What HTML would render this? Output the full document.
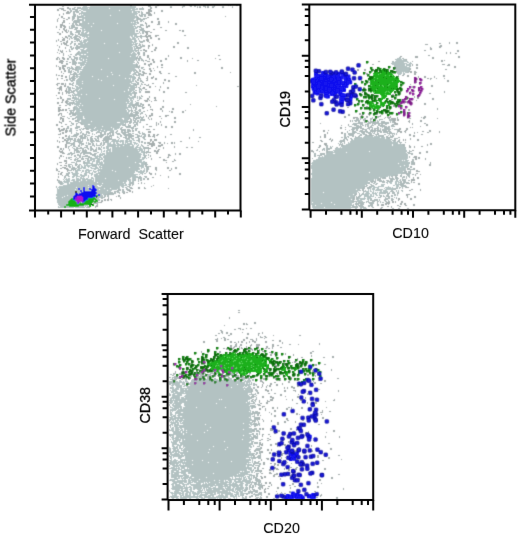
<!DOCTYPE html>
<html><head><meta charset="utf-8"><style>
html,body{margin:0;padding:0;background:#fff;overflow:hidden;}
svg{display:block;}
</style></head><body>
<svg width="520" height="537" viewBox="0 0 520 537" shape-rendering="crispEdges">
<defs><filter id="t" x="-5%" y="-5%" width="110%" height="110%"><feConvolveMatrix order="3" kernelMatrix="0.0016 0.0368 0.0016 0.0368 0.8464 0.0368 0.0016 0.0368 0.0016" edgeMode="none"/></filter></defs><defs><filter id="b" x="-5%" y="-5%" width="110%" height="110%"><feConvolveMatrix order="3" kernelMatrix="0.0196 0.1008 0.0196 0.1008 0.5184 0.1008 0.0196 0.1008 0.0196" edgeMode="none"/></filter></defs><g filter="url(#b)"><path fill="#b3c2c2" d="M83 6h4v1h-4zM90 6h46v1h-46zM82 7h54v1h-54zM81 8h7v1h-7zM89 8h20v1h-20zM110 8h25v1h-25zM136 8h2v1h-2zM81 9h50v1h-50zM132 9h6v1h-6zM83 10h36v1h-36zM120 10h15v1h-15zM81 11h2v1h-2zM86 11h46v1h-46zM133 11h5v1h-5zM81 12h51v1h-51zM133 12h4v1h-4zM81 13h57v1h-57zM81 14h1v1h-1zM83 14h54v1h-54zM81 15h29v1h-29zM111 15h24v1h-24zM136 15h1v1h-1zM81 16h3v1h-3zM85 16h52v1h-52zM81 17h56v1h-56zM82 18h53v1h-53zM136 18h1v1h-1zM81 19h3v1h-3zM85 19h49v1h-49zM136 19h1v1h-1zM81 20h3v1h-3zM85 20h52v1h-52zM82 21h54v1h-54zM82 22h49v1h-49zM132 22h1v1h-1zM134 22h3v1h-3zM81 23h7v1h-7zM89 23h4v1h-4zM94 23h23v1h-23zM118 23h18v1h-18zM81 24h56v1h-56zM81 25h52v1h-52zM134 25h1v1h-1zM81 26h10v1h-10zM92 26h44v1h-44zM82 27h52v1h-52zM135 27h2v1h-2zM81 28h56v1h-56zM82 29h2v1h-2zM85 29h50v1h-50zM82 30h19v1h-19zM102 30h33v1h-33zM136 30h1v1h-1zM82 31h2v1h-2zM86 31h49v1h-49zM136 31h1v1h-1zM81 32h3v1h-3zM85 32h3v1h-3zM89 32h46v1h-46zM81 33h6v1h-6zM89 33h48v1h-48zM81 34h56v1h-56zM81 35h52v1h-52zM134 35h3v1h-3zM82 36h6v1h-6zM89 36h41v1h-41zM131 36h2v1h-2zM134 36h3v1h-3zM84 37h1v1h-1zM86 37h44v1h-44zM132 37h3v1h-3zM136 37h1v1h-1zM83 38h1v1h-1zM87 38h44v1h-44zM132 38h4v1h-4zM84 39h52v1h-52zM81 40h1v1h-1zM83 40h49v1h-49zM134 40h3v1h-3zM81 41h1v1h-1zM83 41h4v1h-4zM88 41h45v1h-45zM134 41h3v1h-3zM80 42h6v1h-6zM87 42h49v1h-49zM80 43h3v1h-3zM84 43h20v1h-20zM105 43h12v1h-12zM118 43h14v1h-14zM133 43h1v1h-1zM135 43h2v1h-2zM80 44h56v1h-56zM80 45h53v1h-53zM135 45h1v1h-1zM80 46h52v1h-52zM133 46h3v1h-3zM80 47h53v1h-53zM134 47h1v1h-1zM83 48h2v1h-2zM87 48h46v1h-46zM134 48h2v1h-2zM80 49h4v1h-4zM86 49h47v1h-47zM134 49h2v1h-2zM81 50h55v1h-55zM79 51h1v1h-1zM81 51h53v1h-53zM135 51h1v1h-1zM79 52h8v1h-8zM88 52h31v1h-31zM120 52h12v1h-12zM133 52h2v1h-2zM79 53h52v1h-52zM132 53h4v1h-4zM79 54h2v1h-2zM83 54h1v1h-1zM86 54h50v1h-50zM79 55h57v1h-57zM80 56h7v1h-7zM88 56h42v1h-42zM131 56h5v1h-5zM79 57h57v1h-57zM79 58h2v1h-2zM82 58h26v1h-26zM109 58h27v1h-27zM397 58h4v1h-4zM79 59h4v1h-4zM84 59h2v1h-2zM87 59h49v1h-49zM396 59h6v1h-6zM403 59h1v1h-1zM80 60h3v1h-3zM84 60h51v1h-51zM396 60h10v1h-10zM82 61h4v1h-4zM87 61h47v1h-47zM395 61h13v1h-13zM78 62h57v1h-57zM393 62h11v1h-11zM407 62h2v1h-2zM78 63h7v1h-7zM86 63h47v1h-47zM392 63h15v1h-15zM409 63h2v1h-2zM80 64h56v1h-56zM392 64h13v1h-13zM406 64h5v1h-5zM80 65h4v1h-4zM85 65h51v1h-51zM394 65h11v1h-11zM406 65h4v1h-4zM78 66h2v1h-2zM81 66h1v1h-1zM84 66h52v1h-52zM394 66h13v1h-13zM409 66h1v1h-1zM78 67h4v1h-4zM83 67h53v1h-53zM393 67h17v1h-17zM77 68h4v1h-4zM83 68h52v1h-52zM394 68h15v1h-15zM77 69h24v1h-24zM102 69h33v1h-33zM394 69h15v1h-15zM77 70h2v1h-2zM82 70h53v1h-53zM396 70h13v1h-13zM77 71h2v1h-2zM80 71h52v1h-52zM133 71h2v1h-2zM396 71h12v1h-12zM77 72h2v1h-2zM80 72h31v1h-31zM112 72h19v1h-19zM134 72h1v1h-1zM397 72h5v1h-5zM403 72h1v1h-1zM405 72h2v1h-2zM79 73h52v1h-52zM133 73h2v1h-2zM397 73h5v1h-5zM403 73h2v1h-2zM77 74h35v1h-35zM113 74h17v1h-17zM132 74h3v1h-3zM398 74h3v1h-3zM77 75h1v1h-1zM80 75h39v1h-39zM120 75h12v1h-12zM133 75h1v1h-1zM76 76h16v1h-16zM93 76h14v1h-14zM108 76h27v1h-27zM76 77h2v1h-2zM79 77h56v1h-56zM78 78h47v1h-47zM126 78h3v1h-3zM130 78h1v1h-1zM132 78h3v1h-3zM77 79h21v1h-21zM99 79h32v1h-32zM132 79h3v1h-3zM76 80h25v1h-25zM102 80h29v1h-29zM132 80h2v1h-2zM76 81h6v1h-6zM83 81h51v1h-51zM76 82h56v1h-56zM76 83h6v1h-6zM83 83h47v1h-47zM131 83h4v1h-4zM76 84h55v1h-55zM133 84h2v1h-2zM75 85h1v1h-1zM78 85h35v1h-35zM114 85h21v1h-21zM75 86h3v1h-3zM79 86h56v1h-56zM76 87h53v1h-53zM130 87h5v1h-5zM76 88h5v1h-5zM82 88h52v1h-52zM75 89h4v1h-4zM80 89h48v1h-48zM129 89h5v1h-5zM75 90h3v1h-3zM79 90h49v1h-49zM129 90h5v1h-5zM74 91h1v1h-1zM76 91h48v1h-48zM125 91h7v1h-7zM133 91h1v1h-1zM77 92h54v1h-54zM132 92h2v1h-2zM74 93h1v1h-1zM77 93h57v1h-57zM74 94h7v1h-7zM82 94h4v1h-4zM87 94h45v1h-45zM74 95h55v1h-55zM130 95h2v1h-2zM75 96h1v1h-1zM78 96h52v1h-52zM132 96h2v1h-2zM74 97h3v1h-3zM78 97h1v1h-1zM80 97h54v1h-54zM74 98h5v1h-5zM80 98h19v1h-19zM100 98h28v1h-28zM129 98h5v1h-5zM74 99h40v1h-40zM115 99h14v1h-14zM130 99h2v1h-2zM133 99h1v1h-1zM74 100h1v1h-1zM76 100h1v1h-1zM78 100h51v1h-51zM130 100h3v1h-3zM75 101h55v1h-55zM131 101h2v1h-2zM74 102h1v1h-1zM76 102h50v1h-50zM127 102h2v1h-2zM130 102h3v1h-3zM74 103h6v1h-6zM81 103h52v1h-52zM74 104h53v1h-53zM129 104h3v1h-3zM76 105h3v1h-3zM80 105h2v1h-2zM83 105h44v1h-44zM128 105h4v1h-4zM75 106h2v1h-2zM78 106h49v1h-49zM128 106h3v1h-3zM75 107h3v1h-3zM79 107h53v1h-53zM75 108h53v1h-53zM75 109h5v1h-5zM81 109h45v1h-45zM127 109h2v1h-2zM76 110h51v1h-51zM128 110h3v1h-3zM76 111h4v1h-4zM82 111h45v1h-45zM128 111h2v1h-2zM76 112h53v1h-53zM76 113h53v1h-53zM76 114h54v1h-54zM77 115h52v1h-52zM77 116h6v1h-6zM84 116h45v1h-45zM77 117h6v1h-6zM84 117h45v1h-45zM77 118h6v1h-6zM85 118h37v1h-37zM124 118h5v1h-5zM78 119h45v1h-45zM124 119h4v1h-4zM78 120h2v1h-2zM81 120h47v1h-47zM81 121h10v1h-10zM92 121h35v1h-35zM81 122h36v1h-36zM120 122h7v1h-7zM82 123h42v1h-42zM83 124h5v1h-5zM90 124h34v1h-34zM84 125h37v1h-37zM122 125h1v1h-1zM85 126h17v1h-17zM103 126h17v1h-17zM86 127h9v1h-9zM96 127h15v1h-15zM112 127h8v1h-8zM88 128h6v1h-6zM95 128h18v1h-18zM114 128h5v1h-5zM91 129h10v1h-10zM102 129h11v1h-11zM114 129h3v1h-3zM90 130h7v1h-7zM98 130h6v1h-6zM105 130h9v1h-9zM97 131h3v1h-3zM101 131h6v1h-6zM110 131h3v1h-3zM364 136h9v1h-9zM374 136h8v1h-8zM358 137h4v1h-4zM363 137h17v1h-17zM381 137h4v1h-4zM354 138h31v1h-31zM386 138h2v1h-2zM126 139h4v1h-4zM132 139h2v1h-2zM352 139h1v1h-1zM354 139h37v1h-37zM112 140h7v1h-7zM120 140h4v1h-4zM125 140h3v1h-3zM129 140h3v1h-3zM133 140h2v1h-2zM136 140h1v1h-1zM351 140h40v1h-40zM392 140h1v1h-1zM108 141h1v1h-1zM111 141h13v1h-13zM125 141h7v1h-7zM350 141h42v1h-42zM393 141h3v1h-3zM107 142h2v1h-2zM110 142h1v1h-1zM113 142h2v1h-2zM116 142h2v1h-2zM120 142h1v1h-1zM122 142h2v1h-2zM125 142h3v1h-3zM130 142h2v1h-2zM133 142h3v1h-3zM348 142h1v1h-1zM350 142h48v1h-48zM107 143h4v1h-4zM113 143h2v1h-2zM116 143h3v1h-3zM122 143h2v1h-2zM125 143h1v1h-1zM127 143h5v1h-5zM134 143h4v1h-4zM348 143h50v1h-50zM107 144h9v1h-9zM117 144h16v1h-16zM134 144h1v1h-1zM136 144h1v1h-1zM138 144h1v1h-1zM346 144h46v1h-46zM393 144h9v1h-9zM107 145h16v1h-16zM124 145h6v1h-6zM132 145h2v1h-2zM137 145h2v1h-2zM344 145h48v1h-48zM393 145h10v1h-10zM106 146h10v1h-10zM117 146h2v1h-2zM120 146h14v1h-14zM136 146h2v1h-2zM140 146h1v1h-1zM341 146h63v1h-63zM103 147h2v1h-2zM106 147h3v1h-3zM112 147h22v1h-22zM135 147h6v1h-6zM340 147h1v1h-1zM342 147h63v1h-63zM103 148h2v1h-2zM106 148h3v1h-3zM110 148h1v1h-1zM112 148h25v1h-25zM139 148h3v1h-3zM336 148h70v1h-70zM101 149h1v1h-1zM107 149h4v1h-4zM112 149h31v1h-31zM335 149h71v1h-71zM101 150h1v1h-1zM104 150h1v1h-1zM106 150h5v1h-5zM112 150h26v1h-26zM139 150h4v1h-4zM333 150h74v1h-74zM101 151h1v1h-1zM103 151h2v1h-2zM106 151h2v1h-2zM109 151h2v1h-2zM112 151h28v1h-28zM141 151h3v1h-3zM330 151h3v1h-3zM334 151h35v1h-35zM370 151h37v1h-37zM98 152h1v1h-1zM101 152h1v1h-1zM106 152h33v1h-33zM141 152h3v1h-3zM328 152h18v1h-18zM347 152h59v1h-59zM100 153h1v1h-1zM102 153h3v1h-3zM106 153h35v1h-35zM143 153h1v1h-1zM326 153h7v1h-7zM335 153h72v1h-72zM99 154h6v1h-6zM106 154h36v1h-36zM143 154h1v1h-1zM326 154h82v1h-82zM95 155h1v1h-1zM97 155h1v1h-1zM99 155h4v1h-4zM104 155h37v1h-37zM143 155h1v1h-1zM324 155h84v1h-84zM94 156h7v1h-7zM103 156h24v1h-24zM128 156h13v1h-13zM322 156h1v1h-1zM324 156h84v1h-84zM95 157h3v1h-3zM99 157h3v1h-3zM103 157h38v1h-38zM142 157h2v1h-2zM318 157h90v1h-90zM91 158h9v1h-9zM101 158h2v1h-2zM104 158h36v1h-36zM142 158h3v1h-3zM318 158h90v1h-90zM90 159h5v1h-5zM97 159h6v1h-6zM104 159h40v1h-40zM316 159h91v1h-91zM88 160h4v1h-4zM93 160h2v1h-2zM96 160h4v1h-4zM103 160h39v1h-39zM313 160h89v1h-89zM403 160h1v1h-1zM405 160h4v1h-4zM87 161h3v1h-3zM92 161h3v1h-3zM96 161h4v1h-4zM101 161h1v1h-1zM103 161h39v1h-39zM143 161h2v1h-2zM313 161h95v1h-95zM86 162h4v1h-4zM92 162h1v1h-1zM96 162h7v1h-7zM104 162h31v1h-31zM136 162h9v1h-9zM312 162h97v1h-97zM85 163h8v1h-8zM96 163h2v1h-2zM99 163h4v1h-4zM104 163h35v1h-35zM141 163h4v1h-4zM311 163h87v1h-87zM399 163h10v1h-10zM84 164h1v1h-1zM86 164h2v1h-2zM91 164h49v1h-49zM141 164h4v1h-4zM312 164h97v1h-97zM84 165h13v1h-13zM98 165h1v1h-1zM100 165h44v1h-44zM311 165h93v1h-93zM405 165h4v1h-4zM81 166h2v1h-2zM84 166h2v1h-2zM87 166h3v1h-3zM92 166h5v1h-5zM99 166h2v1h-2zM102 166h42v1h-42zM311 166h89v1h-89zM401 166h7v1h-7zM81 167h5v1h-5zM88 167h1v1h-1zM90 167h2v1h-2zM95 167h3v1h-3zM99 167h30v1h-30zM130 167h9v1h-9zM141 167h3v1h-3zM311 167h96v1h-96zM78 168h4v1h-4zM83 168h3v1h-3zM91 168h8v1h-8zM100 168h1v1h-1zM102 168h38v1h-38zM141 168h1v1h-1zM144 168h1v1h-1zM311 168h95v1h-95zM77 169h3v1h-3zM86 169h3v1h-3zM94 169h2v1h-2zM98 169h42v1h-42zM144 169h1v1h-1zM312 169h94v1h-94zM76 170h5v1h-5zM82 170h2v1h-2zM85 170h7v1h-7zM93 170h1v1h-1zM97 170h15v1h-15zM113 170h25v1h-25zM140 170h2v1h-2zM143 170h2v1h-2zM312 170h93v1h-93zM75 171h3v1h-3zM82 171h2v1h-2zM85 171h2v1h-2zM88 171h2v1h-2zM93 171h4v1h-4zM98 171h1v1h-1zM100 171h15v1h-15zM116 171h19v1h-19zM136 171h8v1h-8zM312 171h91v1h-91zM75 172h3v1h-3zM81 172h1v1h-1zM85 172h5v1h-5zM92 172h1v1h-1zM94 172h2v1h-2zM98 172h37v1h-37zM138 172h5v1h-5zM312 172h57v1h-57zM370 172h33v1h-33zM72 173h7v1h-7zM84 173h3v1h-3zM89 173h4v1h-4zM96 173h38v1h-38zM140 173h2v1h-2zM311 173h91v1h-91zM72 174h6v1h-6zM80 174h2v1h-2zM84 174h3v1h-3zM91 174h2v1h-2zM94 174h4v1h-4zM99 174h39v1h-39zM139 174h1v1h-1zM311 174h87v1h-87zM73 175h5v1h-5zM80 175h7v1h-7zM88 175h1v1h-1zM91 175h1v1h-1zM94 175h42v1h-42zM312 175h81v1h-81zM69 176h1v1h-1zM72 176h3v1h-3zM76 176h4v1h-4zM81 176h4v1h-4zM88 176h1v1h-1zM94 176h44v1h-44zM312 176h76v1h-76zM72 177h2v1h-2zM76 177h1v1h-1zM80 177h2v1h-2zM83 177h1v1h-1zM88 177h1v1h-1zM91 177h2v1h-2zM95 177h36v1h-36zM132 177h5v1h-5zM312 177h67v1h-67zM380 177h3v1h-3zM66 178h1v1h-1zM68 178h2v1h-2zM76 178h3v1h-3zM80 178h5v1h-5zM86 178h2v1h-2zM91 178h3v1h-3zM95 178h10v1h-10zM106 178h24v1h-24zM132 178h4v1h-4zM311 178h67v1h-67zM65 179h5v1h-5zM72 179h3v1h-3zM76 179h5v1h-5zM82 179h10v1h-10zM93 179h1v1h-1zM95 179h36v1h-36zM132 179h3v1h-3zM311 179h63v1h-63zM64 180h1v1h-1zM66 180h4v1h-4zM71 180h4v1h-4zM76 180h5v1h-5zM82 180h4v1h-4zM87 180h7v1h-7zM95 180h23v1h-23zM119 180h8v1h-8zM128 180h3v1h-3zM132 180h2v1h-2zM311 180h61v1h-61zM397 180h1v1h-1zM399 180h1v1h-1zM63 181h7v1h-7zM73 181h6v1h-6zM80 181h14v1h-14zM95 181h32v1h-32zM129 181h2v1h-2zM132 181h1v1h-1zM311 181h57v1h-57zM392 181h1v1h-1zM395 181h4v1h-4zM62 182h1v1h-1zM64 182h5v1h-5zM70 182h27v1h-27zM98 182h25v1h-25zM124 182h2v1h-2zM129 182h2v1h-2zM311 182h58v1h-58zM387 182h1v1h-1zM389 182h3v1h-3zM395 182h2v1h-2zM398 182h2v1h-2zM62 183h2v1h-2zM67 183h2v1h-2zM70 183h32v1h-32zM103 183h23v1h-23zM129 183h1v1h-1zM311 183h57v1h-57zM387 183h1v1h-1zM390 183h2v1h-2zM395 183h2v1h-2zM398 183h1v1h-1zM62 184h1v1h-1zM67 184h57v1h-57zM125 184h2v1h-2zM128 184h1v1h-1zM311 184h55v1h-55zM381 184h4v1h-4zM395 184h4v1h-4zM63 185h25v1h-25zM89 185h8v1h-8zM99 185h2v1h-2zM102 185h25v1h-25zM311 185h54v1h-54zM381 185h3v1h-3zM393 185h2v1h-2zM396 185h3v1h-3zM59 186h39v1h-39zM101 186h19v1h-19zM121 186h3v1h-3zM311 186h53v1h-53zM372 186h3v1h-3zM378 186h6v1h-6zM388 186h1v1h-1zM396 186h3v1h-3zM58 187h18v1h-18zM77 187h11v1h-11zM89 187h31v1h-31zM122 187h2v1h-2zM311 187h52v1h-52zM371 187h1v1h-1zM373 187h6v1h-6zM385 187h6v1h-6zM392 187h1v1h-1zM396 187h1v1h-1zM57 188h1v1h-1zM59 188h45v1h-45zM105 188h5v1h-5zM111 188h9v1h-9zM311 188h51v1h-51zM370 188h1v1h-1zM372 188h3v1h-3zM377 188h2v1h-2zM384 188h1v1h-1zM386 188h9v1h-9zM57 189h18v1h-18zM76 189h23v1h-23zM100 189h17v1h-17zM311 189h45v1h-45zM357 189h3v1h-3zM368 189h1v1h-1zM370 189h1v1h-1zM372 189h3v1h-3zM376 189h7v1h-7zM385 189h8v1h-8zM57 190h50v1h-50zM108 190h4v1h-4zM311 190h48v1h-48zM368 190h1v1h-1zM370 190h1v1h-1zM373 190h1v1h-1zM375 190h7v1h-7zM383 190h4v1h-4zM57 191h54v1h-54zM311 191h47v1h-47zM366 191h3v1h-3zM370 191h2v1h-2zM373 191h1v1h-1zM380 191h2v1h-2zM383 191h5v1h-5zM57 192h53v1h-53zM311 192h12v1h-12zM324 192h33v1h-33zM366 192h3v1h-3zM372 192h2v1h-2zM375 192h1v1h-1zM377 192h1v1h-1zM379 192h7v1h-7zM57 193h51v1h-51zM311 193h45v1h-45zM365 193h5v1h-5zM372 193h5v1h-5zM379 193h5v1h-5zM56 194h46v1h-46zM103 194h2v1h-2zM311 194h42v1h-42zM354 194h1v1h-1zM363 194h6v1h-6zM370 194h2v1h-2zM373 194h1v1h-1zM375 194h2v1h-2zM379 194h1v1h-1zM56 195h11v1h-11zM68 195h35v1h-35zM311 195h43v1h-43zM361 195h1v1h-1zM364 195h5v1h-5zM370 195h2v1h-2zM373 195h1v1h-1zM376 195h2v1h-2zM57 196h7v1h-7zM65 196h32v1h-32zM98 196h4v1h-4zM311 196h38v1h-38zM350 196h4v1h-4zM360 196h1v1h-1zM364 196h10v1h-10zM56 197h6v1h-6zM63 197h38v1h-38zM311 197h42v1h-42zM359 197h1v1h-1zM364 197h1v1h-1zM367 197h4v1h-4zM56 198h43v1h-43zM311 198h42v1h-42zM358 198h8v1h-8zM367 198h4v1h-4zM57 199h43v1h-43zM311 199h40v1h-40zM352 199h1v1h-1zM357 199h2v1h-2zM360 199h5v1h-5zM367 199h1v1h-1zM57 200h35v1h-35zM93 200h4v1h-4zM98 200h1v1h-1zM311 200h42v1h-42zM357 200h5v1h-5zM57 201h35v1h-35zM93 201h5v1h-5zM311 201h41v1h-41zM357 201h5v1h-5zM57 202h39v1h-39zM311 202h1v1h-1zM313 202h18v1h-18zM332 202h20v1h-20zM58 203h11v1h-11zM70 203h22v1h-22zM311 203h10v1h-10zM322 203h30v1h-30zM58 204h10v1h-10zM69 204h19v1h-19zM90 204h1v1h-1zM311 204h23v1h-23zM335 204h17v1h-17zM59 205h29v1h-29zM312 205h3v1h-3zM316 205h36v1h-36zM58 206h1v1h-1zM60 206h5v1h-5zM66 206h11v1h-11zM78 206h6v1h-6zM312 206h39v1h-39zM59 207h15v1h-15zM75 207h7v1h-7zM312 207h12v1h-12zM325 207h26v1h-26zM313 208h38v1h-38zM228 378h4v1h-4zM236 378h4v1h-4zM241 378h7v1h-7zM192 379h7v1h-7zM200 379h4v1h-4zM205 379h8v1h-8zM214 379h4v1h-4zM219 379h3v1h-3zM223 379h9v1h-9zM233 379h3v1h-3zM237 379h8v1h-8zM248 379h2v1h-2zM179 380h2v1h-2zM185 380h2v1h-2zM191 380h4v1h-4zM196 380h31v1h-31zM228 380h9v1h-9zM238 380h6v1h-6zM245 380h1v1h-1zM247 380h3v1h-3zM172 381h3v1h-3zM176 381h2v1h-2zM179 381h3v1h-3zM183 381h1v1h-1zM185 381h3v1h-3zM191 381h51v1h-51zM244 381h7v1h-7zM172 382h13v1h-13zM186 382h3v1h-3zM190 382h55v1h-55zM246 382h4v1h-4zM171 383h9v1h-9zM182 383h3v1h-3zM186 383h59v1h-59zM246 383h2v1h-2zM249 383h1v1h-1zM172 384h8v1h-8zM182 384h3v1h-3zM186 384h51v1h-51zM238 384h13v1h-13zM171 385h3v1h-3zM175 385h7v1h-7zM184 385h4v1h-4zM190 385h60v1h-60zM172 386h1v1h-1zM176 386h6v1h-6zM183 386h2v1h-2zM186 386h58v1h-58zM245 386h2v1h-2zM248 386h3v1h-3zM171 387h3v1h-3zM176 387h6v1h-6zM187 387h44v1h-44zM232 387h11v1h-11zM244 387h1v1h-1zM247 387h4v1h-4zM171 388h3v1h-3zM175 388h4v1h-4zM180 388h71v1h-71zM172 389h7v1h-7zM180 389h4v1h-4zM185 389h2v1h-2zM188 389h56v1h-56zM245 389h6v1h-6zM172 390h5v1h-5zM180 390h71v1h-71zM171 391h7v1h-7zM180 391h20v1h-20zM201 391h50v1h-50zM171 392h3v1h-3zM175 392h9v1h-9zM185 392h66v1h-66zM173 393h75v1h-75zM172 394h3v1h-3zM177 394h5v1h-5zM186 394h62v1h-62zM249 394h2v1h-2zM172 395h10v1h-10zM185 395h64v1h-64zM172 396h8v1h-8zM184 396h66v1h-66zM171 397h9v1h-9zM181 397h3v1h-3zM185 397h66v1h-66zM171 398h9v1h-9zM181 398h70v1h-70zM171 399h1v1h-1zM173 399h1v1h-1zM175 399h44v1h-44zM220 399h1v1h-1zM222 399h28v1h-28zM171 400h15v1h-15zM187 400h61v1h-61zM171 401h2v1h-2zM174 401h4v1h-4zM179 401h69v1h-69zM249 401h1v1h-1zM171 402h2v1h-2zM174 402h72v1h-72zM247 402h3v1h-3zM171 403h1v1h-1zM173 403h9v1h-9zM184 403h32v1h-32zM217 403h34v1h-34zM172 404h2v1h-2zM175 404h6v1h-6zM184 404h66v1h-66zM172 405h9v1h-9zM184 405h65v1h-65zM250 405h2v1h-2zM173 406h9v1h-9zM185 406h67v1h-67zM171 407h2v1h-2zM174 407h8v1h-8zM183 407h13v1h-13zM197 407h28v1h-28zM226 407h24v1h-24zM251 407h1v1h-1zM172 408h7v1h-7zM180 408h2v1h-2zM183 408h67v1h-67zM251 408h1v1h-1zM171 409h6v1h-6zM178 409h72v1h-72zM171 410h5v1h-5zM177 410h74v1h-74zM172 411h1v1h-1zM176 411h73v1h-73zM250 411h1v1h-1zM171 412h1v1h-1zM175 412h6v1h-6zM183 412h68v1h-68zM171 413h1v1h-1zM175 413h77v1h-77zM171 414h2v1h-2zM175 414h1v1h-1zM178 414h74v1h-74zM171 415h1v1h-1zM173 415h3v1h-3zM177 415h74v1h-74zM171 416h5v1h-5zM178 416h2v1h-2zM182 416h69v1h-69zM171 417h2v1h-2zM174 417h75v1h-75zM250 417h1v1h-1zM171 418h80v1h-80zM171 419h5v1h-5zM177 419h2v1h-2zM180 419h3v1h-3zM184 419h68v1h-68zM172 420h2v1h-2zM175 420h77v1h-77zM171 421h1v1h-1zM173 421h1v1h-1zM175 421h3v1h-3zM179 421h3v1h-3zM183 421h67v1h-67zM171 422h8v1h-8zM180 422h1v1h-1zM182 422h70v1h-70zM171 423h5v1h-5zM177 423h2v1h-2zM180 423h63v1h-63zM244 423h8v1h-8zM171 424h2v1h-2zM174 424h5v1h-5zM183 424h22v1h-22zM206 424h43v1h-43zM250 424h2v1h-2zM172 425h1v1h-1zM174 425h76v1h-76zM251 425h1v1h-1zM174 426h4v1h-4zM179 426h72v1h-72zM172 427h2v1h-2zM175 427h35v1h-35zM211 427h38v1h-38zM171 428h3v1h-3zM175 428h4v1h-4zM180 428h2v1h-2zM184 428h68v1h-68zM171 429h3v1h-3zM175 429h5v1h-5zM181 429h2v1h-2zM184 429h59v1h-59zM244 429h8v1h-8zM171 430h3v1h-3zM175 430h4v1h-4zM180 430h3v1h-3zM184 430h2v1h-2zM187 430h20v1h-20zM208 430h44v1h-44zM172 431h9v1h-9zM182 431h70v1h-70zM173 432h8v1h-8zM182 432h4v1h-4zM187 432h17v1h-17zM205 432h47v1h-47zM173 433h10v1h-10zM184 433h65v1h-65zM171 434h12v1h-12zM184 434h7v1h-7zM192 434h60v1h-60zM171 435h3v1h-3zM176 435h67v1h-67zM244 435h7v1h-7zM172 436h2v1h-2zM176 436h76v1h-76zM171 437h3v1h-3zM175 437h75v1h-75zM251 437h1v1h-1zM172 438h7v1h-7zM180 438h72v1h-72zM172 439h2v1h-2zM175 439h6v1h-6zM182 439h2v1h-2zM185 439h57v1h-57zM243 439h9v1h-9zM173 440h8v1h-8zM182 440h15v1h-15zM198 440h54v1h-54zM171 441h1v1h-1zM173 441h5v1h-5zM179 441h1v1h-1zM182 441h42v1h-42zM225 441h25v1h-25zM251 441h1v1h-1zM171 442h6v1h-6zM179 442h70v1h-70zM251 442h1v1h-1zM172 443h5v1h-5zM180 443h72v1h-72zM172 444h7v1h-7zM180 444h72v1h-72zM172 445h2v1h-2zM177 445h5v1h-5zM183 445h68v1h-68zM172 446h3v1h-3zM176 446h2v1h-2zM179 446h2v1h-2zM183 446h30v1h-30zM214 446h38v1h-38zM173 447h5v1h-5zM179 447h2v1h-2zM183 447h1v1h-1zM185 447h42v1h-42zM228 447h21v1h-21zM250 447h2v1h-2zM172 448h6v1h-6zM179 448h4v1h-4zM184 448h65v1h-65zM173 449h3v1h-3zM177 449h2v1h-2zM181 449h1v1h-1zM183 449h26v1h-26zM210 449h15v1h-15zM226 449h25v1h-25zM173 450h6v1h-6zM181 450h69v1h-69zM172 451h8v1h-8zM183 451h4v1h-4zM188 451h63v1h-63zM171 452h3v1h-3zM175 452h2v1h-2zM178 452h30v1h-30zM209 452h39v1h-39zM249 452h2v1h-2zM171 453h1v1h-1zM174 453h5v1h-5zM180 453h72v1h-72zM171 454h9v1h-9zM181 454h2v1h-2zM184 454h68v1h-68zM171 455h81v1h-81zM171 456h1v1h-1zM173 456h11v1h-11zM185 456h64v1h-64zM251 456h1v1h-1zM171 457h1v1h-1zM173 457h1v1h-1zM178 457h4v1h-4zM185 457h68v1h-68zM171 458h1v1h-1zM178 458h3v1h-3zM185 458h61v1h-61zM249 458h1v1h-1zM251 458h2v1h-2zM171 459h1v1h-1zM174 459h2v1h-2zM180 459h71v1h-71zM252 459h1v1h-1zM171 460h1v1h-1zM173 460h5v1h-5zM180 460h12v1h-12zM193 460h9v1h-9zM203 460h48v1h-48zM252 460h1v1h-1zM171 461h6v1h-6zM178 461h5v1h-5zM184 461h1v1h-1zM186 461h45v1h-45zM232 461h17v1h-17zM252 461h1v1h-1zM171 462h37v1h-37zM209 462h8v1h-8zM218 462h33v1h-33zM252 462h1v1h-1zM171 463h8v1h-8zM180 463h1v1h-1zM182 463h65v1h-65zM248 463h1v1h-1zM171 464h4v1h-4zM176 464h2v1h-2zM179 464h2v1h-2zM183 464h1v1h-1zM185 464h7v1h-7zM193 464h59v1h-59zM172 465h74v1h-74zM247 465h6v1h-6zM173 466h6v1h-6zM180 466h66v1h-66zM247 466h2v1h-2zM252 466h1v1h-1zM171 467h4v1h-4zM176 467h1v1h-1zM178 467h2v1h-2zM181 467h4v1h-4zM187 467h65v1h-65zM171 468h9v1h-9zM181 468h4v1h-4zM187 468h1v1h-1zM189 468h63v1h-63zM172 469h5v1h-5zM178 469h4v1h-4zM184 469h63v1h-63zM248 469h4v1h-4zM171 470h8v1h-8zM181 470h66v1h-66zM250 470h3v1h-3zM171 471h3v1h-3zM176 471h3v1h-3zM181 471h59v1h-59zM242 471h1v1h-1zM244 471h6v1h-6zM251 471h2v1h-2zM171 472h15v1h-15zM188 472h62v1h-62zM251 472h2v1h-2zM171 473h2v1h-2zM174 473h5v1h-5zM181 473h5v1h-5zM188 473h25v1h-25zM214 473h25v1h-25zM240 473h8v1h-8zM171 474h8v1h-8zM183 474h4v1h-4zM191 474h46v1h-46zM238 474h14v1h-14zM171 475h18v1h-18zM191 475h54v1h-54zM249 475h3v1h-3zM171 476h12v1h-12zM184 476h5v1h-5zM190 476h43v1h-43zM234 476h10v1h-10zM245 476h1v1h-1zM247 476h3v1h-3zM251 476h1v1h-1zM171 477h6v1h-6zM178 477h2v1h-2zM181 477h1v1h-1zM183 477h9v1h-9zM194 477h12v1h-12zM207 477h23v1h-23zM232 477h1v1h-1zM235 477h1v1h-1zM239 477h1v1h-1zM241 477h1v1h-1zM243 477h3v1h-3zM248 477h2v1h-2zM251 477h1v1h-1zM174 478h6v1h-6zM181 478h7v1h-7zM189 478h42v1h-42zM232 478h1v1h-1zM235 478h7v1h-7zM243 478h2v1h-2zM246 478h1v1h-1zM248 478h4v1h-4zM171 479h7v1h-7zM182 479h1v1h-1zM184 479h2v1h-2zM188 479h2v1h-2zM191 479h8v1h-8zM200 479h42v1h-42zM243 479h4v1h-4zM249 479h2v1h-2zM171 480h4v1h-4zM177 480h10v1h-10zM188 480h26v1h-26zM215 480h4v1h-4zM220 480h4v1h-4zM225 480h1v1h-1zM228 480h4v1h-4zM234 480h2v1h-2zM238 480h3v1h-3zM242 480h9v1h-9zM172 481h15v1h-15zM188 481h3v1h-3zM192 481h5v1h-5zM198 481h26v1h-26zM225 481h3v1h-3zM229 481h3v1h-3zM234 481h17v1h-17zM173 482h10v1h-10zM184 482h3v1h-3zM188 482h5v1h-5zM194 482h10v1h-10zM205 482h1v1h-1zM207 482h2v1h-2zM210 482h9v1h-9zM220 482h12v1h-12zM233 482h1v1h-1zM235 482h8v1h-8zM245 482h5v1h-5zM172 483h5v1h-5zM179 483h5v1h-5zM187 483h4v1h-4zM196 483h5v1h-5zM203 483h1v1h-1zM205 483h2v1h-2zM208 483h19v1h-19zM229 483h2v1h-2zM232 483h5v1h-5zM240 483h4v1h-4zM246 483h3v1h-3zM171 484h3v1h-3zM175 484h5v1h-5zM182 484h7v1h-7zM190 484h11v1h-11zM202 484h13v1h-13zM216 484h22v1h-22zM239 484h4v1h-4zM245 484h3v1h-3zM172 485h2v1h-2zM175 485h6v1h-6zM183 485h2v1h-2zM186 485h1v1h-1zM191 485h32v1h-32zM224 485h4v1h-4zM229 485h14v1h-14zM245 485h3v1h-3zM172 486h13v1h-13zM186 486h1v1h-1zM189 486h2v1h-2zM193 486h16v1h-16zM210 486h3v1h-3zM215 486h1v1h-1zM218 486h13v1h-13zM232 486h7v1h-7zM240 486h3v1h-3zM246 486h1v1h-1zM172 487h11v1h-11zM184 487h8v1h-8zM193 487h9v1h-9zM203 487h8v1h-8zM213 487h3v1h-3zM218 487h5v1h-5zM225 487h1v1h-1zM227 487h4v1h-4zM233 487h2v1h-2zM236 487h8v1h-8zM245 487h2v1h-2zM171 488h17v1h-17zM190 488h2v1h-2zM193 488h9v1h-9zM203 488h2v1h-2zM206 488h1v1h-1zM208 488h16v1h-16zM225 488h6v1h-6zM232 488h2v1h-2zM235 488h9v1h-9zM245 488h2v1h-2zM172 489h8v1h-8zM181 489h2v1h-2zM185 489h3v1h-3zM189 489h3v1h-3zM193 489h2v1h-2zM197 489h4v1h-4zM202 489h1v1h-1zM204 489h1v1h-1zM206 489h6v1h-6zM213 489h12v1h-12zM226 489h8v1h-8zM235 489h8v1h-8zM244 489h2v1h-2zM175 490h8v1h-8zM184 490h4v1h-4zM190 490h2v1h-2zM198 490h5v1h-5zM204 490h1v1h-1zM206 490h14v1h-14zM222 490h12v1h-12zM235 490h1v1h-1zM237 490h4v1h-4zM242 490h3v1h-3zM174 491h5v1h-5zM181 491h8v1h-8zM190 491h4v1h-4zM197 491h5v1h-5zM205 491h1v1h-1zM207 491h21v1h-21zM229 491h1v1h-1zM232 491h3v1h-3zM236 491h2v1h-2zM239 491h4v1h-4zM244 491h1v1h-1zM171 492h2v1h-2zM174 492h7v1h-7zM182 492h2v1h-2zM186 492h5v1h-5zM192 492h4v1h-4zM197 492h19v1h-19zM217 492h14v1h-14zM234 492h5v1h-5zM240 492h3v1h-3zM171 493h13v1h-13zM185 493h3v1h-3zM189 493h2v1h-2zM192 493h8v1h-8zM201 493h1v1h-1zM205 493h8v1h-8zM214 493h2v1h-2zM217 493h3v1h-3zM221 493h12v1h-12zM236 493h3v1h-3zM240 493h4v1h-4zM172 494h1v1h-1zM174 494h3v1h-3zM179 494h2v1h-2zM182 494h2v1h-2zM185 494h3v1h-3zM189 494h2v1h-2zM193 494h6v1h-6zM200 494h8v1h-8zM210 494h6v1h-6zM219 494h1v1h-1zM221 494h2v1h-2zM225 494h8v1h-8zM234 494h5v1h-5zM240 494h3v1h-3zM172 495h5v1h-5zM180 495h4v1h-4zM185 495h6v1h-6zM193 495h2v1h-2zM197 495h1v1h-1zM199 495h8v1h-8zM208 495h6v1h-6zM218 495h6v1h-6zM225 495h3v1h-3zM230 495h4v1h-4zM235 495h2v1h-2zM238 495h1v1h-1zM240 495h2v1h-2zM172 496h7v1h-7zM180 496h2v1h-2zM183 496h19v1h-19zM204 496h7v1h-7zM212 496h2v1h-2zM216 496h12v1h-12zM230 496h7v1h-7zM238 496h2v1h-2zM175 497h3v1h-3zM180 497h18v1h-18zM199 497h4v1h-4zM204 497h24v1h-24zM233 497h2v1h-2zM236 497h1v1h-1z"/><path fill="#adbaba" d="M183 5h2v1h-2zM189 5h3v1h-3zM194 5h2v1h-2zM203 5h3v1h-3zM207 5h2v1h-2zM214 5h1v1h-1zM228 5h1v1h-1zM230 5h1v1h-1zM236 5h2v1h-2zM170 6h2v1h-2zM182 6h3v1h-3zM190 6h2v1h-2zM194 6h2v1h-2zM197 6h1v1h-1zM199 6h2v1h-2zM203 6h3v1h-3zM207 6h2v1h-2zM212 6h3v1h-3zM222 6h2v1h-2zM232 6h1v1h-1zM74 7h2v1h-2zM77 7h4v1h-4zM142 7h1v1h-1zM69 8h2v1h-2zM72 8h3v1h-3zM77 8h4v1h-4zM139 8h5v1h-5zM69 9h2v1h-2zM72 9h6v1h-6zM139 9h5v1h-5zM70 10h2v1h-2zM75 10h3v1h-3zM79 10h2v1h-2zM70 11h2v1h-2zM73 11h6v1h-6zM138 11h2v1h-2zM141 11h1v1h-1zM69 12h2v1h-2zM73 12h2v1h-2zM76 12h3v1h-3zM138 12h2v1h-2zM141 12h2v1h-2zM69 13h1v1h-1zM73 13h2v1h-2zM79 13h2v1h-2zM141 13h2v1h-2zM73 14h3v1h-3zM79 14h1v1h-1zM139 14h1v1h-1zM141 14h5v1h-5zM73 15h3v1h-3zM77 15h1v1h-1zM139 15h4v1h-4zM144 15h2v1h-2zM72 16h4v1h-4zM77 16h4v1h-4zM137 16h1v1h-1zM140 16h3v1h-3zM144 16h2v1h-2zM69 17h1v1h-1zM72 17h3v1h-3zM77 17h4v1h-4zM137 17h2v1h-2zM69 18h1v1h-1zM72 18h3v1h-3zM77 18h2v1h-2zM137 18h4v1h-4zM143 18h3v1h-3zM72 19h2v1h-2zM77 19h4v1h-4zM137 19h8v1h-8zM72 20h1v1h-1zM74 20h7v1h-7zM137 20h1v1h-1zM140 20h3v1h-3zM73 21h7v1h-7zM137 21h1v1h-1zM140 21h2v1h-2zM143 21h1v1h-1zM73 22h7v1h-7zM137 22h2v1h-2zM69 23h1v1h-1zM72 23h2v1h-2zM75 23h2v1h-2zM79 23h2v1h-2zM137 23h2v1h-2zM72 24h2v1h-2zM75 24h3v1h-3zM79 24h2v1h-2zM140 24h3v1h-3zM71 25h4v1h-4zM76 25h5v1h-5zM140 25h4v1h-4zM69 26h1v1h-1zM71 26h4v1h-4zM137 26h4v1h-4zM69 27h1v1h-1zM71 27h7v1h-7zM137 27h1v1h-1zM139 27h3v1h-3zM69 28h4v1h-4zM75 28h3v1h-3zM80 28h1v1h-1zM141 28h3v1h-3zM74 29h3v1h-3zM139 29h5v1h-5zM68 30h1v1h-1zM76 30h5v1h-5zM137 30h1v1h-1zM140 30h5v1h-5zM68 31h1v1h-1zM70 31h2v1h-2zM76 31h5v1h-5zM137 31h1v1h-1zM139 31h1v1h-1zM142 31h3v1h-3zM70 32h2v1h-2zM75 32h5v1h-5zM139 32h1v1h-1zM142 32h2v1h-2zM70 33h3v1h-3zM78 33h2v1h-2zM137 33h2v1h-2zM140 33h1v1h-1zM142 33h2v1h-2zM70 34h4v1h-4zM75 34h1v1h-1zM78 34h3v1h-3zM68 35h2v1h-2zM72 35h1v1h-1zM75 35h3v1h-3zM80 35h1v1h-1zM140 35h2v1h-2zM68 36h4v1h-4zM74 36h6v1h-6zM137 36h8v1h-8zM70 37h2v1h-2zM73 37h4v1h-4zM79 37h2v1h-2zM137 37h1v1h-1zM140 37h2v1h-2zM69 38h1v1h-1zM71 38h2v1h-2zM74 38h5v1h-5zM80 38h1v1h-1zM138 38h1v1h-1zM141 38h1v1h-1zM69 39h1v1h-1zM74 39h6v1h-6zM138 39h1v1h-1zM76 40h4v1h-4zM139 40h1v1h-1zM143 40h2v1h-2zM71 41h2v1h-2zM74 41h2v1h-2zM77 41h1v1h-1zM79 41h2v1h-2zM139 41h6v1h-6zM71 42h2v1h-2zM140 42h3v1h-3zM70 43h2v1h-2zM74 43h2v1h-2zM78 43h2v1h-2zM137 43h1v1h-1zM139 43h1v1h-1zM70 44h1v1h-1zM74 44h2v1h-2zM78 44h2v1h-2zM136 44h1v1h-1zM139 44h2v1h-2zM142 44h1v1h-1zM68 45h1v1h-1zM74 45h1v1h-1zM76 45h2v1h-2zM136 45h1v1h-1zM138 45h3v1h-3zM142 45h3v1h-3zM70 46h2v1h-2zM76 46h4v1h-4zM136 46h2v1h-2zM140 46h5v1h-5zM70 47h2v1h-2zM73 47h1v1h-1zM75 47h5v1h-5zM136 47h6v1h-6zM71 48h3v1h-3zM75 48h5v1h-5zM136 48h5v1h-5zM69 49h1v1h-1zM71 49h2v1h-2zM76 49h2v1h-2zM138 49h1v1h-1zM143 49h1v1h-1zM69 50h1v1h-1zM136 50h3v1h-3zM140 50h2v1h-2zM143 50h1v1h-1zM69 51h2v1h-2zM78 51h1v1h-1zM136 51h1v1h-1zM138 51h1v1h-1zM77 52h2v1h-2zM137 52h3v1h-3zM143 52h1v1h-1zM76 53h3v1h-3zM137 53h3v1h-3zM143 53h1v1h-1zM70 54h2v1h-2zM75 54h4v1h-4zM136 54h1v1h-1zM138 54h2v1h-2zM143 54h1v1h-1zM68 55h1v1h-1zM75 55h2v1h-2zM138 55h1v1h-1zM143 55h1v1h-1zM69 56h2v1h-2zM73 56h2v1h-2zM137 56h1v1h-1zM139 56h2v1h-2zM69 57h2v1h-2zM74 57h4v1h-4zM136 57h2v1h-2zM139 57h2v1h-2zM399 57h2v1h-2zM68 58h1v1h-1zM71 58h1v1h-1zM74 58h4v1h-4zM136 58h6v1h-6zM402 58h2v1h-2zM68 59h1v1h-1zM71 59h4v1h-4zM76 59h2v1h-2zM136 59h1v1h-1zM138 59h2v1h-2zM141 59h2v1h-2zM395 59h1v1h-1zM404 59h2v1h-2zM72 60h3v1h-3zM76 60h1v1h-1zM136 60h1v1h-1zM138 60h2v1h-2zM141 60h3v1h-3zM406 60h1v1h-1zM67 61h1v1h-1zM72 61h4v1h-4zM137 61h1v1h-1zM143 61h1v1h-1zM392 61h2v1h-2zM69 62h2v1h-2zM72 62h5v1h-5zM137 62h2v1h-2zM392 62h1v1h-1zM410 62h1v1h-1zM67 63h1v1h-1zM72 63h5v1h-5zM136 63h1v1h-1zM138 63h1v1h-1zM391 63h1v1h-1zM411 63h1v1h-1zM67 64h1v1h-1zM72 64h4v1h-4zM136 64h2v1h-2zM75 65h1v1h-1zM136 65h2v1h-2zM139 65h1v1h-1zM410 65h1v1h-1zM71 66h1v1h-1zM76 66h2v1h-2zM136 66h4v1h-4zM410 66h1v1h-1zM67 67h3v1h-3zM71 67h2v1h-2zM75 67h3v1h-3zM136 67h4v1h-4zM141 67h3v1h-3zM67 68h1v1h-1zM69 68h5v1h-5zM75 68h2v1h-2zM138 68h1v1h-1zM141 68h2v1h-2zM409 68h2v1h-2zM68 69h2v1h-2zM72 69h5v1h-5zM135 69h1v1h-1zM139 69h1v1h-1zM143 69h1v1h-1zM409 69h1v1h-1zM68 70h2v1h-2zM71 70h1v1h-1zM75 70h2v1h-2zM135 70h2v1h-2zM139 70h2v1h-2zM409 70h1v1h-1zM68 71h4v1h-4zM73 71h1v1h-1zM136 71h2v1h-2zM139 71h2v1h-2zM142 71h2v1h-2zM408 71h2v1h-2zM68 72h4v1h-4zM74 72h2v1h-2zM135 72h4v1h-4zM142 72h1v1h-1zM407 72h2v1h-2zM70 73h1v1h-1zM73 73h4v1h-4zM135 73h1v1h-1zM138 73h3v1h-3zM70 74h7v1h-7zM135 74h2v1h-2zM138 74h5v1h-5zM403 74h2v1h-2zM69 75h1v1h-1zM73 75h2v1h-2zM76 75h1v1h-1zM136 75h4v1h-4zM141 75h2v1h-2zM398 75h1v1h-1zM69 76h1v1h-1zM72 76h4v1h-4zM139 76h1v1h-1zM398 76h1v1h-1zM69 77h1v1h-1zM71 77h4v1h-4zM135 77h1v1h-1zM138 77h2v1h-2zM69 78h7v1h-7zM135 78h1v1h-1zM138 78h3v1h-3zM67 79h1v1h-1zM69 79h2v1h-2zM72 79h3v1h-3zM137 79h2v1h-2zM140 79h1v1h-1zM67 80h1v1h-1zM70 80h5v1h-5zM135 80h1v1h-1zM137 80h2v1h-2zM140 80h2v1h-2zM71 81h2v1h-2zM135 81h2v1h-2zM140 81h3v1h-3zM73 82h1v1h-1zM136 82h3v1h-3zM142 82h1v1h-1zM69 83h2v1h-2zM72 83h2v1h-2zM135 83h1v1h-1zM137 83h2v1h-2zM141 83h1v1h-1zM69 84h4v1h-4zM135 84h4v1h-4zM141 84h2v1h-2zM72 85h2v1h-2zM135 85h2v1h-2zM140 85h1v1h-1zM67 86h2v1h-2zM136 86h1v1h-1zM140 86h1v1h-1zM67 87h4v1h-4zM72 87h1v1h-1zM135 87h2v1h-2zM138 87h2v1h-2zM68 88h3v1h-3zM72 88h3v1h-3zM134 88h1v1h-1zM139 88h2v1h-2zM142 88h1v1h-1zM68 89h3v1h-3zM134 89h1v1h-1zM139 89h3v1h-3zM68 90h4v1h-4zM73 90h2v1h-2zM135 90h2v1h-2zM139 90h1v1h-1zM141 90h1v1h-1zM67 91h3v1h-3zM71 91h3v1h-3zM134 91h1v1h-1zM139 91h2v1h-2zM67 92h7v1h-7zM134 92h3v1h-3zM139 92h2v1h-2zM68 93h2v1h-2zM73 93h1v1h-1zM134 93h3v1h-3zM72 94h1v1h-1zM134 94h2v1h-2zM68 95h3v1h-3zM72 95h2v1h-2zM134 95h2v1h-2zM141 95h1v1h-1zM70 96h1v1h-1zM73 96h1v1h-1zM134 96h2v1h-2zM137 96h1v1h-1zM139 96h1v1h-1zM141 96h1v1h-1zM72 97h2v1h-2zM134 97h2v1h-2zM137 97h1v1h-1zM139 97h2v1h-2zM67 98h4v1h-4zM72 98h2v1h-2zM137 98h1v1h-1zM139 98h3v1h-3zM67 99h4v1h-4zM139 99h1v1h-1zM67 100h1v1h-1zM71 100h3v1h-3zM137 100h2v1h-2zM67 101h2v1h-2zM73 101h1v1h-1zM135 101h1v1h-1zM67 102h1v1h-1zM69 102h5v1h-5zM136 102h3v1h-3zM67 103h7v1h-7zM135 103h4v1h-4zM140 103h2v1h-2zM67 104h4v1h-4zM72 104h1v1h-1zM132 104h7v1h-7zM140 104h3v1h-3zM69 105h2v1h-2zM132 105h9v1h-9zM142 105h1v1h-1zM74 106h1v1h-1zM132 106h3v1h-3zM136 106h1v1h-1zM138 106h5v1h-5zM73 107h2v1h-2zM133 107h4v1h-4zM142 107h1v1h-1zM68 108h2v1h-2zM73 108h2v1h-2zM131 108h1v1h-1zM133 108h1v1h-1zM135 108h2v1h-2zM142 108h1v1h-1zM73 109h2v1h-2zM131 109h1v1h-1zM135 109h2v1h-2zM139 109h2v1h-2zM69 110h6v1h-6zM131 110h2v1h-2zM134 110h2v1h-2zM138 110h3v1h-3zM70 111h2v1h-2zM73 111h1v1h-1zM131 111h2v1h-2zM135 111h3v1h-3zM139 111h2v1h-2zM143 111h1v1h-1zM67 112h1v1h-1zM70 112h4v1h-4zM75 112h1v1h-1zM131 112h1v1h-1zM133 112h6v1h-6zM141 112h2v1h-2zM69 113h7v1h-7zM130 113h3v1h-3zM135 113h4v1h-4zM140 113h3v1h-3zM69 114h2v1h-2zM72 114h4v1h-4zM130 114h8v1h-8zM140 114h1v1h-1zM72 115h4v1h-4zM129 115h10v1h-10zM70 116h2v1h-2zM76 116h1v1h-1zM129 116h7v1h-7zM138 116h1v1h-1zM140 116h1v1h-1zM143 116h1v1h-1zM67 117h1v1h-1zM75 117h2v1h-2zM129 117h1v1h-1zM133 117h2v1h-2zM136 117h8v1h-8zM366 117h2v1h-2zM372 117h1v1h-1zM375 117h2v1h-2zM378 117h1v1h-1zM68 118h2v1h-2zM72 118h4v1h-4zM129 118h2v1h-2zM133 118h7v1h-7zM141 118h2v1h-2zM356 118h3v1h-3zM360 118h1v1h-1zM364 118h2v1h-2zM370 118h3v1h-3zM374 118h3v1h-3zM384 118h1v1h-1zM388 118h2v1h-2zM72 119h2v1h-2zM77 119h1v1h-1zM128 119h1v1h-1zM130 119h2v1h-2zM133 119h1v1h-1zM135 119h2v1h-2zM140 119h5v1h-5zM356 119h3v1h-3zM360 119h1v1h-1zM363 119h3v1h-3zM370 119h2v1h-2zM374 119h2v1h-2zM379 119h4v1h-4zM389 119h3v1h-3zM75 120h3v1h-3zM130 120h2v1h-2zM133 120h3v1h-3zM137 120h2v1h-2zM140 120h5v1h-5zM352 120h1v1h-1zM354 120h6v1h-6zM363 120h2v1h-2zM366 120h2v1h-2zM370 120h1v1h-1zM375 120h1v1h-1zM377 120h1v1h-1zM379 120h1v1h-1zM389 120h4v1h-4zM69 121h2v1h-2zM75 121h4v1h-4zM127 121h5v1h-5zM134 121h2v1h-2zM137 121h2v1h-2zM140 121h1v1h-1zM352 121h1v1h-1zM355 121h2v1h-2zM358 121h2v1h-2zM364 121h1v1h-1zM367 121h2v1h-2zM370 121h4v1h-4zM375 121h1v1h-1zM377 121h2v1h-2zM381 121h4v1h-4zM390 121h1v1h-1zM392 121h2v1h-2zM71 122h1v1h-1zM78 122h3v1h-3zM127 122h1v1h-1zM129 122h3v1h-3zM133 122h5v1h-5zM139 122h2v1h-2zM358 122h5v1h-5zM364 122h1v1h-1zM368 122h11v1h-11zM381 122h8v1h-8zM390 122h1v1h-1zM392 122h2v1h-2zM71 123h3v1h-3zM76 123h2v1h-2zM80 123h2v1h-2zM125 123h1v1h-1zM129 123h2v1h-2zM133 123h1v1h-1zM136 123h2v1h-2zM353 123h10v1h-10zM367 123h4v1h-4zM372 123h17v1h-17zM394 123h1v1h-1zM72 124h2v1h-2zM76 124h1v1h-1zM81 124h2v1h-2zM124 124h2v1h-2zM128 124h1v1h-1zM134 124h4v1h-4zM352 124h5v1h-5zM360 124h3v1h-3zM365 124h4v1h-4zM372 124h1v1h-1zM374 124h2v1h-2zM378 124h2v1h-2zM381 124h2v1h-2zM385 124h2v1h-2zM392 124h3v1h-3zM70 125h2v1h-2zM76 125h1v1h-1zM123 125h3v1h-3zM128 125h3v1h-3zM134 125h2v1h-2zM137 125h1v1h-1zM354 125h5v1h-5zM360 125h1v1h-1zM362 125h2v1h-2zM365 125h1v1h-1zM367 125h2v1h-2zM371 125h3v1h-3zM378 125h7v1h-7zM391 125h3v1h-3zM67 126h2v1h-2zM76 126h4v1h-4zM84 126h1v1h-1zM125 126h6v1h-6zM133 126h3v1h-3zM143 126h1v1h-1zM349 126h3v1h-3zM356 126h6v1h-6zM365 126h1v1h-1zM367 126h2v1h-2zM370 126h2v1h-2zM377 126h1v1h-1zM380 126h7v1h-7zM388 126h2v1h-2zM391 126h4v1h-4zM67 127h2v1h-2zM75 127h5v1h-5zM85 127h1v1h-1zM121 127h2v1h-2zM126 127h8v1h-8zM143 127h1v1h-1zM352 127h10v1h-10zM368 127h5v1h-5zM377 127h2v1h-2zM382 127h1v1h-1zM384 127h6v1h-6zM67 128h2v1h-2zM70 128h2v1h-2zM75 128h3v1h-3zM81 128h1v1h-1zM83 128h5v1h-5zM120 128h2v1h-2zM131 128h3v1h-3zM135 128h3v1h-3zM352 128h7v1h-7zM360 128h4v1h-4zM367 128h3v1h-3zM372 128h1v1h-1zM374 128h5v1h-5zM380 128h1v1h-1zM384 128h6v1h-6zM392 128h1v1h-1zM70 129h2v1h-2zM79 129h2v1h-2zM82 129h2v1h-2zM86 129h3v1h-3zM120 129h6v1h-6zM127 129h3v1h-3zM132 129h1v1h-1zM135 129h2v1h-2zM351 129h4v1h-4zM356 129h2v1h-2zM362 129h5v1h-5zM369 129h1v1h-1zM371 129h2v1h-2zM374 129h2v1h-2zM377 129h2v1h-2zM380 129h1v1h-1zM382 129h9v1h-9zM394 129h4v1h-4zM67 130h1v1h-1zM69 130h3v1h-3zM76 130h2v1h-2zM80 130h1v1h-1zM117 130h1v1h-1zM121 130h5v1h-5zM127 130h4v1h-4zM132 130h2v1h-2zM135 130h2v1h-2zM349 130h1v1h-1zM352 130h2v1h-2zM356 130h2v1h-2zM360 130h3v1h-3zM365 130h2v1h-2zM370 130h11v1h-11zM382 130h5v1h-5zM388 130h2v1h-2zM397 130h1v1h-1zM67 131h1v1h-1zM69 131h3v1h-3zM81 131h1v1h-1zM86 131h3v1h-3zM91 131h2v1h-2zM113 131h1v1h-1zM116 131h2v1h-2zM121 131h2v1h-2zM124 131h2v1h-2zM127 131h4v1h-4zM132 131h2v1h-2zM138 131h2v1h-2zM347 131h1v1h-1zM352 131h4v1h-4zM359 131h9v1h-9zM370 131h6v1h-6zM377 131h5v1h-5zM383 131h8v1h-8zM397 131h1v1h-1zM71 132h1v1h-1zM76 132h1v1h-1zM80 132h2v1h-2zM86 132h4v1h-4zM96 132h6v1h-6zM104 132h2v1h-2zM109 132h5v1h-5zM115 132h2v1h-2zM121 132h8v1h-8zM138 132h2v1h-2zM142 132h1v1h-1zM347 132h1v1h-1zM352 132h5v1h-5zM361 132h4v1h-4zM366 132h5v1h-5zM372 132h1v1h-1zM374 132h1v1h-1zM377 132h1v1h-1zM380 132h2v1h-2zM383 132h5v1h-5zM389 132h3v1h-3zM397 132h1v1h-1zM71 133h1v1h-1zM76 133h3v1h-3zM80 133h1v1h-1zM82 133h2v1h-2zM86 133h1v1h-1zM88 133h2v1h-2zM92 133h1v1h-1zM96 133h1v1h-1zM100 133h2v1h-2zM104 133h2v1h-2zM107 133h4v1h-4zM112 133h2v1h-2zM116 133h4v1h-4zM122 133h4v1h-4zM128 133h3v1h-3zM132 133h2v1h-2zM139 133h2v1h-2zM142 133h3v1h-3zM344 133h2v1h-2zM348 133h7v1h-7zM357 133h3v1h-3zM362 133h3v1h-3zM368 133h4v1h-4zM373 133h2v1h-2zM377 133h2v1h-2zM387 133h8v1h-8zM396 133h1v1h-1zM74 134h5v1h-5zM82 134h5v1h-5zM92 134h1v1h-1zM94 134h1v1h-1zM100 134h6v1h-6zM107 134h2v1h-2zM110 134h1v1h-1zM112 134h2v1h-2zM117 134h4v1h-4zM123 134h9v1h-9zM135 134h3v1h-3zM142 134h4v1h-4zM344 134h2v1h-2zM348 134h6v1h-6zM360 134h2v1h-2zM363 134h4v1h-4zM369 134h3v1h-3zM375 134h4v1h-4zM384 134h2v1h-2zM389 134h1v1h-1zM392 134h1v1h-1zM394 134h1v1h-1zM396 134h1v1h-1zM69 135h1v1h-1zM73 135h5v1h-5zM80 135h3v1h-3zM84 135h2v1h-2zM87 135h3v1h-3zM98 135h6v1h-6zM107 135h1v1h-1zM109 135h5v1h-5zM120 135h2v1h-2zM124 135h10v1h-10zM137 135h3v1h-3zM141 135h1v1h-1zM144 135h2v1h-2zM344 135h2v1h-2zM349 135h5v1h-5zM359 135h3v1h-3zM365 135h9v1h-9zM376 135h1v1h-1zM378 135h6v1h-6zM388 135h1v1h-1zM390 135h1v1h-1zM392 135h2v1h-2zM68 136h2v1h-2zM71 136h6v1h-6zM79 136h4v1h-4zM84 136h3v1h-3zM91 136h2v1h-2zM95 136h8v1h-8zM105 136h7v1h-7zM117 136h1v1h-1zM120 136h2v1h-2zM125 136h2v1h-2zM128 136h6v1h-6zM137 136h5v1h-5zM143 136h3v1h-3zM344 136h2v1h-2zM347 136h2v1h-2zM352 136h2v1h-2zM355 136h1v1h-1zM358 136h2v1h-2zM382 136h2v1h-2zM386 136h2v1h-2zM390 136h4v1h-4zM68 137h2v1h-2zM76 137h1v1h-1zM80 137h6v1h-6zM87 137h1v1h-1zM90 137h2v1h-2zM97 137h2v1h-2zM100 137h2v1h-2zM104 137h6v1h-6zM111 137h1v1h-1zM117 137h2v1h-2zM123 137h4v1h-4zM128 137h4v1h-4zM135 137h4v1h-4zM142 137h3v1h-3zM341 137h2v1h-2zM344 137h3v1h-3zM348 137h1v1h-1zM355 137h3v1h-3zM386 137h7v1h-7zM398 137h1v1h-1zM67 138h6v1h-6zM74 138h2v1h-2zM78 138h1v1h-1zM80 138h6v1h-6zM87 138h1v1h-1zM90 138h3v1h-3zM94 138h2v1h-2zM97 138h2v1h-2zM103 138h9v1h-9zM119 138h1v1h-1zM125 138h5v1h-5zM131 138h3v1h-3zM138 138h2v1h-2zM143 138h2v1h-2zM344 138h3v1h-3zM350 138h2v1h-2zM388 138h2v1h-2zM394 138h4v1h-4zM67 139h6v1h-6zM74 139h2v1h-2zM77 139h4v1h-4zM82 139h1v1h-1zM87 139h2v1h-2zM90 139h3v1h-3zM95 139h2v1h-2zM98 139h1v1h-1zM103 139h13v1h-13zM118 139h1v1h-1zM138 139h2v1h-2zM144 139h2v1h-2zM343 139h2v1h-2zM346 139h2v1h-2zM351 139h1v1h-1zM391 139h1v1h-1zM394 139h2v1h-2zM399 139h1v1h-1zM67 140h2v1h-2zM70 140h1v1h-1zM73 140h3v1h-3zM77 140h4v1h-4zM82 140h1v1h-1zM87 140h2v1h-2zM90 140h4v1h-4zM95 140h4v1h-4zM102 140h7v1h-7zM137 140h3v1h-3zM340 140h5v1h-5zM347 140h1v1h-1zM393 140h3v1h-3zM398 140h2v1h-2zM67 141h1v1h-1zM70 141h1v1h-1zM74 141h9v1h-9zM90 141h5v1h-5zM96 141h4v1h-4zM103 141h1v1h-1zM105 141h3v1h-3zM138 141h2v1h-2zM141 141h2v1h-2zM339 141h6v1h-6zM397 141h3v1h-3zM67 142h3v1h-3zM73 142h2v1h-2zM78 142h4v1h-4zM86 142h1v1h-1zM88 142h1v1h-1zM91 142h2v1h-2zM101 142h1v1h-1zM103 142h4v1h-4zM139 142h1v1h-1zM141 142h2v1h-2zM144 142h2v1h-2zM147 142h1v1h-1zM340 142h2v1h-2zM344 142h1v1h-1zM399 142h3v1h-3zM67 143h8v1h-8zM79 143h5v1h-5zM86 143h1v1h-1zM88 143h3v1h-3zM92 143h2v1h-2zM96 143h1v1h-1zM100 143h2v1h-2zM103 143h2v1h-2zM144 143h2v1h-2zM147 143h1v1h-1zM338 143h1v1h-1zM340 143h1v1h-1zM342 143h1v1h-1zM344 143h1v1h-1zM400 143h1v1h-1zM71 144h4v1h-4zM79 144h1v1h-1zM81 144h3v1h-3zM88 144h3v1h-3zM92 144h2v1h-2zM96 144h1v1h-1zM100 144h2v1h-2zM103 144h2v1h-2zM141 144h1v1h-1zM339 144h4v1h-4zM402 144h3v1h-3zM70 145h2v1h-2zM73 145h2v1h-2zM78 145h2v1h-2zM81 145h1v1h-1zM85 145h3v1h-3zM92 145h3v1h-3zM96 145h5v1h-5zM102 145h2v1h-2zM141 145h2v1h-2zM147 145h1v1h-1zM326 145h2v1h-2zM339 145h1v1h-1zM341 145h3v1h-3zM403 145h2v1h-2zM68 146h2v1h-2zM73 146h3v1h-3zM78 146h2v1h-2zM86 146h2v1h-2zM90 146h2v1h-2zM94 146h1v1h-1zM101 146h1v1h-1zM142 146h2v1h-2zM326 146h2v1h-2zM330 146h1v1h-1zM332 146h1v1h-1zM404 146h1v1h-1zM68 147h1v1h-1zM72 147h1v1h-1zM76 147h2v1h-2zM80 147h2v1h-2zM84 147h4v1h-4zM90 147h2v1h-2zM96 147h1v1h-1zM98 147h2v1h-2zM101 147h1v1h-1zM143 147h5v1h-5zM326 147h2v1h-2zM330 147h2v1h-2zM336 147h2v1h-2zM405 147h1v1h-1zM409 147h1v1h-1zM68 148h1v1h-1zM73 148h2v1h-2zM76 148h8v1h-8zM87 148h2v1h-2zM90 148h3v1h-3zM96 148h1v1h-1zM98 148h3v1h-3zM143 148h6v1h-6zM323 148h2v1h-2zM326 148h6v1h-6zM335 148h1v1h-1zM69 149h1v1h-1zM74 149h4v1h-4zM82 149h2v1h-2zM85 149h1v1h-1zM88 149h1v1h-1zM90 149h4v1h-4zM95 149h2v1h-2zM98 149h3v1h-3zM144 149h1v1h-1zM148 149h1v1h-1zM322 149h3v1h-3zM326 149h4v1h-4zM69 150h1v1h-1zM74 150h5v1h-5zM80 150h1v1h-1zM82 150h5v1h-5zM90 150h2v1h-2zM93 150h4v1h-4zM144 150h1v1h-1zM148 150h1v1h-1zM316 150h2v1h-2zM322 150h1v1h-1zM324 150h1v1h-1zM326 150h2v1h-2zM409 150h1v1h-1zM74 151h1v1h-1zM76 151h4v1h-4zM82 151h5v1h-5zM93 151h4v1h-4zM144 151h1v1h-1zM146 151h3v1h-3zM319 151h1v1h-1zM326 151h4v1h-4zM409 151h3v1h-3zM70 152h2v1h-2zM74 152h1v1h-1zM76 152h4v1h-4zM81 152h10v1h-10zM97 152h1v1h-1zM144 152h5v1h-5zM313 152h1v1h-1zM326 152h2v1h-2zM407 152h3v1h-3zM68 153h7v1h-7zM80 153h2v1h-2zM83 153h9v1h-9zM94 153h3v1h-3zM144 153h1v1h-1zM146 153h1v1h-1zM314 153h2v1h-2zM320 153h5v1h-5zM408 153h5v1h-5zM67 154h3v1h-3zM71 154h2v1h-2zM77 154h2v1h-2zM80 154h1v1h-1zM83 154h2v1h-2zM90 154h6v1h-6zM144 154h1v1h-1zM148 154h1v1h-1zM314 154h2v1h-2zM320 154h5v1h-5zM411 154h2v1h-2zM71 155h1v1h-1zM74 155h2v1h-2zM77 155h4v1h-4zM85 155h3v1h-3zM92 155h3v1h-3zM144 155h3v1h-3zM148 155h1v1h-1zM314 155h2v1h-2zM317 155h5v1h-5zM74 156h2v1h-2zM79 156h2v1h-2zM82 156h8v1h-8zM144 156h2v1h-2zM314 156h2v1h-2zM319 156h1v1h-1zM409 156h1v1h-1zM68 157h4v1h-4zM76 157h1v1h-1zM79 157h2v1h-2zM82 157h1v1h-1zM88 157h4v1h-4zM144 157h2v1h-2zM148 157h1v1h-1zM409 157h1v1h-1zM413 157h1v1h-1zM68 158h2v1h-2zM75 158h1v1h-1zM77 158h2v1h-2zM81 158h3v1h-3zM85 158h4v1h-4zM90 158h1v1h-1zM146 158h1v1h-1zM312 158h1v1h-1zM70 159h2v1h-2zM74 159h4v1h-4zM81 159h3v1h-3zM87 159h2v1h-2zM412 159h2v1h-2zM74 160h2v1h-2zM77 160h4v1h-4zM85 160h1v1h-1zM87 160h1v1h-1zM412 160h2v1h-2zM76 161h5v1h-5zM83 161h2v1h-2zM411 161h3v1h-3zM71 162h4v1h-4zM76 162h1v1h-1zM83 162h3v1h-3zM145 162h2v1h-2zM409 162h1v1h-1zM411 162h4v1h-4zM75 163h2v1h-2zM83 163h2v1h-2zM145 163h2v1h-2zM409 163h1v1h-1zM411 163h3v1h-3zM68 164h4v1h-4zM75 164h3v1h-3zM79 164h2v1h-2zM145 164h3v1h-3zM411 164h3v1h-3zM68 165h2v1h-2zM72 165h1v1h-1zM75 165h2v1h-2zM78 165h2v1h-2zM81 165h1v1h-1zM145 165h2v1h-2zM68 166h3v1h-3zM72 166h1v1h-1zM77 166h3v1h-3zM145 166h5v1h-5zM408 166h1v1h-1zM410 166h2v1h-2zM69 167h2v1h-2zM72 167h3v1h-3zM77 167h3v1h-3zM146 167h3v1h-3zM407 167h1v1h-1zM410 167h2v1h-2zM71 168h6v1h-6zM146 168h3v1h-3zM407 168h3v1h-3zM413 168h1v1h-1zM68 169h1v1h-1zM71 169h5v1h-5zM146 169h3v1h-3zM407 169h7v1h-7zM68 170h4v1h-4zM73 170h1v1h-1zM75 170h1v1h-1zM146 170h2v1h-2zM405 170h1v1h-1zM410 170h1v1h-1zM144 171h1v1h-1zM146 171h2v1h-2zM404 171h3v1h-3zM408 171h3v1h-3zM68 172h2v1h-2zM71 172h2v1h-2zM143 172h1v1h-1zM146 172h1v1h-1zM403 172h4v1h-4zM408 172h3v1h-3zM66 173h4v1h-4zM142 173h1v1h-1zM144 173h2v1h-2zM402 173h9v1h-9zM66 174h3v1h-3zM142 174h1v1h-1zM401 174h1v1h-1zM406 174h4v1h-4zM412 174h1v1h-1zM65 175h4v1h-4zM393 175h5v1h-5zM400 175h2v1h-2zM407 175h3v1h-3zM64 176h2v1h-2zM68 176h1v1h-1zM139 176h2v1h-2zM144 176h3v1h-3zM389 176h1v1h-1zM391 176h2v1h-2zM395 176h2v1h-2zM400 176h2v1h-2zM403 176h2v1h-2zM406 176h1v1h-1zM408 176h2v1h-2zM64 177h2v1h-2zM137 177h5v1h-5zM145 177h2v1h-2zM383 177h3v1h-3zM389 177h1v1h-1zM392 177h1v1h-1zM395 177h3v1h-3zM402 177h3v1h-3zM406 177h1v1h-1zM409 177h1v1h-1zM64 178h1v1h-1zM138 178h4v1h-4zM143 178h2v1h-2zM378 178h3v1h-3zM382 178h4v1h-4zM389 178h5v1h-5zM395 178h4v1h-4zM402 178h1v1h-1zM406 178h1v1h-1zM63 179h1v1h-1zM135 179h1v1h-1zM138 179h1v1h-1zM140 179h2v1h-2zM143 179h2v1h-2zM375 179h1v1h-1zM377 179h4v1h-4zM390 179h5v1h-5zM396 179h2v1h-2zM400 179h1v1h-1zM402 179h4v1h-4zM58 180h2v1h-2zM134 180h2v1h-2zM138 180h1v1h-1zM140 180h2v1h-2zM372 180h2v1h-2zM375 180h1v1h-1zM377 180h5v1h-5zM383 180h1v1h-1zM386 180h3v1h-3zM390 180h3v1h-3zM396 180h1v1h-1zM400 180h1v1h-1zM402 180h4v1h-4zM408 180h2v1h-2zM58 181h4v1h-4zM133 181h1v1h-1zM138 181h1v1h-1zM370 181h6v1h-6zM379 181h6v1h-6zM387 181h5v1h-5zM400 181h2v1h-2zM403 181h3v1h-3zM58 182h4v1h-4zM131 182h3v1h-3zM369 182h1v1h-1zM371 182h2v1h-2zM374 182h2v1h-2zM382 182h3v1h-3zM386 182h1v1h-1zM400 182h2v1h-2zM403 182h6v1h-6zM59 183h3v1h-3zM130 183h4v1h-4zM368 183h2v1h-2zM373 183h2v1h-2zM376 183h2v1h-2zM400 183h5v1h-5zM406 183h3v1h-3zM60 184h2v1h-2zM129 184h2v1h-2zM132 184h2v1h-2zM366 184h1v1h-1zM370 184h2v1h-2zM375 184h2v1h-2zM399 184h5v1h-5zM129 185h2v1h-2zM132 185h1v1h-1zM366 185h2v1h-2zM371 185h3v1h-3zM400 185h6v1h-6zM56 186h1v1h-1zM127 186h3v1h-3zM364 186h3v1h-3zM369 186h3v1h-3zM401 186h6v1h-6zM56 187h1v1h-1zM125 187h2v1h-2zM129 187h3v1h-3zM363 187h2v1h-2zM367 187h4v1h-4zM397 187h1v1h-1zM399 187h2v1h-2zM402 187h1v1h-1zM405 187h1v1h-1zM126 188h2v1h-2zM130 188h1v1h-1zM362 188h3v1h-3zM367 188h3v1h-3zM395 188h3v1h-3zM399 188h1v1h-1zM402 188h1v1h-1zM118 189h3v1h-3zM122 189h2v1h-2zM126 189h4v1h-4zM362 189h2v1h-2zM393 189h3v1h-3zM117 190h4v1h-4zM122 190h2v1h-2zM127 190h1v1h-1zM359 190h2v1h-2zM362 190h2v1h-2zM365 190h1v1h-1zM391 190h2v1h-2zM396 190h1v1h-1zM398 190h1v1h-1zM401 190h2v1h-2zM114 191h5v1h-5zM122 191h3v1h-3zM363 191h3v1h-3zM390 191h4v1h-4zM396 191h1v1h-1zM398 191h1v1h-1zM402 191h1v1h-1zM110 192h3v1h-3zM114 192h2v1h-2zM117 192h3v1h-3zM122 192h2v1h-2zM358 192h1v1h-1zM363 192h1v1h-1zM386 192h2v1h-2zM389 192h1v1h-1zM392 192h3v1h-3zM397 192h2v1h-2zM108 193h8v1h-8zM119 193h1v1h-1zM356 193h1v1h-1zM359 193h1v1h-1zM362 193h2v1h-2zM384 193h2v1h-2zM387 193h3v1h-3zM392 193h3v1h-3zM397 193h2v1h-2zM105 194h9v1h-9zM355 194h2v1h-2zM359 194h1v1h-1zM361 194h2v1h-2zM387 194h2v1h-2zM394 194h2v1h-2zM397 194h1v1h-1zM104 195h2v1h-2zM107 195h2v1h-2zM354 195h2v1h-2zM359 195h2v1h-2zM379 195h3v1h-3zM383 195h1v1h-1zM386 195h3v1h-3zM391 195h2v1h-2zM394 195h2v1h-2zM397 195h1v1h-1zM102 196h1v1h-1zM104 196h2v1h-2zM107 196h2v1h-2zM354 196h1v1h-1zM356 196h1v1h-1zM358 196h2v1h-2zM380 196h2v1h-2zM383 196h2v1h-2zM386 196h4v1h-4zM391 196h2v1h-2zM101 197h4v1h-4zM108 197h1v1h-1zM353 197h2v1h-2zM356 197h3v1h-3zM375 197h1v1h-1zM378 197h3v1h-3zM385 197h1v1h-1zM388 197h2v1h-2zM394 197h1v1h-1zM396 197h1v1h-1zM101 198h2v1h-2zM353 198h2v1h-2zM356 198h2v1h-2zM371 198h1v1h-1zM385 198h5v1h-5zM391 198h2v1h-2zM353 199h2v1h-2zM356 199h1v1h-1zM368 199h1v1h-1zM370 199h2v1h-2zM374 199h4v1h-4zM379 199h1v1h-1zM384 199h4v1h-4zM391 199h3v1h-3zM99 200h1v1h-1zM101 200h1v1h-1zM353 200h1v1h-1zM368 200h1v1h-1zM370 200h8v1h-8zM379 200h1v1h-1zM384 200h2v1h-2zM388 200h1v1h-1zM391 200h1v1h-1zM352 201h5v1h-5zM362 201h1v1h-1zM366 201h3v1h-3zM372 201h3v1h-3zM377 201h2v1h-2zM380 201h1v1h-1zM385 201h2v1h-2zM388 201h2v1h-2zM96 202h4v1h-4zM352 202h2v1h-2zM356 202h1v1h-1zM358 202h7v1h-7zM366 202h1v1h-1zM368 202h6v1h-6zM377 202h1v1h-1zM380 202h1v1h-1zM382 202h2v1h-2zM386 202h1v1h-1zM93 203h5v1h-5zM355 203h9v1h-9zM369 203h5v1h-5zM377 203h1v1h-1zM91 204h3v1h-3zM353 204h1v1h-1zM355 204h4v1h-4zM360 204h4v1h-4zM370 204h3v1h-3zM377 204h2v1h-2zM381 204h1v1h-1zM352 205h2v1h-2zM356 205h1v1h-1zM358 205h5v1h-5zM368 205h5v1h-5zM377 205h2v1h-2zM85 206h1v1h-1zM87 206h4v1h-4zM352 206h6v1h-6zM359 206h5v1h-5zM368 206h2v1h-2zM371 206h2v1h-2zM58 207h1v1h-1zM82 207h3v1h-3zM86 207h2v1h-2zM351 207h7v1h-7zM360 207h6v1h-6zM372 207h1v1h-1zM355 208h2v1h-2zM360 208h2v1h-2zM363 208h4v1h-4zM197 370h1v1h-1zM205 370h2v1h-2zM213 370h1v1h-1zM216 370h2v1h-2zM219 370h3v1h-3zM231 370h1v1h-1zM196 371h2v1h-2zM200 371h7v1h-7zM213 371h3v1h-3zM217 371h1v1h-1zM219 371h1v1h-1zM224 371h4v1h-4zM231 371h3v1h-3zM242 371h2v1h-2zM184 372h1v1h-1zM190 372h1v1h-1zM195 372h3v1h-3zM200 372h4v1h-4zM207 372h2v1h-2zM215 372h1v1h-1zM217 372h2v1h-2zM222 372h7v1h-7zM230 372h3v1h-3zM234 372h4v1h-4zM242 372h3v1h-3zM173 373h3v1h-3zM179 373h2v1h-2zM190 373h1v1h-1zM193 373h1v1h-1zM195 373h7v1h-7zM205 373h1v1h-1zM210 373h5v1h-5zM217 373h2v1h-2zM221 373h3v1h-3zM227 373h2v1h-2zM230 373h3v1h-3zM236 373h2v1h-2zM241 373h1v1h-1zM243 373h2v1h-2zM170 374h2v1h-2zM173 374h2v1h-2zM176 374h2v1h-2zM179 374h4v1h-4zM187 374h2v1h-2zM192 374h2v1h-2zM195 374h2v1h-2zM199 374h5v1h-5zM207 374h4v1h-4zM213 374h2v1h-2zM221 374h2v1h-2zM225 374h9v1h-9zM240 374h5v1h-5zM246 374h1v1h-1zM249 374h1v1h-1zM172 375h2v1h-2zM176 375h2v1h-2zM182 375h2v1h-2zM185 375h2v1h-2zM189 375h2v1h-2zM194 375h5v1h-5zM200 375h5v1h-5zM208 375h5v1h-5zM214 375h2v1h-2zM217 375h3v1h-3zM221 375h8v1h-8zM231 375h3v1h-3zM235 375h4v1h-4zM241 375h6v1h-6zM249 375h1v1h-1zM174 376h4v1h-4zM181 376h1v1h-1zM183 376h4v1h-4zM189 376h3v1h-3zM195 376h7v1h-7zM203 376h2v1h-2zM207 376h4v1h-4zM214 376h2v1h-2zM218 376h2v1h-2zM221 376h8v1h-8zM232 376h2v1h-2zM235 376h4v1h-4zM240 376h4v1h-4zM245 376h1v1h-1zM170 377h1v1h-1zM172 377h9v1h-9zM184 377h4v1h-4zM189 377h2v1h-2zM195 377h10v1h-10zM207 377h4v1h-4zM221 377h5v1h-5zM228 377h2v1h-2zM232 377h2v1h-2zM235 377h3v1h-3zM240 377h9v1h-9zM251 377h2v1h-2zM172 378h1v1h-1zM174 378h7v1h-7zM183 378h4v1h-4zM189 378h2v1h-2zM196 378h7v1h-7zM207 378h4v1h-4zM214 378h2v1h-2zM219 378h3v1h-3zM223 378h1v1h-1zM225 378h3v1h-3zM248 378h2v1h-2zM170 379h7v1h-7zM181 379h2v1h-2zM185 379h2v1h-2zM252 379h2v1h-2zM172 380h2v1h-2zM250 380h1v1h-1zM252 380h2v1h-2zM169 381h3v1h-3zM169 382h3v1h-3zM251 382h1v1h-1zM169 383h2v1h-2zM251 383h1v1h-1zM253 383h2v1h-2zM169 384h2v1h-2zM251 384h1v1h-1zM253 384h4v1h-4zM253 385h2v1h-2zM256 385h1v1h-1zM170 387h1v1h-1zM253 387h2v1h-2zM170 388h1v1h-1zM251 388h1v1h-1zM253 388h2v1h-2zM251 389h2v1h-2zM255 389h2v1h-2zM170 390h1v1h-1zM251 390h2v1h-2zM255 390h3v1h-3zM251 391h2v1h-2zM256 391h2v1h-2zM251 392h1v1h-1zM257 392h1v1h-1zM169 393h1v1h-1zM251 393h1v1h-1zM255 393h1v1h-1zM257 393h1v1h-1zM169 394h2v1h-2zM251 394h5v1h-5zM169 395h2v1h-2zM252 395h2v1h-2zM256 395h1v1h-1zM251 396h5v1h-5zM251 397h3v1h-3zM256 397h1v1h-1zM170 398h1v1h-1zM251 398h1v1h-1zM256 398h1v1h-1zM170 399h1v1h-1zM252 399h2v1h-2zM255 399h2v1h-2zM169 400h2v1h-2zM251 400h2v1h-2zM254 400h2v1h-2zM170 401h1v1h-1zM251 401h3v1h-3zM255 401h1v1h-1zM169 402h2v1h-2zM253 402h2v1h-2zM170 403h1v1h-1zM251 403h4v1h-4zM169 404h1v1h-1zM255 404h1v1h-1zM257 404h2v1h-2zM169 405h1v1h-1zM252 405h3v1h-3zM258 405h1v1h-1zM170 406h1v1h-1zM252 406h4v1h-4zM170 407h1v1h-1zM252 407h4v1h-4zM252 408h1v1h-1zM170 409h1v1h-1zM170 410h1v1h-1zM170 411h1v1h-1zM252 411h2v1h-2zM255 411h3v1h-3zM170 412h1v1h-1zM252 412h7v1h-7zM170 413h1v1h-1zM252 413h7v1h-7zM170 414h1v1h-1zM252 414h1v1h-1zM254 414h1v1h-1zM257 414h2v1h-2zM170 415h1v1h-1zM254 415h1v1h-1zM257 415h2v1h-2zM252 416h3v1h-3zM169 417h2v1h-2zM254 417h5v1h-5zM170 418h1v1h-1zM254 418h5v1h-5zM169 419h2v1h-2zM254 419h5v1h-5zM169 420h2v1h-2zM252 420h4v1h-4zM257 420h1v1h-1zM169 421h1v1h-1zM252 421h4v1h-4zM258 421h1v1h-1zM170 422h1v1h-1zM252 422h1v1h-1zM254 422h1v1h-1zM258 422h1v1h-1zM253 423h4v1h-4zM258 423h2v1h-2zM170 424h1v1h-1zM252 424h8v1h-8zM169 425h2v1h-2zM254 425h4v1h-4zM259 425h1v1h-1zM170 426h1v1h-1zM254 426h2v1h-2zM170 427h1v1h-1zM254 428h3v1h-3zM259 428h1v1h-1zM169 429h1v1h-1zM252 429h5v1h-5zM259 429h1v1h-1zM169 430h2v1h-2zM252 430h3v1h-3zM256 430h3v1h-3zM252 431h3v1h-3zM256 431h4v1h-4zM259 432h1v1h-1zM252 433h2v1h-2zM256 433h2v1h-2zM259 433h1v1h-1zM169 434h2v1h-2zM252 434h2v1h-2zM256 434h2v1h-2zM259 434h1v1h-1zM169 435h2v1h-2zM253 435h3v1h-3zM257 435h1v1h-1zM170 436h1v1h-1zM253 436h5v1h-5zM252 437h6v1h-6zM252 438h2v1h-2zM255 438h3v1h-3zM170 439h1v1h-1zM252 439h2v1h-2zM259 440h1v1h-1zM252 441h2v1h-2zM252 442h1v1h-1zM254 442h4v1h-4zM259 442h1v1h-1zM252 443h1v1h-1zM254 443h4v1h-4zM259 443h1v1h-1zM252 444h1v1h-1zM259 444h1v1h-1zM253 445h1v1h-1zM259 445h1v1h-1zM253 446h1v1h-1zM257 446h3v1h-3zM169 447h1v1h-1zM260 447h1v1h-1zM169 448h2v1h-2zM256 448h5v1h-5zM169 449h2v1h-2zM255 449h6v1h-6zM169 450h2v1h-2zM254 450h6v1h-6zM169 451h2v1h-2zM254 451h2v1h-2zM259 451h2v1h-2zM169 452h2v1h-2zM256 452h2v1h-2zM259 452h2v1h-2zM170 453h1v1h-1zM252 453h3v1h-3zM256 453h2v1h-2zM259 453h2v1h-2zM170 454h1v1h-1zM252 454h2v1h-2zM255 454h2v1h-2zM260 454h1v1h-1zM169 455h1v1h-1zM252 455h3v1h-3zM258 455h3v1h-3zM169 456h2v1h-2zM253 456h2v1h-2zM257 456h4v1h-4zM170 457h1v1h-1zM253 457h8v1h-8zM170 458h1v1h-1zM253 458h3v1h-3zM258 458h3v1h-3zM169 460h2v1h-2zM170 461h1v1h-1zM254 461h2v1h-2zM258 461h2v1h-2zM169 462h2v1h-2zM254 462h5v1h-5zM169 463h2v1h-2zM253 463h8v1h-8zM170 464h1v1h-1zM253 464h2v1h-2zM259 464h2v1h-2zM169 465h1v1h-1zM253 465h1v1h-1zM255 465h5v1h-5zM169 466h1v1h-1zM253 466h1v1h-1zM258 466h2v1h-2zM254 467h2v1h-2zM257 467h2v1h-2zM169 468h2v1h-2zM254 468h2v1h-2zM257 468h2v1h-2zM253 469h1v1h-1zM257 469h2v1h-2zM253 470h1v1h-1zM255 470h6v1h-6zM255 471h6v1h-6zM254 472h1v1h-1zM260 472h1v1h-1zM169 473h1v1h-1zM256 473h3v1h-3zM256 474h2v1h-2zM252 475h3v1h-3zM256 475h2v1h-2zM253 476h2v1h-2zM256 476h2v1h-2zM260 476h1v1h-1zM253 477h4v1h-4zM253 478h1v1h-1zM255 478h3v1h-3zM170 479h1v1h-1zM251 479h1v1h-1zM255 479h5v1h-5zM169 480h2v1h-2zM255 480h6v1h-6zM252 481h1v1h-1zM256 481h5v1h-5zM250 482h7v1h-7zM258 482h3v1h-3zM249 483h1v1h-1zM251 483h1v1h-1zM254 483h3v1h-3zM258 483h2v1h-2zM261 483h1v1h-1zM250 484h2v1h-2zM254 484h8v1h-8zM249 485h2v1h-2zM252 485h2v1h-2zM255 485h1v1h-1zM258 485h4v1h-4zM249 486h2v1h-2zM252 486h2v1h-2zM255 486h1v1h-1zM259 486h3v1h-3zM247 487h1v1h-1zM249 487h5v1h-5zM258 487h4v1h-4zM247 488h1v1h-1zM249 488h1v1h-1zM252 488h1v1h-1zM258 488h3v1h-3zM246 489h2v1h-2zM249 489h1v1h-1zM252 489h3v1h-3zM259 489h2v1h-2zM169 490h1v1h-1zM245 490h2v1h-2zM250 490h1v1h-1zM253 490h5v1h-5zM169 491h1v1h-1zM245 491h1v1h-1zM248 491h10v1h-10zM170 492h1v1h-1zM248 492h5v1h-5zM255 492h3v1h-3zM259 492h3v1h-3zM244 493h6v1h-6zM251 493h2v1h-2zM254 493h1v1h-1zM258 493h4v1h-4zM243 494h1v1h-1zM246 494h2v1h-2zM253 494h9v1h-9zM242 495h2v1h-2zM251 495h2v1h-2zM255 495h4v1h-4zM261 495h1v1h-1zM170 496h2v1h-2zM242 496h1v1h-1zM245 496h2v1h-2zM249 496h4v1h-4zM255 496h1v1h-1zM260 496h1v1h-1zM169 497h1v1h-1zM171 497h4v1h-4zM242 497h2v1h-2zM245 497h2v1h-2zM249 497h2v1h-2zM256 497h3v1h-3zM260 497h1v1h-1zM172 498h2v1h-2zM176 498h3v1h-3zM180 498h7v1h-7zM189 498h2v1h-2zM196 498h3v1h-3zM201 498h4v1h-4zM208 498h8v1h-8zM217 498h1v1h-1zM219 498h3v1h-3zM223 498h3v1h-3zM228 498h3v1h-3zM234 498h1v1h-1zM236 498h1v1h-1zM242 498h2v1h-2z"/><path fill="#a5adad" d="M130 5h2v1h-2zM148 5h3v1h-3zM157 5h2v1h-2zM62 6h2v1h-2zM148 6h3v1h-3zM155 6h2v1h-2zM67 7h2v1h-2zM150 7h2v1h-2zM155 7h2v1h-2zM170 7h2v1h-2zM182 7h1v1h-1zM197 7h1v1h-1zM199 7h2v1h-2zM205 7h1v1h-1zM207 7h2v1h-2zM212 7h2v1h-2zM222 7h2v1h-2zM232 7h1v1h-1zM59 8h5v1h-5zM67 8h2v1h-2zM150 8h2v1h-2zM57 9h2v1h-2zM61 9h3v1h-3zM148 9h3v1h-3zM57 10h2v1h-2zM63 10h3v1h-3zM148 10h4v1h-4zM161 10h2v1h-2zM67 11h2v1h-2zM148 11h4v1h-4zM161 11h2v1h-2zM66 12h3v1h-3zM146 12h4v1h-4zM154 12h1v1h-1zM63 13h1v1h-1zM66 13h3v1h-3zM146 13h5v1h-5zM154 13h1v1h-1zM59 14h1v1h-1zM63 14h1v1h-1zM148 14h4v1h-4zM59 15h1v1h-1zM148 15h4v1h-4zM61 16h2v1h-2zM225 16h1v1h-1zM61 17h2v1h-2zM68 17h1v1h-1zM147 17h2v1h-2zM58 18h1v1h-1zM63 18h2v1h-2zM68 18h1v1h-1zM146 18h1v1h-1zM157 18h2v1h-2zM57 19h1v1h-1zM66 19h2v1h-2zM157 19h2v1h-2zM57 20h1v1h-1zM63 20h2v1h-2zM57 21h1v1h-1zM63 21h2v1h-2zM151 21h2v1h-2zM158 21h2v1h-2zM168 21h1v1h-1zM62 22h3v1h-3zM145 22h1v1h-1zM151 22h2v1h-2zM158 22h2v1h-2zM168 22h1v1h-1zM62 23h1v1h-1zM145 23h2v1h-2zM158 23h2v1h-2zM175 23h2v1h-2zM60 24h3v1h-3zM146 24h1v1h-1zM157 24h3v1h-3zM175 24h2v1h-2zM60 25h5v1h-5zM146 25h1v1h-1zM148 25h2v1h-2zM56 26h1v1h-1zM60 26h2v1h-2zM63 26h3v1h-3zM146 26h4v1h-4zM56 27h1v1h-1zM60 27h2v1h-2zM64 27h2v1h-2zM146 27h2v1h-2zM160 27h2v1h-2zM63 28h2v1h-2zM59 29h1v1h-1zM63 29h2v1h-2zM66 29h1v1h-1zM153 29h2v1h-2zM64 30h3v1h-3zM165 30h2v1h-2zM179 30h2v1h-2zM182 30h2v1h-2zM62 31h1v1h-1zM65 31h2v1h-2zM145 31h5v1h-5zM182 31h2v1h-2zM57 32h2v1h-2zM62 32h1v1h-1zM66 32h2v1h-2zM145 32h3v1h-3zM150 32h2v1h-2zM59 33h2v1h-2zM146 33h2v1h-2zM59 34h2v1h-2zM146 34h2v1h-2zM145 35h2v1h-2zM148 35h3v1h-3zM155 35h4v1h-4zM184 35h2v1h-2zM65 36h2v1h-2zM145 36h6v1h-6zM155 36h2v1h-2zM62 37h1v1h-1zM65 37h3v1h-3zM146 37h2v1h-2zM150 37h2v1h-2zM63 38h2v1h-2zM67 38h1v1h-1zM147 38h1v1h-1zM150 38h2v1h-2zM158 38h2v1h-2zM58 39h1v1h-1zM62 39h3v1h-3zM146 39h3v1h-3zM158 39h2v1h-2zM56 40h1v1h-1zM58 40h1v1h-1zM62 40h3v1h-3zM67 40h1v1h-1zM146 40h3v1h-3zM56 41h1v1h-1zM60 41h2v1h-2zM66 41h2v1h-2zM147 41h2v1h-2zM63 42h2v1h-2zM66 42h2v1h-2zM149 42h1v1h-1zM177 42h2v1h-2zM449 42h1v1h-1zM456 42h2v1h-2zM61 43h1v1h-1zM63 43h4v1h-4zM177 43h2v1h-2zM439 43h2v1h-2zM449 43h1v1h-1zM456 43h2v1h-2zM61 44h1v1h-1zM64 44h3v1h-3zM152 44h1v1h-1zM425 44h3v1h-3zM57 45h1v1h-1zM66 45h2v1h-2zM148 45h2v1h-2zM152 45h1v1h-1zM440 45h2v1h-2zM59 46h1v1h-1zM148 46h2v1h-2zM173 46h2v1h-2zM439 46h3v1h-3zM59 47h1v1h-1zM65 47h1v1h-1zM148 47h1v1h-1zM155 47h2v1h-2zM173 47h2v1h-2zM187 47h2v1h-2zM430 47h1v1h-1zM439 47h2v1h-2zM65 48h1v1h-1zM148 48h1v1h-1zM155 48h2v1h-2zM187 48h2v1h-2zM430 48h2v1h-2zM58 49h1v1h-1zM144 49h1v1h-1zM154 49h2v1h-2zM430 49h2v1h-2zM58 50h1v1h-1zM60 50h1v1h-1zM62 50h1v1h-1zM144 50h3v1h-3zM154 50h2v1h-2zM424 50h2v1h-2zM457 50h2v1h-2zM60 51h3v1h-3zM66 51h1v1h-1zM145 51h2v1h-2zM151 51h2v1h-2zM457 51h2v1h-2zM57 52h1v1h-1zM61 52h2v1h-2zM144 52h1v1h-1zM446 52h1v1h-1zM450 52h1v1h-1zM59 53h1v1h-1zM63 53h1v1h-1zM144 53h1v1h-1zM446 53h1v1h-1zM450 53h1v1h-1zM455 53h2v1h-2zM63 54h1v1h-1zM144 54h1v1h-1zM63 55h1v1h-1zM144 55h1v1h-1zM147 55h2v1h-2zM168 55h1v1h-1zM218 55h2v1h-2zM428 55h2v1h-2zM147 56h2v1h-2zM168 56h1v1h-1zM400 56h2v1h-2zM415 56h3v1h-3zM458 56h2v1h-2zM57 57h2v1h-2zM62 57h2v1h-2zM147 57h2v1h-2zM180 57h2v1h-2zM415 57h3v1h-3zM432 57h2v1h-2zM458 57h2v1h-2zM56 58h2v1h-2zM59 58h1v1h-1zM62 58h3v1h-3zM67 58h1v1h-1zM149 58h1v1h-1zM165 58h2v1h-2zM180 58h2v1h-2zM192 58h1v1h-1zM215 58h1v1h-1zM432 58h2v1h-2zM56 59h2v1h-2zM59 59h1v1h-1zM63 59h2v1h-2zM67 59h1v1h-1zM149 59h1v1h-1zM152 59h2v1h-2zM165 59h2v1h-2zM219 59h2v1h-2zM406 59h1v1h-1zM60 60h3v1h-3zM145 60h2v1h-2zM152 60h2v1h-2zM160 60h2v1h-2zM187 60h1v1h-1zM197 60h2v1h-2zM441 60h2v1h-2zM444 60h1v1h-1zM59 61h5v1h-5zM66 61h1v1h-1zM147 61h3v1h-3zM153 61h2v1h-2zM160 61h2v1h-2zM187 61h1v1h-1zM378 61h2v1h-2zM412 61h1v1h-1zM441 61h2v1h-2zM59 62h4v1h-4zM153 62h2v1h-2zM61 63h2v1h-2zM66 63h1v1h-1zM144 63h2v1h-2zM150 63h2v1h-2zM66 64h1v1h-1zM144 64h2v1h-2zM148 64h4v1h-4zM161 64h2v1h-2zM372 64h2v1h-2zM412 64h1v1h-1zM416 64h2v1h-2zM442 64h3v1h-3zM448 64h2v1h-2zM56 65h1v1h-1zM62 65h4v1h-4zM148 65h2v1h-2zM161 65h2v1h-2zM412 65h1v1h-1zM416 65h2v1h-2zM447 65h3v1h-3zM56 66h1v1h-1zM58 66h1v1h-1zM62 66h4v1h-4zM149 66h1v1h-1zM157 66h1v1h-1zM454 66h2v1h-2zM59 67h2v1h-2zM62 67h2v1h-2zM157 67h1v1h-1zM161 67h2v1h-2zM221 67h2v1h-2zM416 67h2v1h-2zM454 67h2v1h-2zM59 68h2v1h-2zM62 68h3v1h-3zM149 68h2v1h-2zM153 68h1v1h-1zM221 68h2v1h-2zM416 68h2v1h-2zM59 69h2v1h-2zM63 69h2v1h-2zM144 69h1v1h-1zM149 69h2v1h-2zM357 69h2v1h-2zM364 69h2v1h-2zM373 69h1v1h-1zM410 69h1v1h-1zM445 69h2v1h-2zM64 70h2v1h-2zM150 70h2v1h-2zM154 70h1v1h-1zM357 70h2v1h-2zM364 70h2v1h-2zM373 70h1v1h-1zM61 71h1v1h-1zM64 71h2v1h-2zM150 71h2v1h-2zM159 71h2v1h-2zM410 71h2v1h-2zM414 71h2v1h-2zM61 72h1v1h-1zM143 72h2v1h-2zM159 72h2v1h-2zM194 72h2v1h-2zM230 72h1v1h-1zM392 72h1v1h-1zM410 72h2v1h-2zM414 72h3v1h-3zM63 73h1v1h-1zM143 73h4v1h-4zM149 73h2v1h-2zM160 73h2v1h-2zM168 73h2v1h-2zM194 73h2v1h-2zM366 73h2v1h-2zM414 73h2v1h-2zM56 74h1v1h-1zM143 74h1v1h-1zM149 74h2v1h-2zM366 74h2v1h-2zM414 74h2v1h-2zM56 75h1v1h-1zM58 75h2v1h-2zM61 75h2v1h-2zM143 75h1v1h-1zM402 75h2v1h-2zM407 75h2v1h-2zM443 75h2v1h-2zM61 76h2v1h-2zM65 76h2v1h-2zM147 76h1v1h-1zM153 76h1v1h-1zM175 76h2v1h-2zM407 76h2v1h-2zM418 76h1v1h-1zM424 76h2v1h-2zM434 76h1v1h-1zM443 76h2v1h-2zM65 77h2v1h-2zM147 77h1v1h-1zM151 77h3v1h-3zM418 77h1v1h-1zM424 77h2v1h-2zM434 77h1v1h-1zM57 78h1v1h-1zM61 78h2v1h-2zM146 78h2v1h-2zM151 78h2v1h-2zM155 78h2v1h-2zM427 78h2v1h-2zM430 78h2v1h-2zM436 78h1v1h-1zM444 78h1v1h-1zM57 79h1v1h-1zM66 79h1v1h-1zM147 79h1v1h-1zM155 79h2v1h-2zM164 79h2v1h-2zM430 79h1v1h-1zM64 80h1v1h-1zM66 80h1v1h-1zM146 80h2v1h-2zM164 80h2v1h-2zM168 80h2v1h-2zM361 80h1v1h-1zM386 80h1v1h-1zM447 80h2v1h-2zM168 81h2v1h-2zM361 81h1v1h-1zM386 81h1v1h-1zM447 81h2v1h-2zM143 82h1v1h-1zM163 82h1v1h-1zM369 82h3v1h-3zM391 82h2v1h-2zM415 82h2v1h-2zM57 83h3v1h-3zM61 83h3v1h-3zM65 83h1v1h-1zM152 83h2v1h-2zM163 83h1v1h-1zM370 83h2v1h-2zM391 83h2v1h-2zM56 84h2v1h-2zM61 84h3v1h-3zM65 84h1v1h-1zM144 84h2v1h-2zM148 84h1v1h-1zM410 84h1v1h-1zM57 85h1v1h-1zM64 85h2v1h-2zM146 85h3v1h-3zM196 85h1v1h-1zM394 85h2v1h-2zM431 85h2v1h-2zM60 86h2v1h-2zM64 86h2v1h-2zM149 86h2v1h-2zM155 86h1v1h-1zM160 86h1v1h-1zM237 86h2v1h-2zM394 86h4v1h-4zM412 86h2v1h-2zM431 86h2v1h-2zM59 87h3v1h-3zM143 87h2v1h-2zM149 87h2v1h-2zM160 87h1v1h-1zM167 87h2v1h-2zM363 87h2v1h-2zM412 87h2v1h-2zM57 88h5v1h-5zM66 88h1v1h-1zM143 88h2v1h-2zM167 88h2v1h-2zM363 88h2v1h-2zM392 88h1v1h-1zM397 88h2v1h-2zM59 89h3v1h-3zM66 89h1v1h-1zM145 89h2v1h-2zM159 89h1v1h-1zM392 89h1v1h-1zM59 90h1v1h-1zM61 90h1v1h-1zM65 90h2v1h-2zM159 90h1v1h-1zM65 91h2v1h-2zM145 91h5v1h-5zM163 91h2v1h-2zM410 91h1v1h-1zM444 91h1v1h-1zM58 92h2v1h-2zM62 92h1v1h-1zM66 92h1v1h-1zM145 92h5v1h-5zM163 92h2v1h-2zM185 92h2v1h-2zM362 92h1v1h-1zM373 92h2v1h-2zM444 92h1v1h-1zM58 93h2v1h-2zM62 93h1v1h-1zM66 93h1v1h-1zM429 93h2v1h-2zM62 94h1v1h-1zM366 94h2v1h-2zM373 94h1v1h-1zM392 94h2v1h-2zM56 95h1v1h-1zM366 95h2v1h-2zM373 95h1v1h-1zM392 95h2v1h-2zM60 96h1v1h-1zM142 96h1v1h-1zM149 96h1v1h-1zM414 96h1v1h-1zM60 97h2v1h-2zM149 97h1v1h-1zM154 97h2v1h-2zM414 97h1v1h-1zM417 97h2v1h-2zM57 98h2v1h-2zM60 98h2v1h-2zM147 98h2v1h-2zM154 98h2v1h-2zM417 98h2v1h-2zM432 98h2v1h-2zM62 99h2v1h-2zM147 99h2v1h-2zM155 99h1v1h-1zM391 99h2v1h-2zM432 99h2v1h-2zM62 100h2v1h-2zM66 100h1v1h-1zM144 100h4v1h-4zM149 100h1v1h-1zM154 100h3v1h-3zM163 100h1v1h-1zM416 100h1v1h-1zM62 101h1v1h-1zM65 101h2v1h-2zM145 101h3v1h-3zM151 101h1v1h-1zM163 101h1v1h-1zM405 101h2v1h-2zM57 102h2v1h-2zM61 102h2v1h-2zM65 102h2v1h-2zM358 102h2v1h-2zM405 102h2v1h-2zM57 103h2v1h-2zM66 103h1v1h-1zM424 103h2v1h-2zM143 104h1v1h-1zM148 104h2v1h-2zM190 104h1v1h-1zM424 104h2v1h-2zM59 105h2v1h-2zM65 105h2v1h-2zM143 105h1v1h-1zM148 105h2v1h-2zM363 105h1v1h-1zM381 105h1v1h-1zM393 105h2v1h-2zM150 106h1v1h-1zM162 106h2v1h-2zM216 106h1v1h-1zM363 106h1v1h-1zM366 106h2v1h-2zM372 106h2v1h-2zM381 106h1v1h-1zM393 106h3v1h-3zM58 107h3v1h-3zM143 107h2v1h-2zM150 107h1v1h-1zM162 107h2v1h-2zM347 107h2v1h-2zM372 107h2v1h-2zM58 108h2v1h-2zM143 108h1v1h-1zM160 108h2v1h-2zM172 108h2v1h-2zM378 108h2v1h-2zM437 108h1v1h-1zM58 109h3v1h-3zM62 109h2v1h-2zM65 109h2v1h-2zM150 109h3v1h-3zM160 109h2v1h-2zM172 109h2v1h-2zM378 109h2v1h-2zM408 109h2v1h-2zM437 109h1v1h-1zM58 110h6v1h-6zM65 110h2v1h-2zM147 110h1v1h-1zM152 110h1v1h-1zM162 110h1v1h-1zM185 110h1v1h-1zM408 110h2v1h-2zM58 111h2v1h-2zM144 111h1v1h-1zM162 111h1v1h-1zM169 111h1v1h-1zM171 111h2v1h-2zM182 111h2v1h-2zM376 111h1v1h-1zM171 112h2v1h-2zM182 112h2v1h-2zM376 112h1v1h-1zM59 113h3v1h-3zM151 113h2v1h-2zM359 113h2v1h-2zM368 113h3v1h-3zM376 113h2v1h-2zM58 114h2v1h-2zM61 114h1v1h-1zM145 114h1v1h-1zM151 114h2v1h-2zM348 114h2v1h-2zM359 114h2v1h-2zM362 114h2v1h-2zM368 114h2v1h-2zM376 114h2v1h-2zM58 115h1v1h-1zM61 115h1v1h-1zM146 115h1v1h-1zM149 115h4v1h-4zM165 115h4v1h-4zM348 115h2v1h-2zM361 115h2v1h-2zM369 115h1v1h-1zM380 115h1v1h-1zM62 116h3v1h-3zM146 116h1v1h-1zM149 116h2v1h-2zM159 116h2v1h-2zM165 116h2v1h-2zM344 116h2v1h-2zM360 116h3v1h-3zM366 116h2v1h-2zM378 116h3v1h-3zM390 116h1v1h-1zM424 116h2v1h-2zM60 117h2v1h-2zM148 117h1v1h-1zM174 117h2v1h-2zM344 117h2v1h-2zM353 117h5v1h-5zM360 117h1v1h-1zM385 117h1v1h-1zM387 117h4v1h-4zM397 117h1v1h-1zM421 117h1v1h-1zM423 117h3v1h-3zM60 118h4v1h-4zM148 118h1v1h-1zM151 118h1v1h-1zM161 118h1v1h-1zM174 118h2v1h-2zM353 118h2v1h-2zM391 118h5v1h-5zM397 118h1v1h-1zM409 118h2v1h-2zM423 118h2v1h-2zM437 118h1v1h-1zM60 119h1v1h-1zM62 119h2v1h-2zM149 119h1v1h-1zM151 119h1v1h-1zM392 119h4v1h-4zM397 119h2v1h-2zM62 120h2v1h-2zM350 120h1v1h-1zM393 120h3v1h-3zM397 120h2v1h-2zM409 120h1v1h-1zM420 120h2v1h-2zM59 121h1v1h-1zM62 121h2v1h-2zM160 121h1v1h-1zM174 121h2v1h-2zM350 121h1v1h-1zM394 121h1v1h-1zM408 121h2v1h-2zM420 121h2v1h-2zM59 122h3v1h-3zM156 122h1v1h-1zM160 122h1v1h-1zM174 122h2v1h-2zM394 122h2v1h-2zM409 122h1v1h-1zM61 123h1v1h-1zM156 123h1v1h-1zM158 123h1v1h-1zM320 123h1v1h-1zM395 123h3v1h-3zM412 123h1v1h-1zM424 123h2v1h-2zM56 124h2v1h-2zM65 124h2v1h-2zM146 124h2v1h-2zM156 124h1v1h-1zM158 124h1v1h-1zM161 124h1v1h-1zM348 124h1v1h-1zM395 124h3v1h-3zM412 124h1v1h-1zM426 124h2v1h-2zM56 125h2v1h-2zM156 125h1v1h-1zM161 125h1v1h-1zM341 125h1v1h-1zM348 125h1v1h-1zM426 125h2v1h-2zM61 126h2v1h-2zM149 126h3v1h-3zM165 126h2v1h-2zM171 126h2v1h-2zM420 126h1v1h-1zM165 127h2v1h-2zM171 127h2v1h-2zM340 127h2v1h-2zM345 127h1v1h-1zM410 127h1v1h-1zM412 127h1v1h-1zM58 128h2v1h-2zM63 128h2v1h-2zM66 128h1v1h-1zM340 128h2v1h-2zM399 128h2v1h-2zM406 128h2v1h-2zM58 129h2v1h-2zM61 129h4v1h-4zM66 129h1v1h-1zM146 129h4v1h-4zM153 129h2v1h-2zM193 129h1v1h-1zM345 129h1v1h-1zM398 129h3v1h-3zM406 129h2v1h-2zM59 130h5v1h-5zM65 130h2v1h-2zM193 130h1v1h-1zM323 130h2v1h-2zM328 130h1v1h-1zM398 130h2v1h-2zM405 130h2v1h-2zM429 130h2v1h-2zM59 131h2v1h-2zM65 131h2v1h-2zM148 131h3v1h-3zM323 131h2v1h-2zM398 131h4v1h-4zM404 131h2v1h-2zM422 131h2v1h-2zM429 131h2v1h-2zM439 131h1v1h-1zM62 132h2v1h-2zM65 132h2v1h-2zM148 132h3v1h-3zM327 132h1v1h-1zM341 132h2v1h-2zM400 132h2v1h-2zM405 132h1v1h-1zM414 132h1v1h-1zM417 132h1v1h-1zM427 132h2v1h-2zM439 132h1v1h-1zM60 133h1v1h-1zM62 133h2v1h-2zM327 133h1v1h-1zM341 133h2v1h-2zM414 133h1v1h-1zM58 134h3v1h-3zM148 134h2v1h-2zM153 134h2v1h-2zM157 134h2v1h-2zM170 134h2v1h-2zM324 134h2v1h-2zM409 134h2v1h-2zM421 134h2v1h-2zM65 135h2v1h-2zM148 135h2v1h-2zM153 135h2v1h-2zM156 135h2v1h-2zM324 135h2v1h-2zM409 135h2v1h-2zM413 135h2v1h-2zM65 136h2v1h-2zM148 136h3v1h-3zM152 136h3v1h-3zM165 136h1v1h-1zM320 136h1v1h-1zM324 136h2v1h-2zM413 136h2v1h-2zM59 137h1v1h-1zM62 137h2v1h-2zM154 137h1v1h-1zM165 137h1v1h-1zM189 137h1v1h-1zM199 137h2v1h-2zM320 137h1v1h-1zM324 137h2v1h-2zM399 137h1v1h-1zM62 138h2v1h-2zM66 138h1v1h-1zM189 138h1v1h-1zM330 138h1v1h-1zM410 138h1v1h-1zM64 139h2v1h-2zM150 139h2v1h-2zM154 139h3v1h-3zM329 139h2v1h-2zM332 139h1v1h-1zM403 139h1v1h-1zM405 139h1v1h-1zM410 139h1v1h-1zM417 139h2v1h-2zM57 140h1v1h-1zM64 140h3v1h-3zM150 140h2v1h-2zM154 140h3v1h-3zM320 140h2v1h-2zM331 140h2v1h-2zM403 140h1v1h-1zM405 140h1v1h-1zM417 140h2v1h-2zM57 141h1v1h-1zM59 141h1v1h-1zM62 141h2v1h-2zM66 141h1v1h-1zM150 141h1v1h-1zM152 141h2v1h-2zM180 141h2v1h-2zM198 141h1v1h-1zM321 141h2v1h-2zM331 141h1v1h-1zM59 142h1v1h-1zM66 142h1v1h-1zM148 142h2v1h-2zM152 142h2v1h-2zM158 142h3v1h-3zM164 142h1v1h-1zM171 142h2v1h-2zM174 142h1v1h-1zM312 142h2v1h-2zM405 142h1v1h-1zM66 143h1v1h-1zM148 143h7v1h-7zM159 143h2v1h-2zM164 143h1v1h-1zM167 143h1v1h-1zM171 143h2v1h-2zM174 143h1v1h-1zM324 143h3v1h-3zM430 143h2v1h-2zM65 144h2v1h-2zM149 144h6v1h-6zM161 144h2v1h-2zM324 144h3v1h-3zM427 144h1v1h-1zM430 144h2v1h-2zM65 145h2v1h-2zM148 145h1v1h-1zM151 145h4v1h-4zM158 145h5v1h-5zM319 145h2v1h-2zM325 145h1v1h-1zM409 145h1v1h-1zM427 145h1v1h-1zM57 146h2v1h-2zM65 146h2v1h-2zM151 146h2v1h-2zM158 146h3v1h-3zM174 146h1v1h-1zM319 146h2v1h-2zM409 146h2v1h-2zM414 146h1v1h-1zM421 146h2v1h-2zM57 147h2v1h-2zM65 147h2v1h-2zM148 147h1v1h-1zM156 147h1v1h-1zM163 147h1v1h-1zM174 147h1v1h-1zM186 147h2v1h-2zM191 147h2v1h-2zM318 147h2v1h-2zM410 147h1v1h-1zM414 147h1v1h-1zM60 148h2v1h-2zM63 148h1v1h-1zM149 148h2v1h-2zM156 148h1v1h-1zM163 148h1v1h-1zM60 149h2v1h-2zM63 149h1v1h-1zM158 149h2v1h-2zM317 149h1v1h-1zM59 150h1v1h-1zM62 150h1v1h-1zM154 150h2v1h-2zM157 150h2v1h-2zM311 150h2v1h-2zM412 150h2v1h-2zM59 151h4v1h-4zM154 151h5v1h-5zM311 151h3v1h-3zM426 151h2v1h-2zM60 152h4v1h-4zM149 152h2v1h-2zM156 152h2v1h-2zM419 152h2v1h-2zM426 152h2v1h-2zM62 153h3v1h-3zM156 153h2v1h-2zM175 153h1v1h-1zM179 153h2v1h-2zM419 153h2v1h-2zM168 154h2v1h-2zM175 154h1v1h-1zM179 154h2v1h-2zM60 155h2v1h-2zM150 155h1v1h-1zM168 155h3v1h-3zM60 156h2v1h-2zM63 156h1v1h-1zM150 156h1v1h-1zM168 156h1v1h-1zM414 156h3v1h-3zM59 157h1v1h-1zM66 157h1v1h-1zM159 157h2v1h-2zM167 157h2v1h-2zM414 157h3v1h-3zM418 157h2v1h-2zM59 158h1v1h-1zM66 158h1v1h-1zM151 158h1v1h-1zM415 158h2v1h-2zM418 158h2v1h-2zM425 158h1v1h-1zM151 159h1v1h-1zM163 159h2v1h-2zM174 159h1v1h-1zM415 159h2v1h-2zM425 159h1v1h-1zM64 160h3v1h-3zM163 160h4v1h-4zM174 160h2v1h-2zM64 161h3v1h-3zM172 161h2v1h-2zM59 162h3v1h-3zM66 162h1v1h-1zM166 162h1v1h-1zM430 162h1v1h-1zM57 163h1v1h-1zM65 163h2v1h-2zM414 163h1v1h-1zM430 163h1v1h-1zM57 164h1v1h-1zM414 164h1v1h-1zM429 164h2v1h-2zM60 165h2v1h-2zM64 165h3v1h-3zM429 165h2v1h-2zM66 166h1v1h-1zM150 166h1v1h-1zM62 167h4v1h-4zM155 167h2v1h-2zM167 167h2v1h-2zM175 167h2v1h-2zM56 168h1v1h-1zM60 168h2v1h-2zM64 168h4v1h-4zM155 168h2v1h-2zM167 168h2v1h-2zM171 168h1v1h-1zM175 168h2v1h-2zM414 168h1v1h-1zM56 169h2v1h-2zM66 169h2v1h-2zM155 169h2v1h-2zM171 169h1v1h-1zM414 169h1v1h-1zM56 170h2v1h-2zM67 170h1v1h-1zM156 170h1v1h-1zM169 170h2v1h-2zM416 170h2v1h-2zM58 171h2v1h-2zM67 171h1v1h-1zM416 171h4v1h-4zM61 172h2v1h-2zM149 172h1v1h-1zM58 173h1v1h-1zM60 173h2v1h-2zM149 173h3v1h-3zM155 173h1v1h-1zM179 173h2v1h-2zM416 173h2v1h-2zM58 174h1v1h-1zM60 174h2v1h-2zM150 174h2v1h-2zM155 174h1v1h-1zM179 174h2v1h-2zM413 174h1v1h-1zM415 174h1v1h-1zM420 174h1v1h-1zM62 175h1v1h-1zM160 175h1v1h-1zM415 175h1v1h-1zM58 176h1v1h-1zM168 176h1v1h-1zM58 177h1v1h-1zM152 177h2v1h-2zM168 177h1v1h-1zM413 177h1v1h-1zM417 177h2v1h-2zM147 178h2v1h-2zM413 178h1v1h-1zM417 178h2v1h-2zM57 179h1v1h-1zM147 179h2v1h-2zM411 179h4v1h-4zM57 180h1v1h-1zM411 180h4v1h-4zM411 181h1v1h-1zM141 182h1v1h-1zM411 182h1v1h-1zM413 182h2v1h-2zM138 183h1v1h-1zM141 183h1v1h-1zM144 183h1v1h-1zM409 183h1v1h-1zM418 183h2v1h-2zM418 184h2v1h-2zM153 185h1v1h-1zM151 186h1v1h-1zM138 187h2v1h-2zM144 187h1v1h-1zM406 187h3v1h-3zM131 188h2v1h-2zM138 188h2v1h-2zM144 188h2v1h-2zM168 188h1v1h-1zM411 189h2v1h-2zM420 189h1v1h-1zM128 190h3v1h-3zM409 190h2v1h-2zM420 190h1v1h-1zM129 191h2v1h-2zM132 191h1v1h-1zM124 192h1v1h-1zM126 192h2v1h-2zM132 192h1v1h-1zM123 193h2v1h-2zM406 194h4v1h-4zM118 195h2v1h-2zM406 195h2v1h-2zM116 196h1v1h-1zM118 196h2v1h-2zM407 196h1v1h-1zM414 196h2v1h-2zM120 197h1v1h-1zM407 197h1v1h-1zM414 197h2v1h-2zM108 198h1v1h-1zM120 198h1v1h-1zM396 198h1v1h-1zM398 198h2v1h-2zM410 198h2v1h-2zM104 199h2v1h-2zM107 199h2v1h-2zM110 199h2v1h-2zM398 199h2v1h-2zM410 199h2v1h-2zM102 200h1v1h-1zM104 200h2v1h-2zM107 200h2v1h-2zM111 200h1v1h-1zM392 200h1v1h-1zM398 200h1v1h-1zM101 201h2v1h-2zM392 201h2v1h-2zM395 201h1v1h-1zM401 201h2v1h-2zM100 202h2v1h-2zM387 202h3v1h-3zM392 202h2v1h-2zM395 202h1v1h-1zM401 202h2v1h-2zM385 203h5v1h-5zM400 203h2v1h-2zM404 203h2v1h-2zM97 204h1v1h-1zM382 204h2v1h-2zM385 204h2v1h-2zM388 204h1v1h-1zM400 204h2v1h-2zM404 204h2v1h-2zM413 204h2v1h-2zM96 205h2v1h-2zM381 205h3v1h-3zM397 205h2v1h-2zM405 205h2v1h-2zM413 205h2v1h-2zM95 206h3v1h-3zM387 206h2v1h-2zM391 206h1v1h-1zM399 206h2v1h-2zM88 207h2v1h-2zM95 207h1v1h-1zM373 207h1v1h-1zM381 207h2v1h-2zM391 207h1v1h-1zM380 208h2v1h-2zM392 208h2v1h-2zM398 208h2v1h-2zM407 208h2v1h-2zM238 310h2v1h-2zM238 312h2v1h-2zM229 317h1v1h-1zM229 318h1v1h-1zM254 322h2v1h-2zM243 323h2v1h-2zM246 323h1v1h-1zM254 323h2v1h-2zM243 324h2v1h-2zM246 324h2v1h-2zM224 325h1v1h-1zM238 328h3v1h-3zM246 328h1v1h-1zM250 328h2v1h-2zM234 329h2v1h-2zM240 329h1v1h-1zM242 329h2v1h-2zM220 330h2v1h-2zM221 331h2v1h-2zM221 332h2v1h-2zM226 332h2v1h-2zM242 332h1v1h-1zM262 332h1v1h-1zM218 333h2v1h-2zM222 333h1v1h-1zM226 333h2v1h-2zM230 333h2v1h-2zM247 333h2v1h-2zM258 333h2v1h-2zM262 333h1v1h-1zM230 334h2v1h-2zM247 334h2v1h-2zM258 334h1v1h-1zM215 335h2v1h-2zM228 335h2v1h-2zM258 335h1v1h-1zM273 335h1v1h-1zM299 335h2v1h-2zM260 336h1v1h-1zM264 336h2v1h-2zM223 337h2v1h-2zM246 337h2v1h-2zM260 337h3v1h-3zM265 337h2v1h-2zM217 338h1v1h-1zM221 338h1v1h-1zM224 338h2v1h-2zM246 338h2v1h-2zM256 338h1v1h-1zM264 338h1v1h-1zM215 339h3v1h-3zM224 339h2v1h-2zM227 339h2v1h-2zM243 339h2v1h-2zM250 339h3v1h-3zM256 339h1v1h-1zM216 340h2v1h-2zM224 340h2v1h-2zM243 340h2v1h-2zM252 340h2v1h-2zM256 340h1v1h-1zM272 340h2v1h-2zM279 340h2v1h-2zM203 341h2v1h-2zM216 341h2v1h-2zM230 341h2v1h-2zM238 341h1v1h-1zM241 341h2v1h-2zM249 341h1v1h-1zM252 341h4v1h-4zM265 341h2v1h-2zM279 341h2v1h-2zM203 342h2v1h-2zM230 342h2v1h-2zM234 342h2v1h-2zM238 342h1v1h-1zM241 342h2v1h-2zM246 342h1v1h-1zM249 342h1v1h-1zM254 342h2v1h-2zM265 342h2v1h-2zM282 342h1v1h-1zM236 343h1v1h-1zM246 343h1v1h-1zM282 343h1v1h-1zM319 343h1v1h-1zM235 344h2v1h-2zM240 344h2v1h-2zM251 344h1v1h-1zM256 344h4v1h-4zM272 344h2v1h-2zM289 344h2v1h-2zM298 344h1v1h-1zM319 344h1v1h-1zM230 345h2v1h-2zM235 345h2v1h-2zM240 345h2v1h-2zM250 345h2v1h-2zM256 345h4v1h-4zM272 345h2v1h-2zM277 345h2v1h-2zM230 346h2v1h-2zM234 346h3v1h-3zM239 346h1v1h-1zM246 346h1v1h-1zM250 346h1v1h-1zM256 346h3v1h-3zM266 346h2v1h-2zM272 346h2v1h-2zM230 347h2v1h-2zM233 347h2v1h-2zM239 347h1v1h-1zM241 347h1v1h-1zM246 347h1v1h-1zM257 347h2v1h-2zM266 347h2v1h-2zM272 347h1v1h-1zM280 347h2v1h-2zM223 348h2v1h-2zM226 348h1v1h-1zM233 348h1v1h-1zM241 348h2v1h-2zM247 348h1v1h-1zM250 348h2v1h-2zM265 348h2v1h-2zM268 348h2v1h-2zM272 348h1v1h-1zM226 349h1v1h-1zM229 349h1v1h-1zM247 349h1v1h-1zM250 349h3v1h-3zM259 349h1v1h-1zM229 350h1v1h-1zM236 350h1v1h-1zM244 350h1v1h-1zM252 350h1v1h-1zM259 350h1v1h-1zM201 351h1v1h-1zM219 351h2v1h-2zM232 351h5v1h-5zM244 351h1v1h-1zM258 351h1v1h-1zM262 351h2v1h-2zM312 351h2v1h-2zM201 352h1v1h-1zM219 352h2v1h-2zM232 352h2v1h-2zM269 352h2v1h-2zM275 352h1v1h-1zM310 352h2v1h-2zM231 353h2v1h-2zM238 353h1v1h-1zM274 353h2v1h-2zM281 353h1v1h-1zM285 353h1v1h-1zM310 353h2v1h-2zM220 354h1v1h-1zM231 354h4v1h-4zM243 354h2v1h-2zM255 354h2v1h-2zM270 354h2v1h-2zM274 354h2v1h-2zM285 354h1v1h-1zM293 354h1v1h-1zM220 355h1v1h-1zM233 355h2v1h-2zM243 355h2v1h-2zM251 355h2v1h-2zM256 355h3v1h-3zM270 355h2v1h-2zM293 355h1v1h-1zM311 355h1v1h-1zM238 356h2v1h-2zM255 356h2v1h-2zM311 356h1v1h-1zM332 356h2v1h-2zM217 357h1v1h-1zM238 357h2v1h-2zM251 357h2v1h-2zM265 357h2v1h-2zM301 357h2v1h-2zM323 357h2v1h-2zM332 357h2v1h-2zM217 358h1v1h-1zM235 358h2v1h-2zM238 358h2v1h-2zM251 358h2v1h-2zM265 358h2v1h-2zM297 358h1v1h-1zM235 359h2v1h-2zM250 359h2v1h-2zM297 359h1v1h-1zM244 360h2v1h-2zM250 360h2v1h-2zM253 360h1v1h-1zM258 360h1v1h-1zM289 360h1v1h-1zM302 360h1v1h-1zM224 361h2v1h-2zM232 361h2v1h-2zM246 361h1v1h-1zM250 361h2v1h-2zM253 361h1v1h-1zM258 361h1v1h-1zM281 361h1v1h-1zM294 361h2v1h-2zM224 362h2v1h-2zM234 362h2v1h-2zM288 362h2v1h-2zM292 362h1v1h-1zM294 362h2v1h-2zM234 363h2v1h-2zM261 363h2v1h-2zM278 363h1v1h-1zM284 363h2v1h-2zM288 363h2v1h-2zM298 363h2v1h-2zM278 364h1v1h-1zM284 364h2v1h-2zM298 364h2v1h-2zM315 364h2v1h-2zM324 364h2v1h-2zM275 365h2v1h-2zM315 365h2v1h-2zM229 366h3v1h-3zM275 366h2v1h-2zM201 367h2v1h-2zM207 367h2v1h-2zM229 367h2v1h-2zM245 367h2v1h-2zM179 368h2v1h-2zM187 368h2v1h-2zM201 368h2v1h-2zM214 368h4v1h-4zM232 368h1v1h-1zM239 368h2v1h-2zM267 368h2v1h-2zM296 368h1v1h-1zM179 369h2v1h-2zM187 369h2v1h-2zM197 369h3v1h-3zM202 369h2v1h-2zM208 369h1v1h-1zM216 369h3v1h-3zM232 369h1v1h-1zM244 369h1v1h-1zM251 369h2v1h-2zM257 369h3v1h-3zM267 369h2v1h-2zM276 369h1v1h-1zM331 369h1v1h-1zM254 370h2v1h-2zM257 370h1v1h-1zM276 370h1v1h-1zM312 370h1v1h-1zM331 370h1v1h-1zM175 371h1v1h-1zM181 371h2v1h-2zM184 371h1v1h-1zM247 371h2v1h-2zM254 371h2v1h-2zM312 371h1v1h-1zM175 372h1v1h-1zM249 372h2v1h-2zM257 372h1v1h-1zM267 372h2v1h-2zM249 373h2v1h-2zM257 373h1v1h-1zM267 373h2v1h-2zM271 373h1v1h-1zM276 373h2v1h-2zM314 373h2v1h-2zM271 374h1v1h-1zM277 374h1v1h-1zM307 374h2v1h-2zM269 375h1v1h-1zM307 375h2v1h-2zM315 375h1v1h-1zM252 376h2v1h-2zM269 376h1v1h-1zM315 376h1v1h-1zM169 377h1v1h-1zM253 377h1v1h-1zM260 377h2v1h-2zM288 377h1v1h-1zM290 377h2v1h-2zM260 378h2v1h-2zM263 378h2v1h-2zM275 378h1v1h-1zM288 378h1v1h-1zM290 378h2v1h-2zM337 378h2v1h-2zM263 379h2v1h-2zM275 379h1v1h-1zM260 380h2v1h-2zM279 380h2v1h-2zM296 380h2v1h-2zM304 380h1v1h-1zM318 380h2v1h-2zM324 380h2v1h-2zM260 381h3v1h-3zM288 381h2v1h-2zM304 381h1v1h-1zM313 381h1v1h-1zM324 381h2v1h-2zM262 382h2v1h-2zM274 382h2v1h-2zM288 382h2v1h-2zM314 382h2v1h-2zM263 383h1v1h-1zM270 383h2v1h-2zM282 383h1v1h-1zM314 383h2v1h-2zM320 383h2v1h-2zM262 384h1v1h-1zM270 384h2v1h-2zM276 384h2v1h-2zM282 384h1v1h-1zM262 385h1v1h-1zM267 385h1v1h-1zM269 385h2v1h-2zM276 385h2v1h-2zM297 385h2v1h-2zM257 386h2v1h-2zM262 386h1v1h-1zM266 386h1v1h-1zM269 386h2v1h-2zM291 386h2v1h-2zM297 386h2v1h-2zM257 387h2v1h-2zM261 387h1v1h-1zM266 387h1v1h-1zM284 387h1v1h-1zM287 387h1v1h-1zM291 387h4v1h-4zM284 388h1v1h-1zM287 388h1v1h-1zM293 388h2v1h-2zM265 389h2v1h-2zM271 389h1v1h-1zM318 389h2v1h-2zM265 390h4v1h-4zM271 390h1v1h-1zM284 390h2v1h-2zM293 390h3v1h-3zM338 390h1v1h-1zM267 391h2v1h-2zM284 391h2v1h-2zM295 391h1v1h-1zM338 391h1v1h-1zM258 392h1v1h-1zM258 393h1v1h-1zM268 393h2v1h-2zM274 393h2v1h-2zM307 393h1v1h-1zM280 394h2v1h-2zM298 394h1v1h-1zM307 394h1v1h-1zM280 395h2v1h-2zM262 396h2v1h-2zM270 396h2v1h-2zM285 396h1v1h-1zM297 396h2v1h-2zM262 397h2v1h-2zM270 397h4v1h-4zM297 397h2v1h-2zM305 397h1v1h-1zM272 398h2v1h-2zM305 398h1v1h-1zM270 399h3v1h-3zM286 399h1v1h-1zM292 399h1v1h-1zM300 399h2v1h-2zM334 399h1v1h-1zM259 400h1v1h-1zM267 400h1v1h-1zM270 400h3v1h-3zM292 400h1v1h-1zM300 400h2v1h-2zM333 400h2v1h-2zM259 401h1v1h-1zM267 401h3v1h-3zM325 401h1v1h-1zM259 402h1v1h-1zM266 402h2v1h-2zM303 402h2v1h-2zM307 402h1v1h-1zM315 402h2v1h-2zM260 403h2v1h-2zM266 403h2v1h-2zM296 403h2v1h-2zM307 403h1v1h-1zM315 403h2v1h-2zM259 404h1v1h-1zM259 405h2v1h-2zM262 406h3v1h-3zM262 407h1v1h-1zM272 407h2v1h-2zM277 407h1v1h-1zM288 407h2v1h-2zM291 407h1v1h-1zM301 407h2v1h-2zM326 407h1v1h-1zM259 408h2v1h-2zM265 408h1v1h-1zM272 408h2v1h-2zM277 408h1v1h-1zM286 408h2v1h-2zM291 408h1v1h-1zM301 408h2v1h-2zM259 409h2v1h-2zM265 409h1v1h-1zM286 409h2v1h-2zM265 410h1v1h-1zM274 410h2v1h-2zM322 410h1v1h-1zM274 411h2v1h-2zM322 411h1v1h-1zM329 411h2v1h-2zM259 412h1v1h-1zM269 412h1v1h-1zM320 412h3v1h-3zM259 413h1v1h-1zM271 413h1v1h-1zM296 413h2v1h-2zM271 414h1v1h-1zM296 414h2v1h-2zM299 414h1v1h-1zM321 414h1v1h-1zM260 415h1v1h-1zM274 415h2v1h-2zM274 416h2v1h-2zM259 417h1v1h-1zM322 417h2v1h-2zM259 418h1v1h-1zM286 418h2v1h-2zM322 418h2v1h-2zM259 419h1v1h-1zM262 419h1v1h-1zM286 419h2v1h-2zM302 419h2v1h-2zM263 420h1v1h-1zM271 420h1v1h-1zM287 420h2v1h-2zM302 420h2v1h-2zM316 420h2v1h-2zM263 421h1v1h-1zM271 421h1v1h-1zM284 421h2v1h-2zM295 421h1v1h-1zM277 422h2v1h-2zM284 422h2v1h-2zM295 422h1v1h-1zM277 423h2v1h-2zM277 424h2v1h-2zM318 424h2v1h-2zM260 428h1v1h-1zM262 428h2v1h-2zM270 428h2v1h-2zM273 428h2v1h-2zM290 428h2v1h-2zM260 429h1v1h-1zM262 429h2v1h-2zM270 429h5v1h-5zM290 429h2v1h-2zM296 429h1v1h-1zM270 430h3v1h-3zM278 430h2v1h-2zM296 430h1v1h-1zM333 430h2v1h-2zM278 431h2v1h-2zM308 431h1v1h-1zM333 431h2v1h-2zM283 432h2v1h-2zM290 432h2v1h-2zM305 432h2v1h-2zM308 432h1v1h-1zM326 432h1v1h-1zM274 433h2v1h-2zM283 433h2v1h-2zM305 433h2v1h-2zM262 434h2v1h-2zM268 434h2v1h-2zM262 435h1v1h-1zM262 436h1v1h-1zM270 436h1v1h-1zM325 436h1v1h-1zM339 436h1v1h-1zM281 437h1v1h-1zM302 437h2v1h-2zM325 437h1v1h-1zM339 437h1v1h-1zM267 438h2v1h-2zM281 438h1v1h-1zM283 438h2v1h-2zM261 439h2v1h-2zM269 439h2v1h-2zM283 439h2v1h-2zM309 439h1v1h-1zM260 440h1v1h-1zM267 440h2v1h-2zM282 440h1v1h-1zM309 440h1v1h-1zM288 441h1v1h-1zM296 441h1v1h-1zM260 442h1v1h-1zM281 442h1v1h-1zM288 442h1v1h-1zM260 443h1v1h-1zM262 443h1v1h-1zM275 443h2v1h-2zM281 443h2v1h-2zM328 443h2v1h-2zM260 444h3v1h-3zM270 444h2v1h-2zM275 444h2v1h-2zM282 444h4v1h-4zM261 445h2v1h-2zM270 445h2v1h-2zM284 445h2v1h-2zM287 445h2v1h-2zM311 445h1v1h-1zM277 446h1v1h-1zM287 446h1v1h-1zM306 446h2v1h-2zM311 446h1v1h-1zM261 447h1v1h-1zM287 447h1v1h-1zM298 447h2v1h-2zM261 448h1v1h-1zM289 448h1v1h-1zM298 448h2v1h-2zM330 448h2v1h-2zM267 449h2v1h-2zM271 449h1v1h-1zM289 449h1v1h-1zM330 449h2v1h-2zM267 450h2v1h-2zM271 450h1v1h-1zM280 450h1v1h-1zM295 450h2v1h-2zM311 450h2v1h-2zM261 451h2v1h-2zM280 451h1v1h-1zM295 451h2v1h-2zM311 451h2v1h-2zM261 452h2v1h-2zM269 452h2v1h-2zM287 452h2v1h-2zM269 453h2v1h-2zM276 453h1v1h-1zM282 453h2v1h-2zM287 453h2v1h-2zM273 454h1v1h-1zM281 454h2v1h-2zM273 455h1v1h-1zM281 455h2v1h-2zM317 455h2v1h-2zM325 455h1v1h-1zM338 455h2v1h-2zM317 456h2v1h-2zM325 456h1v1h-1zM281 457h1v1h-1zM285 457h1v1h-1zM317 457h2v1h-2zM328 457h2v1h-2zM266 458h3v1h-3zM281 458h1v1h-1zM328 458h2v1h-2zM261 459h1v1h-1zM267 459h2v1h-2zM296 459h2v1h-2zM341 459h1v1h-1zM261 460h1v1h-1zM285 460h1v1h-1zM322 460h2v1h-2zM282 461h2v1h-2zM263 462h2v1h-2zM280 462h2v1h-2zM287 462h1v1h-1zM317 462h1v1h-1zM263 463h2v1h-2zM270 463h2v1h-2zM274 463h2v1h-2zM291 463h1v1h-1zM300 463h1v1h-1zM316 463h2v1h-2zM263 464h2v1h-2zM274 464h2v1h-2zM277 464h2v1h-2zM300 464h1v1h-1zM316 464h2v1h-2zM274 465h1v1h-1zM277 465h2v1h-2zM270 467h1v1h-1zM274 467h2v1h-2zM290 467h2v1h-2zM296 467h2v1h-2zM262 468h2v1h-2zM270 468h1v1h-1zM274 468h4v1h-4zM284 468h1v1h-1zM288 468h1v1h-1zM295 468h2v1h-2zM324 468h2v1h-2zM269 469h2v1h-2zM276 469h3v1h-3zM284 469h1v1h-1zM288 469h2v1h-2zM295 469h2v1h-2zM324 469h2v1h-2zM261 470h1v1h-1zM269 470h2v1h-2zM273 470h1v1h-1zM288 470h2v1h-2zM293 470h2v1h-2zM261 471h1v1h-1zM273 471h1v1h-1zM269 472h2v1h-2zM288 472h1v1h-1zM261 473h2v1h-2zM269 473h3v1h-3zM276 473h2v1h-2zM288 473h1v1h-1zM298 473h2v1h-2zM322 473h2v1h-2zM274 474h4v1h-4zM285 474h1v1h-1zM287 474h1v1h-1zM322 474h2v1h-2zM338 474h2v1h-2zM273 475h2v1h-2zM287 475h1v1h-1zM289 475h2v1h-2zM298 475h2v1h-2zM261 476h1v1h-1zM264 476h2v1h-2zM273 476h2v1h-2zM278 476h2v1h-2zM298 476h3v1h-3zM261 477h2v1h-2zM264 477h2v1h-2zM290 477h1v1h-1zM331 477h2v1h-2zM261 478h2v1h-2zM280 478h1v1h-1zM298 478h2v1h-2zM331 478h2v1h-2zM280 479h1v1h-1zM298 479h2v1h-2zM319 479h2v1h-2zM293 480h1v1h-1zM319 480h2v1h-2zM293 481h1v1h-1zM265 482h2v1h-2zM269 482h2v1h-2zM317 482h1v1h-1zM265 483h2v1h-2zM269 483h2v1h-2zM292 483h2v1h-2zM317 483h1v1h-1zM321 483h1v1h-1zM271 484h1v1h-1zM292 484h2v1h-2zM262 485h3v1h-3zM271 485h1v1h-1zM289 485h2v1h-2zM298 485h2v1h-2zM262 486h1v1h-1zM268 486h2v1h-2zM294 486h2v1h-2zM317 486h2v1h-2zM262 487h1v1h-1zM277 487h2v1h-2zM290 487h1v1h-1zM317 487h2v1h-2zM262 488h1v1h-1zM265 488h1v1h-1zM267 488h2v1h-2zM277 488h2v1h-2zM290 488h1v1h-1zM343 488h1v1h-1zM264 489h2v1h-2zM298 489h1v1h-1zM343 489h1v1h-1zM264 490h1v1h-1zM264 491h2v1h-2zM276 491h1v1h-1zM289 491h2v1h-2zM314 491h2v1h-2zM264 492h2v1h-2zM281 492h1v1h-1zM289 492h2v1h-2zM298 492h1v1h-1zM268 493h2v1h-2zM277 493h1v1h-1zM284 493h2v1h-2zM292 493h2v1h-2zM268 494h2v1h-2zM282 494h2v1h-2zM295 494h1v1h-1zM321 494h1v1h-1zM275 495h2v1h-2zM320 495h2v1h-2zM266 496h2v1h-2zM275 496h2v1h-2zM283 496h1v1h-1zM320 496h1v1h-1zM261 497h1v1h-1zM266 497h2v1h-2zM283 497h1v1h-1zM316 497h2v1h-2zM336 497h2v1h-2zM244 498h3v1h-3zM255 498h3v1h-3zM259 498h3v1h-3zM273 498h2v1h-2zM336 498h2v1h-2z"/><path fill="#14b014" d="M68 206L68.5 201L72 198L75.5 197.5L78 201L82 203L85 198L90 196.5L94.5 197.5L94 202L91 204.5L86 205L80 206.4L72 207Z"/><path fill="#1010f0" d="M73 200L73.5 196L76 194.5L80 193L84 191L88 190.5L91 190.5L92 186.5L94.5 186L95.7 190L95.7 196L92 198L88 200L84 202L80 202.3L76 201.5Z"/><path fill="#1010f0" d="M89 192h2v2h-2zM98 194h2v2h-2zM79 197h2v2h-2zM86 192h2v2h-2zM89 188h2v2h-2zM80 195h2v2h-2zM86 192h2v2h-2zM95 192h2v2h-2zM83 187h2v2h-2zM75 193h2v2h-2zM87 195h2v2h-2zM90 196h2v2h-2zM85 193h2v2h-2zM83 189h2v2h-2zM84 191h2v2h-2zM74 195h2v2h-2zM80 190h2v2h-2zM78 188h2v2h-2zM82 196h2v2h-2zM94 191h2v2h-2zM79 195h2v2h-2zM86 195h2v2h-2zM84 197h2v2h-2zM93 188h2v2h-2zM86 193h2v2h-2zM84 196h2v2h-2zM95 195h2v2h-2zM76 193h2v2h-2zM86 195h2v2h-2zM91 193h2v2h-2zM93 193h2v2h-2zM91 193h2v2h-2zM94 193h2v2h-2zM92 185h2v2h-2zM93 187h2v2h-2zM93 192h2v2h-2zM95 189h2v2h-2zM92 191h2v2h-2zM94 188h2v2h-2zM93 186h2v2h-2z"/><path fill="#14b014" d="M70 204h2v2h-2zM69 205h2v2h-2zM75 203h2v2h-2zM64 206h2v2h-2zM71 201h2v2h-2zM73 204h2v2h-2zM77 199h2v2h-2zM70 202h2v2h-2zM74 203h2v2h-2zM75 203h2v2h-2zM74 203h2v2h-2zM73 200h2v2h-2zM77 202h2v2h-2zM73 204h2v2h-2zM66 204h2v2h-2zM71 203h2v2h-2zM94 198h2v2h-2zM92 204h2v2h-2zM86 200h2v2h-2zM89 205h2v2h-2zM88 198h2v2h-2zM94 201h2v2h-2zM88 199h2v2h-2zM95 200h2v2h-2zM90 203h2v2h-2zM92 204h2v2h-2zM91 199h2v2h-2zM89 203h2v2h-2zM96 195h2v2h-2zM89 198h2v2h-2zM94 201h2v2h-2zM92 200h2v2h-2zM95 199h2v2h-2zM96 200h2v2h-2zM95 200h2v2h-2z"/><ellipse cx="79.3" cy="199.2" rx="3.9" ry="3.4" fill="#b018d0"/><path fill="#6a1ae6" d="M75 197h2v2h-2zM82 201h2v2h-2zM77 202h2v1.5h-2z"/><path fill="#111" d="M75 191h1.6v1.6h-1.6zM95.5 196h1.6v1.6h-1.6zM91 203.5h1.6v1.6h-1.6z"/><path fill="#1cb01c" d="M382 69h2v1h-2zM375 70h2v1h-2zM380 70h8v1h-8zM374 71h4v1h-4zM379 71h10v1h-10zM374 72h17v1h-17zM373 73h19v1h-19zM373 74h20v1h-20zM373 75h21v1h-21zM372 76h23v1h-23zM371 77h25v1h-25zM371 78h28v1h-28zM370 79h29v1h-29zM370 80h30v1h-30zM370 81h30v1h-30zM370 82h29v1h-29zM370 83h28v1h-28zM370 84h28v1h-28zM370 85h28v1h-28zM370 86h28v1h-28zM370 87h28v1h-28zM370 88h27v1h-27zM371 89h25v1h-25zM372 90h22v1h-22zM373 91h20v1h-20zM373 92h19v1h-19zM374 93h17v1h-17zM380 94h11v1h-11zM381 95h6v1h-6zM381 96h6v1h-6zM381 97h5v1h-5zM380 98h5v1h-5zM378 99h5v1h-5zM368 100h1v1h-1zM373 100h9v1h-9zM367 101h5v1h-5zM374 101h3v1h-3zM379 101h3v1h-3zM384 101h2v1h-2zM368 102h5v1h-5zM380 102h6v1h-6zM369 103h5v1h-5zM380 103h6v1h-6zM388 103h3v1h-3zM369 104h8v1h-8zM380 104h5v1h-5zM388 104h3v1h-3zM369 105h16v1h-16zM388 105h2v1h-2zM369 106h12v1h-12zM382 106h2v1h-2zM370 107h11v1h-11zM372 108h8v1h-8zM377 109h2v1h-2zM246 351h1v1h-1zM232 352h3v1h-3zM245 352h3v1h-3zM225 353h2v1h-2zM229 353h7v1h-7zM245 353h8v1h-8zM223 354h31v1h-31zM219 355h41v1h-41zM218 356h43v1h-43zM262 356h2v1h-2zM218 357h48v1h-48zM218 358h52v1h-52zM217 359h55v1h-55zM209 360h1v1h-1zM213 360h54v1h-54zM268 360h4v1h-4zM208 361h59v1h-59zM270 361h2v1h-2zM207 362h60v1h-60zM278 362h3v1h-3zM207 363h60v1h-60zM278 363h3v1h-3zM207 364h62v1h-62zM208 365h61v1h-61zM296 365h1v1h-1zM210 366h59v1h-59zM281 366h4v1h-4zM295 366h2v1h-2zM211 367h53v1h-53zM266 367h3v1h-3zM281 367h5v1h-5zM295 367h2v1h-2zM210 368h53v1h-53zM266 368h3v1h-3zM281 368h5v1h-5zM294 368h3v1h-3zM210 369h52v1h-52zM265 369h3v1h-3zM281 369h5v1h-5zM294 369h3v1h-3zM214 370h5v1h-5zM222 370h40v1h-40zM264 370h4v1h-4zM281 370h5v1h-5zM294 370h2v1h-2zM216 371h3v1h-3zM222 371h40v1h-40zM263 371h5v1h-5zM281 371h1v1h-1zM285 371h3v1h-3zM217 372h3v1h-3zM222 372h7v1h-7zM232 372h4v1h-4zM238 372h13v1h-13zM256 372h6v1h-6zM264 372h4v1h-4zM270 372h1v1h-1zM285 372h3v1h-3zM218 373h3v1h-3zM233 373h2v1h-2zM239 373h9v1h-9zM258 373h3v1h-3zM269 373h3v1h-3zM285 373h3v1h-3zM219 374h1v1h-1zM240 374h7v1h-7zM270 374h1v1h-1zM285 374h3v1h-3zM243 375h3v1h-3zM286 375h2v1h-2zM287 376h1v1h-1z"/><path fill="#5ad85a" d="M386 70h1v1h-1zM375 71h1v1h-1zM378 72h1v1h-1zM380 73h1v1h-1zM373 74h1v1h-1zM378 74h1v1h-1zM385 75h1v1h-1zM389 75h1v1h-1zM392 75h1v1h-1zM372 77h1v1h-1zM374 77h1v1h-1zM394 77h1v1h-1zM377 78h1v1h-1zM374 80h1v1h-1zM392 81h1v1h-1zM389 84h1v1h-1zM370 85h2v1h-2zM375 85h1v1h-1zM379 85h1v1h-1zM382 85h1v1h-1zM388 85h1v1h-1zM383 86h1v1h-1zM396 86h1v1h-1zM377 88h1v1h-1zM376 89h1v1h-1zM386 91h1v1h-1zM388 91h1v1h-1zM373 92h2v1h-2zM385 92h1v1h-1zM389 92h1v1h-1zM385 94h1v1h-1zM381 96h1v1h-1zM381 97h1v1h-1zM372 102h1v1h-1zM372 104h1v1h-1zM374 104h1v1h-1zM375 105h1v1h-1zM379 105h1v1h-1zM370 107h1v1h-1zM373 107h1v1h-1zM234 353h1v1h-1zM226 354h1v1h-1zM236 355h1v1h-1zM219 356h1v1h-1zM224 356h1v1h-1zM234 356h1v1h-1zM251 356h1v1h-1zM258 356h1v1h-1zM227 357h1v1h-1zM229 357h1v1h-1zM239 357h1v1h-1zM245 357h1v1h-1zM232 358h1v1h-1zM236 358h1v1h-1zM242 358h1v1h-1zM244 358h1v1h-1zM264 358h1v1h-1zM218 359h1v1h-1zM247 359h1v1h-1zM269 359h1v1h-1zM214 360h1v1h-1zM222 360h1v1h-1zM228 360h1v1h-1zM234 360h2v1h-2zM251 360h1v1h-1zM211 361h1v1h-1zM221 361h1v1h-1zM233 361h1v1h-1zM241 361h1v1h-1zM246 361h1v1h-1zM250 361h2v1h-2zM263 361h1v1h-1zM210 362h1v1h-1zM239 362h1v1h-1zM262 362h1v1h-1zM217 363h1v1h-1zM226 363h1v1h-1zM228 363h1v1h-1zM239 363h2v1h-2zM242 363h1v1h-1zM253 363h1v1h-1zM267 364h1v1h-1zM216 365h1v1h-1zM218 365h1v1h-1zM224 365h1v1h-1zM233 365h1v1h-1zM251 365h1v1h-1zM258 365h1v1h-1zM215 366h1v1h-1zM233 366h1v1h-1zM241 366h1v1h-1zM247 366h1v1h-1zM253 366h1v1h-1zM221 367h1v1h-1zM224 367h1v1h-1zM228 367h1v1h-1zM236 367h1v1h-1zM240 367h1v1h-1zM251 367h1v1h-1zM261 367h1v1h-1zM282 367h1v1h-1zM295 367h1v1h-1zM225 368h1v1h-1zM235 368h2v1h-2zM256 368h1v1h-1zM211 369h1v1h-1zM253 369h1v1h-1zM216 370h1v1h-1zM281 370h1v1h-1zM229 371h1v1h-1zM242 371h1v1h-1zM281 371h1v1h-1zM217 372h1v1h-1zM233 372h1v1h-1zM235 372h1v1h-1zM239 372h1v1h-1zM241 372h2v1h-2zM245 372h1v1h-1zM270 372h1v1h-1zM245 374h1v1h-1z"/><path fill="#0e780e" d="M380 71h1v1h-1zM378 72h1v1h-1zM381 72h1v1h-1zM386 72h1v1h-1zM389 72h1v1h-1zM386 73h1v1h-1zM390 76h2v1h-2zM383 77h1v1h-1zM386 78h1v1h-1zM370 79h1v1h-1zM375 80h1v1h-1zM395 80h1v1h-1zM378 82h1v1h-1zM387 84h1v1h-1zM375 85h1v1h-1zM380 85h1v1h-1zM384 86h1v1h-1zM396 86h1v1h-1zM387 87h1v1h-1zM377 88h1v1h-1zM391 88h1v1h-1zM393 88h1v1h-1zM375 90h1v1h-1zM375 92h1v1h-1zM374 93h1v1h-1zM383 106h1v1h-1zM380 107h1v1h-1zM246 352h1v1h-1zM246 353h1v1h-1zM249 353h1v1h-1zM228 354h1v1h-1zM247 354h1v1h-1zM225 357h1v1h-1zM241 357h1v1h-1zM251 357h1v1h-1zM256 357h2v1h-2zM230 360h1v1h-1zM262 360h1v1h-1zM228 361h1v1h-1zM265 361h1v1h-1zM207 362h1v1h-1zM255 364h1v1h-1zM211 365h1v1h-1zM220 365h1v1h-1zM265 365h1v1h-1zM268 365h1v1h-1zM214 366h1v1h-1zM244 367h1v1h-1zM253 367h1v1h-1zM262 367h1v1h-1zM285 367h1v1h-1zM232 368h1v1h-1zM251 368h1v1h-1zM268 368h1v1h-1zM213 369h1v1h-1zM221 369h1v1h-1zM245 369h1v1h-1zM215 370h1v1h-1zM224 370h1v1h-1zM238 370h1v1h-1zM243 370h1v1h-1zM248 370h1v1h-1zM266 371h1v1h-1zM239 372h1v1h-1zM265 372h1v1h-1zM247 373h1v1h-1zM219 374h1v1h-1zM240 374h1v1h-1z"/><path fill="#169416" stroke="#0b620b" stroke-width="0.45" d="M379 70h2v2h-2zM396 76h2v2h-2zM371 69h2v2h-2zM376 69h2v2h-2zM386 69h2v2h-2zM368 88h2v2h-2zM391 70h2v2h-2zM394 91h2v2h-2zM371 95h2v2h-2zM400 84h2v2h-2zM393 67h2v2h-2zM400 89h2v2h-2zM375 69h2v2h-2zM390 70h2v2h-2zM370 67h2v2h-2zM371 76h2v2h-2zM383 68h2v2h-2zM386 69h2v2h-2zM367 74h2v2h-2zM374 95h2v2h-2zM374 70h2v2h-2zM400 81h2v2h-2zM369 71h2v2h-2zM377 67h2v2h-2zM391 95h2v2h-2zM392 71h2v2h-2zM399 87h2v2h-2zM370 77h2v2h-2zM394 71h2v2h-2zM397 88h2v2h-2zM398 91h2v2h-2zM392 95h2v2h-2zM379 68h2v2h-2zM397 91h2v2h-2zM368 78h2v2h-2zM393 67h2v2h-2zM391 95h2v2h-2zM384 69h2v2h-2zM396 89h2v2h-2zM395 94h2v2h-2zM360 94h2v2h-2zM398 101h2v2h-2zM379 111h2v2h-2zM383 109h2v2h-2zM378 98h2v2h-2zM400 111h2v2h-2zM394 103h2v2h-2zM395 105h2v2h-2zM381 112h2v2h-2zM386 98h2v2h-2zM396 102h2v2h-2zM389 112h2v2h-2zM389 106h2v2h-2zM372 100h2v2h-2zM368 97h2v2h-2zM386 107h2v2h-2zM400 88h2v2h-2zM394 97h2v2h-2zM398 92h2v2h-2zM357 103h2v2h-2zM386 110h2v2h-2zM397 104h2v2h-2zM373 119h2v2h-2zM365 93h2v2h-2zM371 98h2v2h-2zM367 94h2v2h-2zM364 93h2v2h-2zM360 107h2v2h-2zM384 109h2v2h-2zM373 113h2v2h-2zM366 100h2v2h-2zM365 101h2v2h-2zM355 110h2v2h-2zM371 97h2v2h-2zM374 99h2v2h-2zM376 102h2v2h-2zM399 99h2v2h-2zM369 112h2v2h-2zM361 116h2v2h-2zM361 100h2v2h-2zM381 110h2v2h-2zM376 111h2v2h-2zM369 108h2v2h-2zM385 111h2v2h-2zM374 95h2v2h-2zM375 112h2v2h-2zM376 110h2v2h-2zM354 104h2v2h-2zM356 98h2v2h-2zM391 101h2v2h-2zM362 112h2v2h-2zM396 101h2v2h-2zM375 116h2v2h-2zM387 101h2v2h-2zM385 110h2v2h-2zM399 101h2v2h-2zM365 120h2v2h-2zM389 100h2v2h-2zM391 112h2v2h-2zM366 107h2v2h-2zM387 110h2v2h-2zM386 105h2v2h-2zM389 107h2v2h-2zM386 111h2v2h-2zM396 113h2v2h-2zM387 114h2v2h-2zM398 104h2v2h-2zM400 105h2v2h-2zM364 92h2v2h-2zM367 102h2v2h-2zM368 107h2v2h-2zM390 102h2v2h-2zM371 94h2v2h-2zM366 81h2v2h-2zM362 104h2v2h-2zM363 72h2v2h-2zM397 99h2v2h-2zM363 88h2v2h-2zM385 100h2v2h-2zM363 89h2v2h-2zM365 96h2v2h-2zM373 109h2v2h-2zM388 66h2v2h-2zM359 93h2v2h-2zM406 97h2v2h-2zM407 112h2v2h-2zM392 102h2v2h-2zM364 107h2v2h-2zM368 95h2v2h-2zM364 89h2v2h-2zM366 61h2v2h-2zM369 76h2v2h-2zM402 82h2v2h-2zM355 85h2v2h-2zM376 95h2v2h-2zM354 83h2v2h-2zM398 93h2v2h-2zM362 89h2v2h-2zM374 97h2v2h-2zM358 100h2v2h-2zM368 89h2v2h-2zM364 83h2v2h-2zM370 96h2v2h-2zM363 96h2v2h-2zM369 88h2v2h-2zM370 90h2v2h-2zM365 80h2v2h-2zM368 85h2v2h-2zM374 112h2v2h-2zM361 81h2v2h-2zM268 372h2v2h-2zM257 350h2v2h-2zM227 347h2v2h-2zM260 354h2v2h-2zM214 354h2v2h-2zM271 372h2v2h-2zM253 375h2v2h-2zM214 351h2v2h-2zM201 357h2v2h-2zM272 361h2v2h-2zM275 352h2v2h-2zM218 374h2v2h-2zM228 373h2v2h-2zM255 353h2v2h-2zM220 374h2v2h-2zM226 373h2v2h-2zM245 348h2v2h-2zM213 357h2v2h-2zM279 361h2v2h-2zM264 355h2v2h-2zM269 368h2v2h-2zM255 379h2v2h-2zM250 376h2v2h-2zM216 358h2v2h-2zM245 351h2v2h-2zM247 375h2v2h-2zM248 347h2v2h-2zM209 370h2v2h-2zM235 350h2v2h-2zM219 379h2v2h-2zM275 354h2v2h-2zM279 371h2v2h-2zM220 354h2v2h-2zM269 368h2v2h-2zM271 351h2v2h-2zM276 361h2v2h-2zM248 350h2v2h-2zM277 364h2v2h-2zM230 348h2v2h-2zM257 373h2v2h-2zM233 350h2v2h-2zM201 358h2v2h-2zM201 359h2v2h-2zM260 377h2v2h-2zM224 378h2v2h-2zM240 375h2v2h-2zM261 348h2v2h-2zM275 361h2v2h-2zM211 379h2v2h-2zM240 379h2v2h-2zM252 375h2v2h-2zM210 359h2v2h-2zM207 349h2v2h-2zM239 352h2v2h-2zM245 376h2v2h-2zM212 359h2v2h-2zM242 352h2v2h-2zM226 379h2v2h-2zM271 358h2v2h-2zM237 353h2v2h-2zM201 356h2v2h-2zM214 372h2v2h-2zM234 374h2v2h-2zM266 357h2v2h-2zM206 369h2v2h-2zM203 366h2v2h-2zM207 360h2v2h-2zM201 362h2v2h-2zM256 347h2v2h-2zM205 354h2v2h-2zM201 361h2v2h-2zM264 350h2v2h-2zM244 348h2v2h-2zM243 350h2v2h-2zM252 352h2v2h-2zM257 352h2v2h-2zM211 370h2v2h-2zM274 370h2v2h-2zM237 348h2v2h-2zM254 348h2v2h-2zM265 353h2v2h-2zM210 358h2v2h-2zM234 374h2v2h-2zM232 375h2v2h-2zM267 357h2v2h-2zM261 353h2v2h-2zM263 355h2v2h-2zM234 379h2v2h-2zM205 354h2v2h-2zM267 357h2v2h-2zM213 356h2v2h-2zM217 353h2v2h-2zM216 347h2v2h-2zM243 349h2v2h-2zM268 372h2v2h-2zM217 356h2v2h-2zM229 348h2v2h-2zM202 353h2v2h-2zM273 360h2v2h-2zM205 368h2v2h-2zM229 352h2v2h-2zM225 352h2v2h-2zM203 362h2v2h-2zM202 357h2v2h-2zM234 349h2v2h-2zM272 364h2v2h-2zM212 359h2v2h-2zM214 353h2v2h-2zM235 350h2v2h-2zM219 377h2v2h-2zM203 359h2v2h-2zM256 374h2v2h-2zM269 374h2v2h-2zM269 369h2v2h-2zM237 377h2v2h-2zM215 354h2v2h-2zM192 368h2v2h-2zM193 374h2v2h-2zM201 370h2v2h-2zM178 361h2v2h-2zM209 378h2v2h-2zM200 366h2v2h-2zM186 356h2v2h-2zM188 377h2v2h-2zM207 361h2v2h-2zM185 363h2v2h-2zM187 359h2v2h-2zM186 361h2v2h-2zM198 361h2v2h-2zM185 374h2v2h-2zM201 366h2v2h-2zM204 369h2v2h-2zM207 365h2v2h-2zM186 383h2v2h-2zM190 373h2v2h-2zM182 372h2v2h-2zM205 356h2v2h-2zM202 372h2v2h-2zM182 368h2v2h-2zM183 359h2v2h-2zM173 363h2v2h-2zM173 380h2v2h-2zM176 374h2v2h-2zM191 372h2v2h-2zM189 373h2v2h-2zM186 367h2v2h-2zM197 372h2v2h-2zM194 376h2v2h-2zM197 364h2v2h-2zM178 366h2v2h-2zM201 360h2v2h-2zM191 360h2v2h-2zM182 371h2v2h-2zM191 361h2v2h-2zM185 358h2v2h-2zM188 374h2v2h-2zM192 364h2v2h-2zM183 376h2v2h-2zM196 369h2v2h-2zM186 368h2v2h-2zM182 376h2v2h-2zM199 378h2v2h-2zM206 366h2v2h-2zM214 381h2v2h-2zM182 358h2v2h-2zM187 358h2v2h-2zM203 378h2v2h-2zM186 367h2v2h-2zM185 357h2v2h-2zM223 375h2v2h-2zM214 373h2v2h-2zM205 374h2v2h-2zM195 365h2v2h-2zM199 370h2v2h-2zM182 356h2v2h-2zM191 361h2v2h-2zM202 376h2v2h-2zM209 369h2v2h-2zM207 350h2v2h-2zM212 375h2v2h-2zM202 368h2v2h-2zM204 365h2v2h-2zM186 376h2v2h-2zM188 371h2v2h-2zM188 363h2v2h-2zM194 352h2v2h-2zM176 365h2v2h-2zM190 365h2v2h-2zM194 367h2v2h-2zM179 364h2v2h-2zM190 370h2v2h-2zM194 372h2v2h-2zM207 370h2v2h-2zM200 367h2v2h-2zM209 376h2v2h-2zM183 360h2v2h-2zM189 369h2v2h-2zM191 364h2v2h-2zM195 366h2v2h-2zM179 376h2v2h-2zM181 372h2v2h-2zM183 375h2v2h-2zM191 370h2v2h-2zM190 366h2v2h-2zM197 358h2v2h-2zM178 358h2v2h-2zM189 358h2v2h-2zM183 372h2v2h-2zM206 359h2v2h-2zM305 361h2v2h-2zM297 378h2v2h-2zM262 354h2v2h-2zM319 371h2v2h-2zM308 370h2v2h-2zM302 368h2v2h-2zM288 377h2v2h-2zM305 362h2v2h-2zM305 368h2v2h-2zM283 360h2v2h-2zM292 371h2v2h-2zM288 376h2v2h-2zM279 372h2v2h-2zM309 368h2v2h-2zM276 357h2v2h-2zM287 367h2v2h-2zM302 370h2v2h-2zM275 375h2v2h-2zM293 367h2v2h-2zM288 367h2v2h-2zM274 366h2v2h-2zM299 361h2v2h-2zM269 361h2v2h-2zM312 364h2v2h-2zM263 368h2v2h-2zM306 370h2v2h-2zM285 363h2v2h-2zM273 363h2v2h-2zM296 364h2v2h-2zM302 368h2v2h-2zM265 378h2v2h-2zM296 363h2v2h-2zM301 381h2v2h-2zM309 372h2v2h-2zM260 375h2v2h-2zM294 378h2v2h-2zM318 362h2v2h-2zM265 375h2v2h-2zM290 365h2v2h-2zM288 370h2v2h-2zM281 353h2v2h-2zM273 370h2v2h-2zM236 377h2v2h-2zM299 362h2v2h-2zM283 375h2v2h-2zM276 378h2v2h-2zM266 375h2v2h-2zM303 379h2v2h-2zM288 362h2v2h-2zM303 370h2v2h-2zM302 359h2v2h-2zM298 370h2v2h-2zM280 367h2v2h-2zM319 375h2v2h-2zM297 367h2v2h-2zM295 364h2v2h-2zM285 363h2v2h-2zM284 371h2v2h-2zM282 363h2v2h-2zM273 369h2v2h-2zM278 378h2v2h-2zM315 368h2v2h-2zM284 378h2v2h-2zM312 372h2v2h-2zM273 368h2v2h-2zM288 356h2v2h-2zM289 378h2v2h-2zM304 363h2v2h-2zM314 369h2v2h-2zM273 376h2v2h-2zM297 365h2v2h-2zM312 378h2v2h-2zM310 359h2v2h-2zM300 365h2v2h-2zM301 363h2v2h-2zM293 373h2v2h-2zM263 373h2v2h-2zM293 374h2v2h-2zM274 369h2v2h-2zM276 368h2v2h-2zM286 363h2v2h-2zM272 372h2v2h-2zM292 374h2v2h-2zM278 368h2v2h-2zM288 371h2v2h-2zM298 370h2v2h-2zM280 372h2v2h-2zM297 366h2v2h-2zM279 361h2v2h-2zM312 374h2v2h-2zM282 365h2v2h-2zM297 374h2v2h-2zM295 359h2v2h-2zM271 362h2v2h-2zM286 365h2v2h-2zM291 367h2v2h-2zM288 356h2v2h-2zM277 362h2v2h-2zM279 371h2v2h-2zM308 368h2v2h-2zM304 364h2v2h-2zM287 360h2v2h-2zM282 372h2v2h-2zM302 361h2v2h-2zM295 365h2v2h-2zM298 372h2v2h-2zM304 373h2v2h-2zM277 375h2v2h-2zM305 378h2v2h-2zM280 367h2v2h-2zM300 362h2v2h-2zM271 374h2v2h-2zM317 369h2v2h-2zM269 361h2v2h-2z"/><path fill="#a226b0" stroke="#70187a" stroke-width="0.4" d="M414 81h2v2h-2zM408 100h2v2h-2zM409 102h2v2h-2zM403 114h2v2h-2zM405 96h2v2h-2zM419 82h2v2h-2zM403 101h2v2h-2zM403 113h2v2h-2zM418 89h2v2h-2zM418 94h2v2h-2zM408 112h2v2h-2zM404 98h2v2h-2zM410 102h2v2h-2zM409 101h2v2h-2zM409 92h2v2h-2zM417 95h2v2h-2zM414 80h2v2h-2zM412 93h2v2h-2zM419 82h2v2h-2zM403 112h2v2h-2zM400 102h2v2h-2zM407 115h2v2h-2zM414 78h2v2h-2zM418 88h2v2h-2zM415 78h2v2h-2zM421 88h2v2h-2zM411 98h2v2h-2zM420 79h2v2h-2zM407 88h2v2h-2zM398 112h2v2h-2zM411 89h2v2h-2zM407 116h2v2h-2zM418 87h2v2h-2zM409 86h2v2h-2zM403 111h2v2h-2zM412 90h2v2h-2zM406 90h2v2h-2zM413 86h2v2h-2zM414 77h2v2h-2zM409 98h2v2h-2zM401 101h2v2h-2zM410 103h2v2h-2zM407 101h2v2h-2zM400 107h2v2h-2zM405 97h2v2h-2zM419 92h2v2h-2zM402 99h2v2h-2zM420 86h2v2h-2zM403 109h2v2h-2zM408 115h2v2h-2zM420 90h2v2h-2zM419 78h2v2h-2zM398 105h2v2h-2zM407 114h2v2h-2zM405 106h2v2h-2zM194 382h2v2h-2zM220 365h2v2h-2zM214 369h2v2h-2zM201 371h2v2h-2zM195 378h2v2h-2zM231 367h2v2h-2zM194 378h2v2h-2zM221 369h2v2h-2zM221 375h2v2h-2zM226 384h2v2h-2zM174 363h2v2h-2zM222 371h2v2h-2zM203 369h2v2h-2zM196 374h2v2h-2zM203 382h2v2h-2zM181 375h2v2h-2zM179 376h2v2h-2zM185 371h2v2h-2zM228 371h2v2h-2zM179 367h2v2h-2zM203 361h2v2h-2z"/><g fill="#1212ee" shape-rendering="auto"><rect x="337.5" y="82.6" width="4.0" height="4.0" rx="0.8"/><rect x="318.5" y="78.6" width="4.0" height="4.0" rx="0.8"/><rect x="312.7" y="90.8" width="4.0" height="4.0" rx="0.8"/><rect x="323.4" y="83.3" width="4.0" height="4.0" rx="0.8"/><rect x="335.1" y="74.9" width="4.0" height="4.0" rx="0.8"/><rect x="338.2" y="76.3" width="4.0" height="4.0" rx="0.8"/><rect x="338.6" y="80.5" width="4.0" height="4.0" rx="0.8"/><rect x="330.8" y="81.0" width="4.0" height="4.0" rx="0.8"/><rect x="329.9" y="81.7" width="4.0" height="4.0" rx="0.8"/><rect x="326.1" y="89.3" width="4.0" height="4.0" rx="0.8"/><rect x="321.4" y="85.6" width="4.0" height="4.0" rx="0.8"/><rect x="328.8" y="90.5" width="4.0" height="4.0" rx="0.8"/><rect x="314.7" y="78.1" width="4.0" height="4.0" rx="0.8"/><rect x="324.1" y="94.0" width="4.0" height="4.0" rx="0.8"/><rect x="318.7" y="86.6" width="4.0" height="4.0" rx="0.8"/><rect x="319.2" y="80.3" width="4.0" height="4.0" rx="0.8"/><rect x="317.6" y="89.2" width="4.0" height="4.0" rx="0.8"/><rect x="317.6" y="87.0" width="4.0" height="4.0" rx="0.8"/><rect x="321.7" y="79.3" width="4.0" height="4.0" rx="0.8"/><rect x="326.5" y="85.8" width="4.0" height="4.0" rx="0.8"/><rect x="330.3" y="76.7" width="4.0" height="4.0" rx="0.8"/><rect x="334.2" y="76.9" width="4.0" height="4.0" rx="0.8"/><rect x="317.1" y="82.2" width="4.0" height="4.0" rx="0.8"/><rect x="337.9" y="80.0" width="4.0" height="4.0" rx="0.8"/><rect x="311.7" y="85.6" width="4.0" height="4.0" rx="0.8"/><rect x="321.4" y="76.7" width="4.0" height="4.0" rx="0.8"/><rect x="319.0" y="88.1" width="4.0" height="4.0" rx="0.8"/><rect x="310.1" y="79.5" width="4.0" height="4.0" rx="0.8"/><rect x="338.5" y="86.1" width="4.0" height="4.0" rx="0.8"/><rect x="322.6" y="85.1" width="4.0" height="4.0" rx="0.8"/><rect x="333.6" y="80.9" width="4.0" height="4.0" rx="0.8"/><rect x="325.8" y="76.1" width="4.0" height="4.0" rx="0.8"/><rect x="328.3" y="76.2" width="4.0" height="4.0" rx="0.8"/><rect x="316.8" y="79.3" width="4.0" height="4.0" rx="0.8"/><rect x="345.1" y="81.2" width="4.0" height="4.0" rx="0.8"/><rect x="319.4" y="81.7" width="4.0" height="4.0" rx="0.8"/><rect x="329.6" y="82.1" width="4.0" height="4.0" rx="0.8"/><rect x="322.6" y="74.2" width="4.0" height="4.0" rx="0.8"/><rect x="324.8" y="76.1" width="4.0" height="4.0" rx="0.8"/><rect x="321.1" y="88.4" width="4.0" height="4.0" rx="0.8"/><rect x="344.4" y="81.5" width="4.0" height="4.0" rx="0.8"/><rect x="332.1" y="77.7" width="4.0" height="4.0" rx="0.8"/><rect x="333.2" y="74.5" width="4.0" height="4.0" rx="0.8"/><rect x="311.2" y="78.2" width="4.0" height="4.0" rx="0.8"/><rect x="336.4" y="83.7" width="4.0" height="4.0" rx="0.8"/><rect x="323.4" y="80.8" width="4.0" height="4.0" rx="0.8"/><rect x="313.8" y="81.5" width="4.0" height="4.0" rx="0.8"/><rect x="322.9" y="80.0" width="4.0" height="4.0" rx="0.8"/><rect x="310.7" y="78.2" width="4.0" height="4.0" rx="0.8"/><rect x="317.2" y="81.9" width="4.0" height="4.0" rx="0.8"/><rect x="327.8" y="83.7" width="4.0" height="4.0" rx="0.8"/><rect x="335.7" y="76.7" width="4.0" height="4.0" rx="0.8"/><rect x="334.4" y="85.5" width="4.0" height="4.0" rx="0.8"/><rect x="332.1" y="83.6" width="4.0" height="4.0" rx="0.8"/><rect x="326.2" y="85.8" width="4.0" height="4.0" rx="0.8"/><rect x="319.7" y="80.1" width="4.0" height="4.0" rx="0.8"/><rect x="327.9" y="76.8" width="4.0" height="4.0" rx="0.8"/><rect x="314.1" y="71.1" width="4.0" height="4.0" rx="0.8"/><rect x="324.8" y="85.3" width="4.0" height="4.0" rx="0.8"/><rect x="315.1" y="86.8" width="4.0" height="4.0" rx="0.8"/><rect x="318.0" y="82.0" width="4.0" height="4.0" rx="0.8"/><rect x="324.9" y="87.6" width="4.0" height="4.0" rx="0.8"/><rect x="335.6" y="85.7" width="4.0" height="4.0" rx="0.8"/><rect x="323.5" y="85.2" width="4.0" height="4.0" rx="0.8"/><rect x="318.1" y="84.1" width="4.0" height="4.0" rx="0.8"/><rect x="321.7" y="83.9" width="4.0" height="4.0" rx="0.8"/><rect x="320.1" y="80.9" width="4.0" height="4.0" rx="0.8"/><rect x="330.9" y="90.0" width="4.0" height="4.0" rx="0.8"/><rect x="316.9" y="79.0" width="4.0" height="4.0" rx="0.8"/><rect x="321.1" y="82.0" width="4.0" height="4.0" rx="0.8"/><rect x="324.2" y="74.1" width="4.0" height="4.0" rx="0.8"/><rect x="312.3" y="86.7" width="4.0" height="4.0" rx="0.8"/><rect x="315.7" y="78.9" width="4.0" height="4.0" rx="0.8"/><rect x="335.8" y="84.1" width="4.0" height="4.0" rx="0.8"/><rect x="317.6" y="81.0" width="4.0" height="4.0" rx="0.8"/><rect x="320.4" y="74.0" width="4.0" height="4.0" rx="0.8"/><rect x="344.0" y="79.5" width="4.0" height="4.0" rx="0.8"/><rect x="332.0" y="83.0" width="4.0" height="4.0" rx="0.8"/><rect x="322.9" y="84.5" width="4.0" height="4.0" rx="0.8"/><rect x="326.4" y="80.8" width="4.0" height="4.0" rx="0.8"/><rect x="311.7" y="86.7" width="4.0" height="4.0" rx="0.8"/><rect x="321.7" y="79.5" width="4.0" height="4.0" rx="0.8"/><rect x="325.7" y="79.7" width="4.0" height="4.0" rx="0.8"/><rect x="319.3" y="82.3" width="4.0" height="4.0" rx="0.8"/><rect x="313.7" y="85.1" width="4.0" height="4.0" rx="0.8"/><rect x="336.3" y="72.1" width="4.0" height="4.0" rx="0.8"/><rect x="331.8" y="81.1" width="4.0" height="4.0" rx="0.8"/><rect x="329.4" y="77.9" width="4.0" height="4.0" rx="0.8"/><rect x="339.7" y="70.5" width="4.0" height="4.0" rx="0.8"/><rect x="330.2" y="87.4" width="4.0" height="4.0" rx="0.8"/><rect x="328.6" y="88.1" width="4.0" height="4.0" rx="0.8"/><rect x="326.6" y="80.8" width="4.0" height="4.0" rx="0.8"/><rect x="332.7" y="82.4" width="4.0" height="4.0" rx="0.8"/><rect x="336.0" y="82.2" width="4.0" height="4.0" rx="0.8"/><rect x="317.2" y="85.3" width="4.0" height="4.0" rx="0.8"/><rect x="323.6" y="79.5" width="4.0" height="4.0" rx="0.8"/><rect x="318.1" y="74.3" width="4.0" height="4.0" rx="0.8"/><rect x="314.9" y="80.0" width="4.0" height="4.0" rx="0.8"/><rect x="330.4" y="76.6" width="4.0" height="4.0" rx="0.8"/><rect x="318.7" y="80.3" width="4.0" height="4.0" rx="0.8"/><rect x="331.2" y="91.9" width="4.0" height="4.0" rx="0.8"/><rect x="330.5" y="81.2" width="4.0" height="4.0" rx="0.8"/><rect x="323.2" y="79.6" width="4.0" height="4.0" rx="0.8"/><rect x="316.8" y="74.8" width="4.0" height="4.0" rx="0.8"/><rect x="316.9" y="86.5" width="4.0" height="4.0" rx="0.8"/><rect x="317.7" y="87.8" width="4.0" height="4.0" rx="0.8"/><rect x="326.9" y="90.0" width="4.0" height="4.0" rx="0.8"/><rect x="334.0" y="81.0" width="4.0" height="4.0" rx="0.8"/><rect x="329.1" y="77.8" width="4.0" height="4.0" rx="0.8"/><rect x="316.4" y="78.5" width="4.0" height="4.0" rx="0.8"/><rect x="325.4" y="82.4" width="4.0" height="4.0" rx="0.8"/><rect x="312.8" y="81.8" width="4.0" height="4.0" rx="0.8"/><rect x="326.2" y="78.0" width="4.0" height="4.0" rx="0.8"/><rect x="313.2" y="83.0" width="4.0" height="4.0" rx="0.8"/><rect x="327.3" y="80.9" width="4.0" height="4.0" rx="0.8"/><rect x="324.1" y="76.8" width="4.0" height="4.0" rx="0.8"/><rect x="323.3" y="84.4" width="4.0" height="4.0" rx="0.8"/><rect x="315.1" y="75.0" width="4.0" height="4.0" rx="0.8"/><rect x="323.9" y="85.2" width="4.0" height="4.0" rx="0.8"/><rect x="329.4" y="77.5" width="4.0" height="4.0" rx="0.8"/><rect x="320.4" y="79.0" width="4.0" height="4.0" rx="0.8"/><rect x="323.9" y="83.8" width="4.0" height="4.0" rx="0.8"/><rect x="328.3" y="85.0" width="4.0" height="4.0" rx="0.8"/><rect x="326.8" y="88.8" width="4.0" height="4.0" rx="0.8"/><rect x="329.4" y="81.5" width="4.0" height="4.0" rx="0.8"/><rect x="317.1" y="87.4" width="4.0" height="4.0" rx="0.8"/><rect x="336.1" y="86.1" width="4.0" height="4.0" rx="0.8"/><rect x="334.8" y="78.5" width="4.0" height="4.0" rx="0.8"/><rect x="328.8" y="87.1" width="4.0" height="4.0" rx="0.8"/><rect x="314.2" y="73.1" width="4.0" height="4.0" rx="0.8"/><rect x="316.6" y="86.0" width="4.0" height="4.0" rx="0.8"/><rect x="323.6" y="72.6" width="4.0" height="4.0" rx="0.8"/><rect x="322.7" y="75.5" width="4.0" height="4.0" rx="0.8"/><rect x="322.3" y="86.6" width="4.0" height="4.0" rx="0.8"/><rect x="345.2" y="76.0" width="4.0" height="4.0" rx="0.8"/><rect x="311.3" y="83.8" width="4.0" height="4.0" rx="0.8"/><rect x="320.5" y="77.1" width="4.0" height="4.0" rx="0.8"/><rect x="330.4" y="75.6" width="4.0" height="4.0" rx="0.8"/><rect x="326.1" y="78.2" width="4.0" height="4.0" rx="0.8"/><rect x="320.2" y="87.5" width="4.0" height="4.0" rx="0.8"/><rect x="332.8" y="80.0" width="4.0" height="4.0" rx="0.8"/><rect x="320.7" y="78.8" width="4.0" height="4.0" rx="0.8"/><rect x="321.7" y="76.2" width="4.0" height="4.0" rx="0.8"/><rect x="330.2" y="85.1" width="4.0" height="4.0" rx="0.8"/><rect x="320.6" y="84.8" width="4.0" height="4.0" rx="0.8"/><rect x="319.7" y="78.1" width="4.0" height="4.0" rx="0.8"/><rect x="331.3" y="77.1" width="4.0" height="4.0" rx="0.8"/><rect x="319.8" y="74.7" width="4.0" height="4.0" rx="0.8"/><rect x="332.2" y="78.0" width="4.0" height="4.0" rx="0.8"/><rect x="324.7" y="84.3" width="4.0" height="4.0" rx="0.8"/><rect x="341.9" y="83.5" width="4.0" height="4.0" rx="0.8"/><rect x="315.4" y="88.4" width="4.0" height="4.0" rx="0.8"/><rect x="321.2" y="84.1" width="4.0" height="4.0" rx="0.8"/><rect x="330.9" y="81.4" width="4.0" height="4.0" rx="0.8"/><rect x="323.3" y="84.4" width="4.0" height="4.0" rx="0.8"/><rect x="347.2" y="77.9" width="4.0" height="4.0" rx="0.8"/><rect x="316.6" y="77.4" width="4.0" height="4.0" rx="0.8"/><rect x="328.8" y="84.4" width="4.0" height="4.0" rx="0.8"/><rect x="318.7" y="84.3" width="4.0" height="4.0" rx="0.8"/><rect x="330.0" y="92.0" width="4.0" height="4.0" rx="0.8"/><rect x="329.2" y="74.2" width="4.0" height="4.0" rx="0.8"/><rect x="315.8" y="74.3" width="4.0" height="4.0" rx="0.8"/><rect x="322.8" y="79.4" width="4.0" height="4.0" rx="0.8"/><rect x="340.6" y="81.0" width="4.0" height="4.0" rx="0.8"/><rect x="322.6" y="83.6" width="4.0" height="4.0" rx="0.8"/><rect x="332.1" y="85.9" width="4.0" height="4.0" rx="0.8"/><rect x="313.0" y="81.5" width="4.0" height="4.0" rx="0.8"/><rect x="336.7" y="79.3" width="4.0" height="4.0" rx="0.8"/><rect x="326.6" y="83.3" width="4.0" height="4.0" rx="0.8"/><rect x="319.2" y="83.0" width="4.0" height="4.0" rx="0.8"/><rect x="321.9" y="84.1" width="4.0" height="4.0" rx="0.8"/><rect x="323.8" y="90.1" width="4.0" height="4.0" rx="0.8"/><rect x="330.7" y="82.3" width="4.0" height="4.0" rx="0.8"/><rect x="342.9" y="72.8" width="4.0" height="4.0" rx="0.8"/><rect x="330.0" y="83.2" width="4.0" height="4.0" rx="0.8"/><rect x="315.7" y="91.5" width="4.0" height="4.0" rx="0.8"/><rect x="326.4" y="77.9" width="4.0" height="4.0" rx="0.8"/><rect x="329.9" y="85.9" width="4.0" height="4.0" rx="0.8"/><rect x="317.7" y="80.0" width="4.0" height="4.0" rx="0.8"/><rect x="324.2" y="81.7" width="4.0" height="4.0" rx="0.8"/><rect x="310.1" y="78.7" width="4.0" height="4.0" rx="0.8"/><rect x="319.0" y="84.8" width="4.0" height="4.0" rx="0.8"/><rect x="311.1" y="80.3" width="4.0" height="4.0" rx="0.8"/><rect x="311.1" y="77.8" width="4.0" height="4.0" rx="0.8"/><rect x="317.8" y="78.4" width="4.0" height="4.0" rx="0.8"/><rect x="323.1" y="81.5" width="4.0" height="4.0" rx="0.8"/><rect x="329.1" y="83.1" width="4.0" height="4.0" rx="0.8"/><rect x="327.3" y="87.1" width="4.0" height="4.0" rx="0.8"/><rect x="328.5" y="76.4" width="4.0" height="4.0" rx="0.8"/><rect x="328.0" y="82.8" width="4.0" height="4.0" rx="0.8"/><rect x="315.9" y="77.4" width="4.0" height="4.0" rx="0.8"/><rect x="316.6" y="76.6" width="4.0" height="4.0" rx="0.8"/><rect x="328.7" y="80.9" width="4.0" height="4.0" rx="0.8"/><rect x="334.1" y="86.7" width="4.0" height="4.0" rx="0.8"/><rect x="340.7" y="86.6" width="4.0" height="4.0" rx="0.8"/><rect x="334.9" y="74.6" width="4.0" height="4.0" rx="0.8"/><rect x="316.7" y="78.4" width="4.0" height="4.0" rx="0.8"/><rect x="320.7" y="84.3" width="4.0" height="4.0" rx="0.8"/><rect x="329.4" y="80.4" width="4.0" height="4.0" rx="0.8"/><rect x="340.6" y="71.7" width="4.0" height="4.0" rx="0.8"/><rect x="316.1" y="76.5" width="4.0" height="4.0" rx="0.8"/><rect x="311.9" y="81.0" width="4.0" height="4.0" rx="0.8"/><rect x="344.4" y="83.9" width="4.0" height="4.0" rx="0.8"/><rect x="327.0" y="76.7" width="4.0" height="4.0" rx="0.8"/><rect x="332.7" y="80.6" width="4.0" height="4.0" rx="0.8"/><rect x="323.2" y="71.9" width="4.0" height="4.0" rx="0.8"/><rect x="327.0" y="76.0" width="4.0" height="4.0" rx="0.8"/><rect x="330.3" y="85.7" width="4.0" height="4.0" rx="0.8"/><rect x="321.9" y="77.1" width="4.0" height="4.0" rx="0.8"/><rect x="328.0" y="84.9" width="4.0" height="4.0" rx="0.8"/><rect x="316.9" y="75.5" width="4.0" height="4.0" rx="0.8"/><rect x="339.7" y="75.4" width="4.0" height="4.0" rx="0.8"/><rect x="312.8" y="77.5" width="4.0" height="4.0" rx="0.8"/><rect x="323.0" y="78.5" width="4.0" height="4.0" rx="0.8"/><rect x="332.9" y="79.2" width="4.0" height="4.0" rx="0.8"/><rect x="319.8" y="77.0" width="4.0" height="4.0" rx="0.8"/><rect x="318.8" y="80.1" width="4.0" height="4.0" rx="0.8"/><rect x="332.3" y="76.9" width="4.0" height="4.0" rx="0.8"/><rect x="333.7" y="81.2" width="4.0" height="4.0" rx="0.8"/><rect x="337.0" y="81.4" width="4.0" height="4.0" rx="0.8"/><rect x="337.0" y="85.5" width="4.0" height="4.0" rx="0.8"/><rect x="324.3" y="87.9" width="4.0" height="4.0" rx="0.8"/><rect x="316.2" y="86.6" width="4.0" height="4.0" rx="0.8"/><rect x="324.7" y="86.3" width="4.0" height="4.0" rx="0.8"/><rect x="322.0" y="79.4" width="4.0" height="4.0" rx="0.8"/><rect x="326.5" y="76.6" width="4.0" height="4.0" rx="0.8"/><rect x="324.0" y="78.0" width="4.0" height="4.0" rx="0.8"/><rect x="322.8" y="81.0" width="4.0" height="4.0" rx="0.8"/><rect x="319.6" y="73.8" width="4.0" height="4.0" rx="0.8"/><rect x="326.6" y="76.9" width="4.0" height="4.0" rx="0.8"/><rect x="313.6" y="77.3" width="4.0" height="4.0" rx="0.8"/><rect x="323.1" y="82.9" width="4.0" height="4.0" rx="0.8"/><rect x="326.3" y="81.7" width="4.0" height="4.0" rx="0.8"/><rect x="332.1" y="81.5" width="4.0" height="4.0" rx="0.8"/><rect x="332.2" y="78.9" width="4.0" height="4.0" rx="0.8"/><rect x="336.9" y="77.5" width="4.0" height="4.0" rx="0.8"/><rect x="320.0" y="89.7" width="4.0" height="4.0" rx="0.8"/><rect x="315.6" y="78.9" width="4.0" height="4.0" rx="0.8"/><rect x="318.7" y="79.9" width="4.0" height="4.0" rx="0.8"/><rect x="327.3" y="83.1" width="4.0" height="4.0" rx="0.8"/><rect x="324.2" y="82.8" width="4.0" height="4.0" rx="0.8"/><rect x="314.1" y="89.8" width="4.0" height="4.0" rx="0.8"/><rect x="319.3" y="81.9" width="4.0" height="4.0" rx="0.8"/><rect x="327.7" y="79.3" width="4.0" height="4.0" rx="0.8"/><rect x="310.8" y="84.3" width="4.0" height="4.0" rx="0.8"/><rect x="328.5" y="82.5" width="4.0" height="4.0" rx="0.8"/><rect x="332.0" y="77.1" width="4.0" height="4.0" rx="0.8"/><rect x="314.5" y="74.0" width="4.0" height="4.0" rx="0.8"/><rect x="319.4" y="76.2" width="4.0" height="4.0" rx="0.8"/><rect x="342.0" y="88.0" width="4.0" height="4.0" rx="0.8"/><rect x="325.1" y="77.0" width="4.0" height="4.0" rx="0.8"/><rect x="333.4" y="90.6" width="4.0" height="4.0" rx="0.8"/><rect x="326.8" y="81.7" width="4.0" height="4.0" rx="0.8"/><rect x="330.3" y="76.9" width="4.0" height="4.0" rx="0.8"/><rect x="312.7" y="85.8" width="4.0" height="4.0" rx="0.8"/><rect x="318.5" y="81.6" width="4.0" height="4.0" rx="0.8"/><rect x="338.3" y="92.1" width="4.0" height="4.0" rx="0.8"/><rect x="332.2" y="77.5" width="4.0" height="4.0" rx="0.8"/><rect x="329.1" y="83.3" width="4.0" height="4.0" rx="0.8"/><rect x="317.8" y="82.4" width="4.0" height="4.0" rx="0.8"/><rect x="320.6" y="80.1" width="4.0" height="4.0" rx="0.8"/><rect x="330.4" y="82.5" width="4.0" height="4.0" rx="0.8"/><rect x="332.0" y="75.0" width="4.0" height="4.0" rx="0.8"/><rect x="343.5" y="76.1" width="4.0" height="4.0" rx="0.8"/><rect x="346.5" y="74.6" width="4.0" height="4.0" rx="0.8"/><rect x="338.6" y="80.3" width="4.0" height="4.0" rx="0.8"/><rect x="311.6" y="79.5" width="4.0" height="4.0" rx="0.8"/><rect x="327.8" y="83.0" width="4.0" height="4.0" rx="0.8"/><rect x="317.1" y="81.6" width="4.0" height="4.0" rx="0.8"/><rect x="342.6" y="82.7" width="4.0" height="4.0" rx="0.8"/><rect x="340.7" y="93.2" width="4.0" height="4.0" rx="0.8"/><rect x="334.7" y="82.3" width="4.0" height="4.0" rx="0.8"/><rect x="350.5" y="93.4" width="4.0" height="4.0" rx="0.8"/><rect x="348.8" y="94.8" width="4.0" height="4.0" rx="0.8"/><rect x="318.5" y="88.7" width="4.0" height="4.0" rx="0.8"/><rect x="337.6" y="80.8" width="4.0" height="4.0" rx="0.8"/><rect x="331.4" y="85.5" width="4.0" height="4.0" rx="0.8"/><rect x="321.1" y="71.0" width="4.0" height="4.0" rx="0.8"/><rect x="331.6" y="71.6" width="4.0" height="4.0" rx="0.8"/><rect x="348.2" y="80.3" width="4.0" height="4.0" rx="0.8"/><rect x="334.9" y="87.0" width="4.0" height="4.0" rx="0.8"/><rect x="325.9" y="94.5" width="4.0" height="4.0" rx="0.8"/><rect x="322.9" y="79.7" width="4.0" height="4.0" rx="0.8"/><rect x="335.8" y="74.0" width="4.0" height="4.0" rx="0.8"/><rect x="330.7" y="90.4" width="4.0" height="4.0" rx="0.8"/><rect x="327.8" y="87.5" width="4.0" height="4.0" rx="0.8"/><rect x="323.7" y="92.7" width="4.0" height="4.0" rx="0.8"/><rect x="333.3" y="87.4" width="4.0" height="4.0" rx="0.8"/><rect x="329.8" y="83.3" width="4.0" height="4.0" rx="0.8"/><rect x="324.7" y="92.5" width="4.0" height="4.0" rx="0.8"/><rect x="319.2" y="85.5" width="4.0" height="4.0" rx="0.8"/><rect x="313.7" y="86.2" width="4.0" height="4.0" rx="0.8"/><rect x="324.0" y="79.5" width="4.0" height="4.0" rx="0.8"/><rect x="334.5" y="89.6" width="4.0" height="4.0" rx="0.8"/><rect x="337.6" y="89.4" width="4.0" height="4.0" rx="0.8"/><rect x="336.5" y="84.2" width="4.0" height="4.0" rx="0.8"/><rect x="346.8" y="80.2" width="4.0" height="4.0" rx="0.8"/><rect x="316.1" y="89.5" width="4.0" height="4.0" rx="0.8"/><rect x="333.4" y="94.3" width="4.0" height="4.0" rx="0.8"/><rect x="339.1" y="88.4" width="4.0" height="4.0" rx="0.8"/><rect x="327.9" y="76.8" width="4.0" height="4.0" rx="0.8"/><rect x="323.8" y="81.2" width="4.0" height="4.0" rx="0.8"/><rect x="329.1" y="77.4" width="4.0" height="4.0" rx="0.8"/><rect x="316.8" y="84.5" width="4.0" height="4.0" rx="0.8"/><rect x="339.2" y="93.1" width="4.0" height="4.0" rx="0.8"/><rect x="326.1" y="74.3" width="4.0" height="4.0" rx="0.8"/><rect x="340.3" y="93.3" width="4.0" height="4.0" rx="0.8"/><rect x="340.2" y="80.7" width="4.0" height="4.0" rx="0.8"/><rect x="340.2" y="87.4" width="4.0" height="4.0" rx="0.8"/><rect x="348.4" y="97.7" width="4.0" height="4.0" rx="0.8"/><rect x="337.5" y="89.4" width="4.0" height="4.0" rx="0.8"/><rect x="339.3" y="96.5" width="4.0" height="4.0" rx="0.8"/><rect x="338.2" y="101.2" width="4.0" height="4.0" rx="0.8"/><rect x="343.5" y="93.6" width="4.0" height="4.0" rx="0.8"/><rect x="340.0" y="100.0" width="4.0" height="4.0" rx="0.8"/><rect x="339.2" y="98.6" width="4.0" height="4.0" rx="0.8"/><rect x="324.9" y="94.2" width="4.0" height="4.0" rx="0.8"/><rect x="339.6" y="86.5" width="4.0" height="4.0" rx="0.8"/><rect x="350.0" y="92.1" width="4.0" height="4.0" rx="0.8"/><rect x="335.7" y="88.6" width="4.0" height="4.0" rx="0.8"/><rect x="341.5" y="96.8" width="4.0" height="4.0" rx="0.8"/><rect x="312.7" y="416.3" width="4.0" height="4.0" rx="0.8"/><rect x="312.5" y="412.9" width="4.0" height="4.0" rx="0.8"/><rect x="291.7" y="452.8" width="4.0" height="4.0" rx="0.8"/><rect x="307.2" y="434.9" width="4.0" height="4.0" rx="0.8"/><rect x="293.3" y="453.6" width="4.0" height="4.0" rx="0.8"/><rect x="292.3" y="456.7" width="4.0" height="4.0" rx="0.8"/><rect x="294.9" y="451.5" width="4.0" height="4.0" rx="0.8"/><rect x="286.6" y="448.3" width="4.0" height="4.0" rx="0.8"/><rect x="306.3" y="434.0" width="4.0" height="4.0" rx="0.8"/><rect x="288.8" y="456.9" width="4.0" height="4.0" rx="0.8"/><rect x="291.8" y="441.6" width="4.0" height="4.0" rx="0.8"/><rect x="288.5" y="456.3" width="4.0" height="4.0" rx="0.8"/><rect x="291.3" y="454.0" width="4.0" height="4.0" rx="0.8"/><rect x="307.7" y="434.8" width="4.0" height="4.0" rx="0.8"/><rect x="288.4" y="451.9" width="4.0" height="4.0" rx="0.8"/><rect x="290.8" y="491.4" width="4.0" height="4.0" rx="0.8"/><rect x="311.3" y="493.0" width="4.0" height="4.0" rx="0.8"/><rect x="295.0" y="495.2" width="4.0" height="4.0" rx="0.8"/><rect x="288.2" y="495.3" width="4.0" height="4.0" rx="0.8"/><rect x="295.5" y="492.8" width="4.0" height="4.0" rx="0.8"/><rect x="290.7" y="495.1" width="4.0" height="4.0" rx="0.8"/><rect x="307.0" y="494.3" width="4.0" height="4.0" rx="0.8"/><rect x="298.0" y="494.0" width="4.0" height="4.0" rx="0.8"/><rect x="291.9" y="492.8" width="4.0" height="4.0" rx="0.8"/><rect x="310.7" y="493.7" width="4.0" height="4.0" rx="0.8"/><rect x="292.2" y="493.6" width="4.0" height="4.0" rx="0.8"/><rect x="299.4" y="495.1" width="4.0" height="4.0" rx="0.8"/><rect x="312.0" y="494.9" width="4.0" height="4.0" rx="0.8"/><rect x="295.6" y="494.9" width="4.0" height="4.0" rx="0.8"/><rect x="284.2" y="495.7" width="4.0" height="4.0" rx="0.8"/><rect x="306.9" y="494.3" width="4.0" height="4.0" rx="0.8"/><rect x="291.8" y="493.4" width="4.0" height="4.0" rx="0.8"/><rect x="285.6" y="494.0" width="4.0" height="4.0" rx="0.8"/><rect x="300.8" y="496.0" width="4.0" height="4.0" rx="0.8"/><rect x="299.1" y="494.4" width="4.0" height="4.0" rx="0.8"/><rect x="285.8" y="494.5" width="4.0" height="4.0" rx="0.8"/><rect x="287.5" y="494.8" width="4.0" height="4.0" rx="0.8"/><rect x="312.1" y="494.2" width="4.0" height="4.0" rx="0.8"/><rect x="288.7" y="495.6" width="4.0" height="4.0" rx="0.8"/><rect x="310.2" y="495.5" width="4.0" height="4.0" rx="0.8"/><rect x="286.3" y="494.8" width="4.0" height="4.0" rx="0.8"/><rect x="297.9" y="495.4" width="4.0" height="4.0" rx="0.8"/><rect x="288.9" y="495.2" width="4.0" height="4.0" rx="0.8"/></g><g fill="#1818d8" stroke="#0c0c96" stroke-width="0.7" shape-rendering="auto"><rect x="324.1" y="70.2" width="3.5" height="3.5" rx="0.7"/><rect x="349.2" y="90.1" width="3.5" height="3.5" rx="0.7"/><rect x="317.2" y="69.5" width="3.5" height="3.5" rx="0.7"/><rect x="334.4" y="70.6" width="3.5" height="3.5" rx="0.7"/><rect x="310.4" y="94.2" width="3.5" height="3.5" rx="0.7"/><rect x="329.5" y="71.3" width="3.5" height="3.5" rx="0.7"/><rect x="340.9" y="110.0" width="3.5" height="3.5" rx="0.7"/><rect x="334.1" y="100.5" width="3.5" height="3.5" rx="0.7"/><rect x="311.6" y="98.6" width="3.5" height="3.5" rx="0.7"/><rect x="352.9" y="70.7" width="3.5" height="3.5" rx="0.7"/><rect x="358.3" y="76.4" width="3.5" height="3.5" rx="0.7"/><rect x="350.7" y="67.9" width="3.5" height="3.5" rx="0.7"/><rect x="346.3" y="66.9" width="3.5" height="3.5" rx="0.7"/><rect x="335.0" y="94.9" width="3.5" height="3.5" rx="0.7"/><rect x="334.9" y="102.7" width="3.5" height="3.5" rx="0.7"/><rect x="351.6" y="85.6" width="3.5" height="3.5" rx="0.7"/><rect x="318.7" y="96.2" width="3.5" height="3.5" rx="0.7"/><rect x="331.8" y="107.9" width="3.5" height="3.5" rx="0.7"/><rect x="351.4" y="89.1" width="3.5" height="3.5" rx="0.7"/><rect x="354.0" y="94.3" width="3.5" height="3.5" rx="0.7"/><rect x="328.5" y="70.1" width="3.5" height="3.5" rx="0.7"/><rect x="344.2" y="72.1" width="3.5" height="3.5" rx="0.7"/><rect x="314.1" y="69.0" width="3.5" height="3.5" rx="0.7"/><rect x="348.5" y="101.4" width="3.5" height="3.5" rx="0.7"/><rect x="354.1" y="84.8" width="3.5" height="3.5" rx="0.7"/><rect x="356.8" y="63.6" width="3.5" height="3.5" rx="0.7"/><rect x="346.5" y="93.3" width="3.5" height="3.5" rx="0.7"/><rect x="352.3" y="76.6" width="3.5" height="3.5" rx="0.7"/><rect x="340.1" y="69.8" width="3.5" height="3.5" rx="0.7"/><rect x="346.3" y="102.4" width="3.5" height="3.5" rx="0.7"/><rect x="345.2" y="98.0" width="3.5" height="3.5" rx="0.7"/><rect x="319.6" y="102.4" width="3.5" height="3.5" rx="0.7"/><rect x="325.0" y="111.5" width="3.5" height="3.5" rx="0.7"/><rect x="319.6" y="94.0" width="3.5" height="3.5" rx="0.7"/><rect x="338.4" y="109.6" width="3.5" height="3.5" rx="0.7"/><rect x="352.9" y="93.2" width="3.5" height="3.5" rx="0.7"/><rect x="345.6" y="98.2" width="3.5" height="3.5" rx="0.7"/><rect x="358.0" y="87.4" width="3.5" height="3.5" rx="0.7"/><rect x="339.9" y="103.2" width="3.5" height="3.5" rx="0.7"/><rect x="332.2" y="98.2" width="3.5" height="3.5" rx="0.7"/><rect x="330.5" y="99.9" width="3.5" height="3.5" rx="0.7"/><rect x="313.7" y="417.7" width="3.5" height="3.5" rx="0.7"/><rect x="308.4" y="391.1" width="3.5" height="3.5" rx="0.7"/><rect x="311.0" y="402.1" width="3.5" height="3.5" rx="0.7"/><rect x="314.3" y="412.7" width="3.5" height="3.5" rx="0.7"/><rect x="314.3" y="408.0" width="3.5" height="3.5" rx="0.7"/><rect x="317.5" y="372.0" width="3.5" height="3.5" rx="0.7"/><rect x="310.3" y="397.1" width="3.5" height="3.5" rx="0.7"/><rect x="299.5" y="395.8" width="3.5" height="3.5" rx="0.7"/><rect x="302.2" y="389.3" width="3.5" height="3.5" rx="0.7"/><rect x="301.0" y="390.0" width="3.5" height="3.5" rx="0.7"/><rect x="318.8" y="376.9" width="3.5" height="3.5" rx="0.7"/><rect x="306.6" y="415.9" width="3.5" height="3.5" rx="0.7"/><rect x="306.1" y="378.3" width="3.5" height="3.5" rx="0.7"/><rect x="314.4" y="388.1" width="3.5" height="3.5" rx="0.7"/><rect x="300.8" y="416.2" width="3.5" height="3.5" rx="0.7"/><rect x="313.6" y="368.8" width="3.5" height="3.5" rx="0.7"/><rect x="310.1" y="414.7" width="3.5" height="3.5" rx="0.7"/><rect x="302.4" y="381.2" width="3.5" height="3.5" rx="0.7"/><rect x="311.0" y="403.2" width="3.5" height="3.5" rx="0.7"/><rect x="308.1" y="407.6" width="3.5" height="3.5" rx="0.7"/><rect x="297.4" y="381.9" width="3.5" height="3.5" rx="0.7"/><rect x="307.0" y="418.7" width="3.5" height="3.5" rx="0.7"/><rect x="299.4" y="370.0" width="3.5" height="3.5" rx="0.7"/><rect x="308.5" y="365.0" width="3.5" height="3.5" rx="0.7"/><rect x="315.2" y="398.0" width="3.5" height="3.5" rx="0.7"/><rect x="313.4" y="410.9" width="3.5" height="3.5" rx="0.7"/><rect x="309.7" y="383.1" width="3.5" height="3.5" rx="0.7"/><rect x="302.0" y="399.6" width="3.5" height="3.5" rx="0.7"/><rect x="307.3" y="379.1" width="3.5" height="3.5" rx="0.7"/><rect x="299.1" y="382.6" width="3.5" height="3.5" rx="0.7"/><rect x="284.4" y="450.6" width="3.5" height="3.5" rx="0.7"/><rect x="281.9" y="431.7" width="3.5" height="3.5" rx="0.7"/><rect x="295.5" y="460.0" width="3.5" height="3.5" rx="0.7"/><rect x="301.2" y="462.6" width="3.5" height="3.5" rx="0.7"/><rect x="305.4" y="463.9" width="3.5" height="3.5" rx="0.7"/><rect x="303.8" y="455.4" width="3.5" height="3.5" rx="0.7"/><rect x="320.0" y="473.3" width="3.5" height="3.5" rx="0.7"/><rect x="325.1" y="419.7" width="3.5" height="3.5" rx="0.7"/><rect x="310.5" y="471.1" width="3.5" height="3.5" rx="0.7"/><rect x="286.9" y="445.0" width="3.5" height="3.5" rx="0.7"/><rect x="281.4" y="482.5" width="3.5" height="3.5" rx="0.7"/><rect x="285.9" y="465.4" width="3.5" height="3.5" rx="0.7"/><rect x="295.5" y="441.3" width="3.5" height="3.5" rx="0.7"/><rect x="319.0" y="450.4" width="3.5" height="3.5" rx="0.7"/><rect x="277.6" y="459.4" width="3.5" height="3.5" rx="0.7"/><rect x="277.3" y="453.2" width="3.5" height="3.5" rx="0.7"/><rect x="283.0" y="472.6" width="3.5" height="3.5" rx="0.7"/><rect x="305.7" y="444.2" width="3.5" height="3.5" rx="0.7"/><rect x="272.4" y="452.8" width="3.5" height="3.5" rx="0.7"/><rect x="277.5" y="442.6" width="3.5" height="3.5" rx="0.7"/><rect x="315.7" y="447.9" width="3.5" height="3.5" rx="0.7"/><rect x="302.6" y="449.8" width="3.5" height="3.5" rx="0.7"/><rect x="281.6" y="462.3" width="3.5" height="3.5" rx="0.7"/><rect x="296.9" y="426.6" width="3.5" height="3.5" rx="0.7"/><rect x="300.6" y="434.3" width="3.5" height="3.5" rx="0.7"/><rect x="302.6" y="449.0" width="3.5" height="3.5" rx="0.7"/><rect x="296.2" y="436.1" width="3.5" height="3.5" rx="0.7"/><rect x="293.2" y="478.6" width="3.5" height="3.5" rx="0.7"/><rect x="295.8" y="478.6" width="3.5" height="3.5" rx="0.7"/><rect x="313.8" y="437.8" width="3.5" height="3.5" rx="0.7"/><rect x="273.9" y="429.5" width="3.5" height="3.5" rx="0.7"/><rect x="296.6" y="455.5" width="3.5" height="3.5" rx="0.7"/><rect x="277.8" y="451.3" width="3.5" height="3.5" rx="0.7"/><rect x="299.2" y="422.9" width="3.5" height="3.5" rx="0.7"/><rect x="305.6" y="467.0" width="3.5" height="3.5" rx="0.7"/><rect x="289.8" y="440.5" width="3.5" height="3.5" rx="0.7"/><rect x="282.7" y="460.6" width="3.5" height="3.5" rx="0.7"/><rect x="296.6" y="489.4" width="3.5" height="3.5" rx="0.7"/><rect x="286.5" y="456.0" width="3.5" height="3.5" rx="0.7"/><rect x="310.9" y="462.1" width="3.5" height="3.5" rx="0.7"/><rect x="305.7" y="432.7" width="3.5" height="3.5" rx="0.7"/><rect x="299.7" y="435.1" width="3.5" height="3.5" rx="0.7"/><rect x="296.8" y="473.1" width="3.5" height="3.5" rx="0.7"/><rect x="324.0" y="453.0" width="3.5" height="3.5" rx="0.7"/><rect x="307.3" y="437.8" width="3.5" height="3.5" rx="0.7"/><rect x="302.6" y="488.1" width="3.5" height="3.5" rx="0.7"/><rect x="286.3" y="472.1" width="3.5" height="3.5" rx="0.7"/><rect x="277.1" y="450.9" width="3.5" height="3.5" rx="0.7"/><rect x="298.0" y="473.3" width="3.5" height="3.5" rx="0.7"/><rect x="291.4" y="474.4" width="3.5" height="3.5" rx="0.7"/><rect x="272.1" y="425.7" width="3.5" height="3.5" rx="0.7"/><rect x="280.6" y="437.1" width="3.5" height="3.5" rx="0.7"/><rect x="285.7" y="445.9" width="3.5" height="3.5" rx="0.7"/><rect x="292.3" y="443.5" width="3.5" height="3.5" rx="0.7"/><rect x="271.0" y="457.6" width="3.5" height="3.5" rx="0.7"/><rect x="298.2" y="426.9" width="3.5" height="3.5" rx="0.7"/><rect x="279.6" y="473.0" width="3.5" height="3.5" rx="0.7"/><rect x="308.7" y="471.7" width="3.5" height="3.5" rx="0.7"/><rect x="306.7" y="481.4" width="3.5" height="3.5" rx="0.7"/><rect x="309.2" y="454.9" width="3.5" height="3.5" rx="0.7"/><rect x="288.5" y="432.3" width="3.5" height="3.5" rx="0.7"/><rect x="302.1" y="423.0" width="3.5" height="3.5" rx="0.7"/><rect x="291.8" y="469.8" width="3.5" height="3.5" rx="0.7"/><rect x="291.4" y="469.3" width="3.5" height="3.5" rx="0.7"/><rect x="296.8" y="448.6" width="3.5" height="3.5" rx="0.7"/><rect x="300.1" y="460.4" width="3.5" height="3.5" rx="0.7"/><rect x="297.2" y="447.9" width="3.5" height="3.5" rx="0.7"/><rect x="314.0" y="418.8" width="3.5" height="3.5" rx="0.7"/><rect x="314.9" y="492.4" width="3.5" height="3.5" rx="0.7"/><rect x="290.8" y="409.2" width="3.5" height="3.5" rx="0.7"/><rect x="320.3" y="473.4" width="3.5" height="3.5" rx="0.7"/><rect x="290.6" y="438.3" width="3.5" height="3.5" rx="0.7"/><rect x="315.4" y="461.0" width="3.5" height="3.5" rx="0.7"/><rect x="290.4" y="476.1" width="3.5" height="3.5" rx="0.7"/><rect x="287.2" y="434.7" width="3.5" height="3.5" rx="0.7"/><rect x="299.4" y="462.7" width="3.5" height="3.5" rx="0.7"/><rect x="292.2" y="431.7" width="3.5" height="3.5" rx="0.7"/><rect x="270.7" y="466.3" width="3.5" height="3.5" rx="0.7"/><rect x="299.1" y="483.1" width="3.5" height="3.5" rx="0.7"/><rect x="299.1" y="429.3" width="3.5" height="3.5" rx="0.7"/><rect x="291.0" y="450.2" width="3.5" height="3.5" rx="0.7"/><rect x="279.8" y="441.5" width="3.5" height="3.5" rx="0.7"/><rect x="292.5" y="474.0" width="3.5" height="3.5" rx="0.7"/><rect x="311.5" y="454.3" width="3.5" height="3.5" rx="0.7"/><rect x="282.1" y="412.6" width="3.5" height="3.5" rx="0.7"/><rect x="290.5" y="449.0" width="3.5" height="3.5" rx="0.7"/><rect x="298.8" y="462.5" width="3.5" height="3.5" rx="0.7"/><rect x="308.1" y="448.7" width="3.5" height="3.5" rx="0.7"/><rect x="300.2" y="467.6" width="3.5" height="3.5" rx="0.7"/><rect x="281.6" y="494.9" width="3.5" height="3.5" rx="0.7"/><rect x="275.4" y="494.7" width="3.5" height="3.5" rx="0.7"/><rect x="304.7" y="492.4" width="3.5" height="3.5" rx="0.7"/><rect x="279.7" y="493.9" width="3.5" height="3.5" rx="0.7"/></g></g><g shape-rendering="auto" filter="url(#t)"><path d="M29 4.7H240.5V210.5H29M35 4.7V217.5" fill="none" stroke="#000" stroke-width="2.0"/><path d="M30 16.9H35M30 29.7H35M30 42.6H35M30 55.4H35M30 68.2H35M30 81.0H35M30 93.8H35M30 106.7H35M30 119.5H35M30 132.3H35M30 145.1H35M30 157.9H35M30 170.8H35M30 183.6H35M30 196.4H35M48.2 210.5V214.5M61.1 210.5V217.5M73.9 210.5V214.5M86.8 210.5V217.5M99.6 210.5V214.5M112.4 210.5V217.5M125.3 210.5V214.5M138.1 210.5V217.5M151.0 210.5V214.5M163.8 210.5V217.5M176.6 210.5V214.5M189.5 210.5V217.5M202.3 210.5V214.5M215.2 210.5V217.5M228.0 210.5V214.5M240.8 210.5V217.5" stroke="#000" stroke-width="2" fill="none"/><path d="M301.8 4.5H515.3V210.2H309.3M301.8 209.4H309.3M309.3 4.5V210.2M310.6 210.2V217.7" fill="none" stroke="#000" stroke-width="2.0"/><path d="M304.8 194.0H309.3M326.0 210.2V214.7M304.8 178.6H309.3M341.4 210.2V214.7M304.8 169.5H309.3M350.4 210.2V214.7M304.8 163.1H309.3M356.8 210.2V214.7M304.8 142.8H309.3M377.2 210.2V214.7M304.8 127.3H309.3M392.6 210.2V214.7M304.8 118.3H309.3M401.6 210.2V214.7M304.8 111.9H309.3M408.0 210.2V214.7M301.8 158.2H309.3M361.8 210.2V217.7M304.8 91.5H309.3M428.4 210.2V214.7M304.8 76.1H309.3M443.8 210.2V214.7M304.8 67.1H309.3M452.8 210.2V214.7M304.8 60.7H309.3M459.2 210.2V214.7M301.8 107.0H309.3M413.0 210.2V217.7M304.8 40.3H309.3M479.6 210.2V214.7M304.8 24.9H309.3M495.0 210.2V214.7M304.8 15.9H309.3M504.0 210.2V214.7M304.8 9.5H309.3M510.4 210.2V214.7M301.8 55.7H309.3M464.2 210.2V217.7M515.3 210.2V217.7" stroke="#000" stroke-width="2" fill="none"/><path d="M161.6 293.9H373.2V500.0H167.6M161.6 499.6H167.6M167.6 293.9V500.0M168.5 500.0V510.5" fill="none" stroke="#000" stroke-width="2.0"/><path d="M162.6 484.1H167.6M183.9 500.0V505.0M162.6 468.6H167.6M199.3 500.0V505.0M162.6 459.6H167.6M208.3 500.0V505.0M162.6 453.2H167.6M214.7 500.0V505.0M162.6 432.7H167.6M235.0 500.0V505.0M162.6 417.2H167.6M250.4 500.0V505.0M162.6 408.2H167.6M259.4 500.0V505.0M162.6 401.7H167.6M265.8 500.0V505.0M161.6 448.2H167.6M219.6 500.0V510.5M162.6 381.3H167.6M286.1 500.0V505.0M162.6 365.8H167.6M301.5 500.0V505.0M162.6 356.7H167.6M310.5 500.0V505.0M162.6 350.3H167.6M316.9 500.0V505.0M161.6 396.8H167.6M270.8 500.0V510.5M162.6 329.8H167.6M337.3 500.0V505.0M162.6 314.4H167.6M352.7 500.0V505.0M162.6 305.3H167.6M361.7 500.0V505.0M162.6 298.9H167.6M368.0 500.0V505.0M161.6 345.3H167.6M321.9 500.0V510.5M373.2 500.0V510.5" stroke="#000" stroke-width="2" fill="none"/><text font-family="&quot;Liberation Sans&quot;, sans-serif" font-size="14.3" fill="#000" stroke="#000" stroke-width="0.1" x="78" y="238.5" xml:space="preserve">Forward  Scatter</text><text font-family="&quot;Liberation Sans&quot;, sans-serif" font-size="14.3" fill="#000" stroke="#000" stroke-width="0.1" x="392.3" y="238.3">CD10</text><text font-family="&quot;Liberation Sans&quot;, sans-serif" font-size="14.3" fill="#000" stroke="#000" stroke-width="0.1" x="263.3" y="533">CD20</text><text font-family="&quot;Liberation Sans&quot;, sans-serif" font-size="14.3" fill="#000" stroke="#000" stroke-width="0.3" transform="translate(15.5 136.5) rotate(-90)">Side Scatter</text><text font-family="&quot;Liberation Sans&quot;, sans-serif" font-size="14.3" fill="#000" stroke="#000" stroke-width="0.3" transform="translate(289.5 127.5) rotate(-90)">CD19</text><text font-family="&quot;Liberation Sans&quot;, sans-serif" font-size="14.3" fill="#000" stroke="#000" stroke-width="0.3" transform="translate(150.2 423.5) rotate(-90)">CD38</text></g>
</svg>
</body></html>
